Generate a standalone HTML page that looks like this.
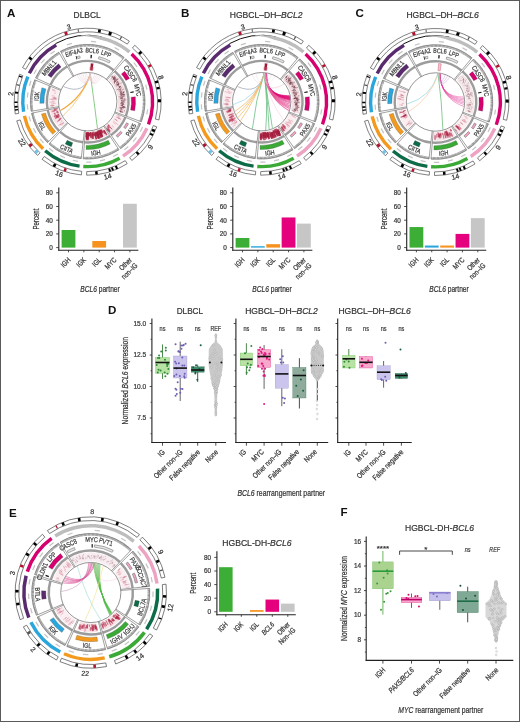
<!DOCTYPE html><html><head><meta charset="utf-8"><style>html,body{margin:0;padding:0;background:#fff}svg{display:block;will-change:transform}text{font-family:"Liberation Sans",sans-serif;stroke-width:0.22px}text[fill="#333"],text[fill="#444"],text[fill="#4a4a4a"]{stroke:#333}text[fill="#111"]{stroke:none}</style></head><body>
<svg width="520" height="722" viewBox="0 0 520 722" font-family='"Liberation Sans", sans-serif'>
<rect x="0" y="0" width="520" height="722" fill="#fff"/>
<rect x="0.5" y="0.5" width="519" height="721" fill="none" stroke="#5a5a5a" stroke-width="1"/>
<text x="7" y="16.8" font-size="11.6" font-weight="bold" fill="#111">A</text>
<text x="181" y="16.9" font-size="11.6" font-weight="bold" fill="#111">B</text>
<text x="355.5" y="16.9" font-size="11.6" font-weight="bold" fill="#111">C</text>
<text x="108" y="313.6" font-size="11.6" font-weight="bold" fill="#111">D</text>
<text x="9" y="516.5" font-size="11.6" font-weight="bold" fill="#111">E</text>
<text x="340.5" y="516.4" font-size="11.6" font-weight="bold" fill="#111">F</text>
<text x="87.1" y="17.6" text-anchor="middle" font-size="9.4" fill="#333" textLength="27" lengthAdjust="spacingAndGlyphs">DLBCL</text>
<text x="229.8" y="17.8" font-size="9.4" fill="#333" textLength="72.7" lengthAdjust="spacingAndGlyphs">HGBCL–DH–<tspan font-style="italic">BCL2</tspan></text>
<text x="406.4" y="17.8" font-size="9.4" fill="#333" textLength="72.4" lengthAdjust="spacingAndGlyphs">HGBCL–DH–<tspan font-style="italic">BCL6</tspan></text>
<path d="M90.8 63.22A38.6 38.6 0 0 1 93.47 63.53L92.41 70.55A31.5 31.5 0 0 0 90.23 70.3Z" fill="#a01834"/>
<path d="M89.78 66.76A35 35 0 0 1 93.66 67.21L93.06 70.66A31.5 31.5 0 0 0 89.57 70.26Z" fill="#c0405a" fill-opacity="0.6"/>
<path d="M114.79 73.65A39 39 0 0 1 124.79 113.75L116.61 111.09A30.4 30.4 0 0 0 108.82 79.83Z" fill="#f3e0e4"/>
<line x1="119.62" y1="86.63" x2="120.26" y2="86.33" stroke="#6e3440" stroke-width="0.65" stroke-opacity="0.75"/>
<line x1="122.69" y1="94.45" x2="123.81" y2="94.22" stroke="#6e3440" stroke-width="0.65" stroke-opacity="0.75"/>
<line x1="112.73" y1="78.93" x2="113.66" y2="78.09" stroke="#6e3440" stroke-width="0.65" stroke-opacity="0.75"/>
<line x1="113.29" y1="79.04" x2="113.84" y2="78.55" stroke="#6e3440" stroke-width="0.65" stroke-opacity="0.75"/>
<line x1="120.36" y1="90.56" x2="121.25" y2="90.26" stroke="#6e3440" stroke-width="0.65" stroke-opacity="0.75"/>
<line x1="121.13" y1="98.28" x2="123.14" y2="98.07" stroke="#6e3440" stroke-width="0.65" stroke-opacity="0.75"/>
<line x1="118.68" y1="96.76" x2="119.34" y2="96.65" stroke="#6e3440" stroke-width="0.65" stroke-opacity="0.75"/>
<line x1="123.61" y1="107.35" x2="124.63" y2="107.51" stroke="#6e3440" stroke-width="0.65" stroke-opacity="0.75"/>
<line x1="115.76" y1="80.74" x2="117.22" y2="79.64" stroke="#6e3440" stroke-width="0.65" stroke-opacity="0.75"/>
<line x1="116.53" y1="81.94" x2="117.74" y2="81.1" stroke="#6e3440" stroke-width="0.65" stroke-opacity="0.75"/>
<line x1="120.63" y1="98.76" x2="121.32" y2="98.69" stroke="#6e3440" stroke-width="0.65" stroke-opacity="0.75"/>
<line x1="113.91" y1="77.94" x2="114.59" y2="77.33" stroke="#6e3440" stroke-width="0.65" stroke-opacity="0.75"/>
<line x1="120.86" y1="100.28" x2="122.33" y2="100.22" stroke="#6e3440" stroke-width="0.65" stroke-opacity="0.75"/>
<line x1="120.88" y1="91.56" x2="121.88" y2="91.25" stroke="#6e3440" stroke-width="0.65" stroke-opacity="0.75"/>
<line x1="121.47" y1="104.56" x2="122.93" y2="104.68" stroke="#6e3440" stroke-width="0.65" stroke-opacity="0.75"/>
<line x1="120.2" y1="94.56" x2="122.07" y2="94.15" stroke="#6e3440" stroke-width="0.65" stroke-opacity="0.75"/>
<line x1="121.04" y1="102.1" x2="121.82" y2="102.11" stroke="#6e3440" stroke-width="0.65" stroke-opacity="0.75"/>
<line x1="123.33" y1="89.26" x2="124.33" y2="88.91" stroke="#6e3440" stroke-width="0.65" stroke-opacity="0.75"/>
<line x1="114.98" y1="81.68" x2="116.27" y2="80.74" stroke="#6e3440" stroke-width="0.65" stroke-opacity="0.75"/>
<line x1="121.88" y1="103.45" x2="123.34" y2="103.53" stroke="#6e3440" stroke-width="0.65" stroke-opacity="0.75"/>
<line x1="120.61" y1="107.52" x2="122.08" y2="107.78" stroke="#6e3440" stroke-width="0.65" stroke-opacity="0.75"/>
<line x1="123.31" y1="96.13" x2="124.58" y2="95.93" stroke="#6e3440" stroke-width="0.65" stroke-opacity="0.75"/>
<line x1="122.96" y1="106.5" x2="124.54" y2="106.72" stroke="#6e3440" stroke-width="0.65" stroke-opacity="0.75"/>
<line x1="112.7" y1="79.1" x2="113.92" y2="77.99" stroke="#6e3440" stroke-width="0.65" stroke-opacity="0.75"/>
<line x1="124.2" y1="98.77" x2="125.22" y2="98.69" stroke="#6e3440" stroke-width="0.65" stroke-opacity="0.75"/>
<line x1="119.46" y1="89.31" x2="120.96" y2="88.73" stroke="#6e3440" stroke-width="0.65" stroke-opacity="0.75"/>
<line x1="111.52" y1="78.24" x2="112.08" y2="77.7" stroke="#6e3440" stroke-width="0.65" stroke-opacity="0.75"/>
<line x1="113.16" y1="78.59" x2="114.46" y2="77.41" stroke="#6e3440" stroke-width="0.65" stroke-opacity="0.75"/>
<line x1="114.77" y1="80.76" x2="116.28" y2="79.6" stroke="#6e3440" stroke-width="0.65" stroke-opacity="0.75"/>
<line x1="114.55" y1="78.49" x2="115.52" y2="77.65" stroke="#6e3440" stroke-width="0.65" stroke-opacity="0.75"/>
<line x1="123.05" y1="94.93" x2="124.91" y2="94.58" stroke="#6e3440" stroke-width="0.65" stroke-opacity="0.75"/>
<line x1="116.43" y1="86.31" x2="117.51" y2="85.73" stroke="#6e3440" stroke-width="0.65" stroke-opacity="0.75"/>
<line x1="121.42" y1="87.36" x2="122.18" y2="87.04" stroke="#6e3440" stroke-width="0.65" stroke-opacity="0.75"/>
<line x1="114.02" y1="83.46" x2="114.8" y2="82.92" stroke="#6e3440" stroke-width="0.65" stroke-opacity="0.75"/>
<line x1="115.52" y1="84.94" x2="116.37" y2="84.43" stroke="#6e3440" stroke-width="0.65" stroke-opacity="0.75"/>
<line x1="111.68" y1="77.09" x2="112.54" y2="76.21" stroke="#6e3440" stroke-width="0.65" stroke-opacity="0.75"/>
<line x1="116.61" y1="89.8" x2="118.12" y2="89.18" stroke="#6e3440" stroke-width="0.65" stroke-opacity="0.75"/>
<line x1="119.75" y1="94.29" x2="121.24" y2="93.95" stroke="#6e3440" stroke-width="0.65" stroke-opacity="0.75"/>
<line x1="124.49" y1="99.95" x2="126.25" y2="99.87" stroke="#6e3440" stroke-width="0.65" stroke-opacity="0.75"/>
<line x1="122.3" y1="107.78" x2="124.07" y2="108.09" stroke="#6e3440" stroke-width="0.65" stroke-opacity="0.75"/>
<line x1="119.2" y1="89.68" x2="120.64" y2="89.13" stroke="#6e3440" stroke-width="0.65" stroke-opacity="0.75"/>
<line x1="113.38" y1="78.57" x2="113.9" y2="78.1" stroke="#6e3440" stroke-width="0.65" stroke-opacity="0.75"/>
<line x1="117.02" y1="82.92" x2="117.59" y2="82.55" stroke="#6e3440" stroke-width="0.65" stroke-opacity="0.75"/>
<line x1="112.17" y1="76.38" x2="112.74" y2="75.78" stroke="#6e3440" stroke-width="0.65" stroke-opacity="0.75"/>
<line x1="113.94" y1="80.07" x2="115.41" y2="78.85" stroke="#6e3440" stroke-width="0.65" stroke-opacity="0.75"/>
<line x1="121.89" y1="97.68" x2="122.71" y2="97.59" stroke="#6e3440" stroke-width="0.65" stroke-opacity="0.75"/>
<line x1="116.74" y1="85.03" x2="117.42" y2="84.64" stroke="#6e3440" stroke-width="0.65" stroke-opacity="0.75"/>
<line x1="122.54" y1="106.8" x2="124.61" y2="107.11" stroke="#6e3440" stroke-width="0.65" stroke-opacity="0.75"/>
<line x1="120.02" y1="92.32" x2="120.74" y2="92.11" stroke="#6e3440" stroke-width="0.65" stroke-opacity="0.75"/>
<line x1="118.98" y1="87.73" x2="119.89" y2="87.32" stroke="#6e3440" stroke-width="0.65" stroke-opacity="0.75"/>
<line x1="121.79" y1="105.91" x2="123.8" y2="106.16" stroke="#6e3440" stroke-width="0.65" stroke-opacity="0.75"/>
<line x1="121.36" y1="94.43" x2="122.16" y2="94.25" stroke="#6e3440" stroke-width="0.65" stroke-opacity="0.75"/>
<line x1="122.78" y1="94.73" x2="124.81" y2="94.33" stroke="#6e3440" stroke-width="0.65" stroke-opacity="0.75"/>
<line x1="121.72" y1="107.24" x2="123.34" y2="107.51" stroke="#6e3440" stroke-width="0.65" stroke-opacity="0.75"/>
<line x1="117.07" y1="85.23" x2="118.6" y2="84.37" stroke="#6e3440" stroke-width="0.65" stroke-opacity="0.75"/>
<line x1="121.73" y1="94.52" x2="123.47" y2="94.15" stroke="#6e3440" stroke-width="0.65" stroke-opacity="0.75"/>
<line x1="119.08" y1="87.13" x2="120.97" y2="86.26" stroke="#6e3440" stroke-width="0.65" stroke-opacity="0.75"/>
<line x1="123.83" y1="107.14" x2="125.62" y2="107.41" stroke="#6e3440" stroke-width="0.65" stroke-opacity="0.75"/>
<line x1="121.63" y1="105.49" x2="123" y2="105.64" stroke="#6e3440" stroke-width="0.65" stroke-opacity="0.75"/>
<line x1="118.27" y1="88.57" x2="118.86" y2="88.32" stroke="#6e3440" stroke-width="0.65" stroke-opacity="0.75"/>
<line x1="112.08" y1="77.98" x2="113.26" y2="76.84" stroke="#6e3440" stroke-width="0.65" stroke-opacity="0.75"/>
<line x1="121.66" y1="110.94" x2="122.88" y2="111.27" stroke="#6e3440" stroke-width="0.65" stroke-opacity="0.75"/>
<line x1="124.02" y1="110.74" x2="125.13" y2="111.01" stroke="#6e3440" stroke-width="0.65" stroke-opacity="0.75"/>
<line x1="116.53" y1="83.76" x2="117.33" y2="83.26" stroke="#6e3440" stroke-width="0.65" stroke-opacity="0.75"/>
<line x1="116.68" y1="82.59" x2="118.31" y2="81.51" stroke="#6e3440" stroke-width="0.65" stroke-opacity="0.75"/>
<line x1="123.31" y1="106.57" x2="124.62" y2="106.75" stroke="#6e3440" stroke-width="0.65" stroke-opacity="0.75"/>
<line x1="121.98" y1="99.18" x2="123.56" y2="99.06" stroke="#6e3440" stroke-width="0.65" stroke-opacity="0.75"/>
<line x1="120.62" y1="108.83" x2="122.35" y2="109.21" stroke="#6e3440" stroke-width="0.65" stroke-opacity="0.75"/>
<line x1="121.07" y1="102.87" x2="122.85" y2="102.93" stroke="#6e3440" stroke-width="0.65" stroke-opacity="0.75"/>
<line x1="118.87" y1="87.35" x2="120.5" y2="86.6" stroke="#6e3440" stroke-width="0.65" stroke-opacity="0.75"/>
<line x1="119.54" y1="110.94" x2="121.48" y2="111.51" stroke="#6e3440" stroke-width="0.65" stroke-opacity="0.75"/>
<line x1="122.7" y1="101.94" x2="123.56" y2="101.94" stroke="#6e3440" stroke-width="0.65" stroke-opacity="0.75"/>
<line x1="115.99" y1="79.7" x2="117.42" y2="78.59" stroke="#6e3440" stroke-width="0.65" stroke-opacity="0.75"/>
<line x1="116.98" y1="79.92" x2="118.46" y2="78.82" stroke="#6e3440" stroke-width="0.65" stroke-opacity="0.75"/>
<line x1="119.81" y1="111.36" x2="121.18" y2="111.77" stroke="#6e3440" stroke-width="0.65" stroke-opacity="0.75"/>
<line x1="113.99" y1="81.44" x2="114.48" y2="81.06" stroke="#6e3440" stroke-width="0.65" stroke-opacity="0.75"/>
<line x1="119.65" y1="110.94" x2="121.57" y2="111.5" stroke="#6e3440" stroke-width="0.65" stroke-opacity="0.75"/>
<line x1="118.96" y1="91.4" x2="120.77" y2="90.8" stroke="#6e3440" stroke-width="0.65" stroke-opacity="0.75"/>
<line x1="121.89" y1="105.82" x2="122.92" y2="105.95" stroke="#6e3440" stroke-width="0.65" stroke-opacity="0.75"/>
<line x1="117.96" y1="83.8" x2="119.24" y2="83.05" stroke="#6e3440" stroke-width="0.65" stroke-opacity="0.75"/>
<line x1="116.97" y1="85.21" x2="118.68" y2="84.24" stroke="#6e3440" stroke-width="0.65" stroke-opacity="0.75"/>
<line x1="119.41" y1="88.01" x2="120.59" y2="87.5" stroke="#6e3440" stroke-width="0.65" stroke-opacity="0.75"/>
<line x1="122.62" y1="96.38" x2="124.57" y2="96.08" stroke="#6e3440" stroke-width="0.65" stroke-opacity="0.75"/>
<line x1="120.15" y1="93.67" x2="121.51" y2="93.34" stroke="#6e3440" stroke-width="0.65" stroke-opacity="0.75"/>
<line x1="122.45" y1="94" x2="123.3" y2="93.81" stroke="#6e3440" stroke-width="0.65" stroke-opacity="0.75"/>
<line x1="111.68" y1="77.09" x2="112.93" y2="75.8" stroke="#6e3440" stroke-width="0.65" stroke-opacity="0.75"/>
<line x1="114.04" y1="83.28" x2="115.21" y2="82.46" stroke="#6e3440" stroke-width="0.65" stroke-opacity="0.75"/>
<line x1="118.97" y1="87.03" x2="120.22" y2="86.44" stroke="#6e3440" stroke-width="0.65" stroke-opacity="0.75"/>
<line x1="121.46" y1="95.47" x2="122.88" y2="95.21" stroke="#6e3440" stroke-width="0.65" stroke-opacity="0.75"/>
<line x1="116.77" y1="84.85" x2="117.65" y2="84.34" stroke="#6e3440" stroke-width="0.65" stroke-opacity="0.75"/>
<line x1="120.17" y1="103.64" x2="121.91" y2="103.75" stroke="#6e3440" stroke-width="0.65" stroke-opacity="0.75"/>
<line x1="121.02" y1="109.03" x2="122.26" y2="109.3" stroke="#6e3440" stroke-width="0.65" stroke-opacity="0.75"/>
<line x1="120.11" y1="97.84" x2="121.74" y2="97.64" stroke="#6e3440" stroke-width="0.65" stroke-opacity="0.75"/>
<line x1="120.34" y1="91.69" x2="121.68" y2="91.28" stroke="#6e3440" stroke-width="0.65" stroke-opacity="0.75"/>
<line x1="122.48" y1="92.12" x2="124.33" y2="91.61" stroke="#6e3440" stroke-width="0.65" stroke-opacity="0.75"/>
<line x1="120.14" y1="109.97" x2="121.1" y2="110.21" stroke="#6e3440" stroke-width="0.65" stroke-opacity="0.75"/>
<line x1="123.66" y1="95.24" x2="124.45" y2="95.09" stroke="#6e3440" stroke-width="0.65" stroke-opacity="0.75"/>
<line x1="113.89" y1="81.08" x2="114.88" y2="80.3" stroke="#6e3440" stroke-width="0.65" stroke-opacity="0.75"/>
<line x1="113.39" y1="79.08" x2="114.6" y2="78.02" stroke="#6e3440" stroke-width="0.65" stroke-opacity="0.75"/>
<line x1="122.31" y1="104.22" x2="124.25" y2="104.37" stroke="#6e3440" stroke-width="0.65" stroke-opacity="0.75"/>
<line x1="115" y1="81.78" x2="115.66" y2="81.3" stroke="#6e3440" stroke-width="0.65" stroke-opacity="0.75"/>
<line x1="119.49" y1="107.59" x2="121.51" y2="107.97" stroke="#6e3440" stroke-width="0.65" stroke-opacity="0.75"/>
<line x1="117.78" y1="82.94" x2="118.91" y2="82.24" stroke="#6e3440" stroke-width="0.65" stroke-opacity="0.75"/>
<line x1="119.98" y1="111.78" x2="121.74" y2="112.34" stroke="#6e3440" stroke-width="0.65" stroke-opacity="0.75"/>
<line x1="114.33" y1="82.59" x2="115.23" y2="81.94" stroke="#6e3440" stroke-width="0.65" stroke-opacity="0.75"/>
<line x1="116.77" y1="82.48" x2="117.67" y2="81.88" stroke="#6e3440" stroke-width="0.65" stroke-opacity="0.75"/>
<line x1="123.54" y1="101.84" x2="124.8" y2="101.84" stroke="#6e3440" stroke-width="0.65" stroke-opacity="0.75"/>
<line x1="112.09" y1="77.44" x2="112.87" y2="76.67" stroke="#6e3440" stroke-width="0.65" stroke-opacity="0.75"/>
<line x1="121.24" y1="98.13" x2="123.3" y2="97.91" stroke="#6e3440" stroke-width="0.65" stroke-opacity="0.75"/>
<line x1="121.76" y1="104.35" x2="123.81" y2="104.51" stroke="#6e3440" stroke-width="0.65" stroke-opacity="0.75"/>
<line x1="114.14" y1="80.06" x2="115.51" y2="78.94" stroke="#6e3440" stroke-width="0.65" stroke-opacity="0.75"/>
<line x1="118.02" y1="85.1" x2="118.72" y2="84.72" stroke="#6e3440" stroke-width="0.65" stroke-opacity="0.75"/>
<line x1="121.97" y1="89.92" x2="122.91" y2="89.59" stroke="#6e3440" stroke-width="0.65" stroke-opacity="0.75"/>
<line x1="114.19" y1="82.14" x2="115.78" y2="80.96" stroke="#6e3440" stroke-width="0.65" stroke-opacity="0.75"/>
<line x1="121.26" y1="96.09" x2="121.94" y2="95.98" stroke="#6e3440" stroke-width="0.65" stroke-opacity="0.75"/>
<line x1="121.34" y1="100.55" x2="122.58" y2="100.51" stroke="#6e3440" stroke-width="0.65" stroke-opacity="0.75"/>
<line x1="114.65" y1="77.97" x2="116" y2="76.78" stroke="#6e3440" stroke-width="0.65" stroke-opacity="0.75"/>
<line x1="113.12" y1="79.88" x2="114.55" y2="78.65" stroke="#6e3440" stroke-width="0.65" stroke-opacity="0.75"/>
<line x1="113.91" y1="78.31" x2="114.74" y2="77.58" stroke="#6e3440" stroke-width="0.65" stroke-opacity="0.75"/>
<line x1="120.25" y1="95.61" x2="122.2" y2="95.24" stroke="#6e3440" stroke-width="0.65" stroke-opacity="0.75"/>
<line x1="118.61" y1="84.67" x2="119.45" y2="84.2" stroke="#6e3440" stroke-width="0.65" stroke-opacity="0.75"/>
<line x1="115.18" y1="79.45" x2="115.83" y2="78.92" stroke="#6e3440" stroke-width="0.65" stroke-opacity="0.75"/>
<line x1="113.05" y1="78.25" x2="113.83" y2="77.53" stroke="#6e3440" stroke-width="0.65" stroke-opacity="0.75"/>
<line x1="122.94" y1="103.3" x2="123.97" y2="103.35" stroke="#6e3440" stroke-width="0.65" stroke-opacity="0.75"/>
<line x1="121.39" y1="93.3" x2="122" y2="93.15" stroke="#6e3440" stroke-width="0.65" stroke-opacity="0.75"/>
<line x1="118.26" y1="84.08" x2="118.8" y2="83.76" stroke="#6e3440" stroke-width="0.65" stroke-opacity="0.75"/>
<line x1="121.1" y1="102.23" x2="122.41" y2="102.26" stroke="#6e3440" stroke-width="0.65" stroke-opacity="0.75"/>
<line x1="120.65" y1="109.8" x2="121.39" y2="109.99" stroke="#6e3440" stroke-width="0.65" stroke-opacity="0.75"/>
<line x1="120.31" y1="105.36" x2="122.15" y2="105.57" stroke="#6e3440" stroke-width="0.65" stroke-opacity="0.75"/>
<line x1="120.25" y1="89.31" x2="121.52" y2="88.82" stroke="#6e3440" stroke-width="0.65" stroke-opacity="0.75"/>
<line x1="123.06" y1="100.47" x2="124.91" y2="100.41" stroke="#6e3440" stroke-width="0.65" stroke-opacity="0.75"/>
<line x1="121.77" y1="101.24" x2="123.32" y2="101.22" stroke="#6e3440" stroke-width="0.65" stroke-opacity="0.75"/>
<line x1="119.58" y1="90.03" x2="120.33" y2="89.76" stroke="#6e3440" stroke-width="0.65" stroke-opacity="0.75"/>
<line x1="113.59" y1="78.81" x2="114.87" y2="77.68" stroke="#6e3440" stroke-width="0.65" stroke-opacity="0.75"/>
<line x1="117.67" y1="84.65" x2="119.29" y2="83.72" stroke="#6e3440" stroke-width="0.65" stroke-opacity="0.75"/>
<line x1="121.87" y1="107.55" x2="123.45" y2="107.82" stroke="#6e3440" stroke-width="0.65" stroke-opacity="0.75"/>
<line x1="117.96" y1="85.64" x2="119.09" y2="85.04" stroke="#6e3440" stroke-width="0.65" stroke-opacity="0.75"/>
<line x1="116.27" y1="81" x2="117.3" y2="80.26" stroke="#6e3440" stroke-width="0.65" stroke-opacity="0.75"/>
<line x1="120.53" y1="83.39" x2="121.59" y2="82.8" stroke="#6e3440" stroke-width="0.65" stroke-opacity="0.75"/>
<line x1="116.5" y1="84.84" x2="118.26" y2="83.8" stroke="#6e3440" stroke-width="0.65" stroke-opacity="0.75"/>
<line x1="118.36" y1="86.62" x2="119.41" y2="86.11" stroke="#6e3440" stroke-width="0.65" stroke-opacity="0.75"/>
<line x1="120.68" y1="92.48" x2="121.99" y2="92.11" stroke="#6e3440" stroke-width="0.65" stroke-opacity="0.75"/>
<line x1="116.23" y1="83.08" x2="117.06" y2="82.53" stroke="#6e3440" stroke-width="0.65" stroke-opacity="0.75"/>
<line x1="113.8" y1="79.6" x2="114.71" y2="78.83" stroke="#6e3440" stroke-width="0.65" stroke-opacity="0.75"/>
<line x1="113.37" y1="77.48" x2="114.06" y2="76.83" stroke="#6e3440" stroke-width="0.65" stroke-opacity="0.75"/>
<line x1="121.68" y1="96.61" x2="123.05" y2="96.4" stroke="#6e3440" stroke-width="0.65" stroke-opacity="0.75"/>
<line x1="120.75" y1="102.87" x2="122.66" y2="102.94" stroke="#6e3440" stroke-width="0.65" stroke-opacity="0.75"/>
<line x1="118" y1="90.02" x2="119.02" y2="89.63" stroke="#6e3440" stroke-width="0.65" stroke-opacity="0.75"/>
<line x1="121.58" y1="112.07" x2="123.08" y2="112.53" stroke="#6e3440" stroke-width="0.65" stroke-opacity="0.75"/>
<line x1="113.86" y1="77.14" x2="115.21" y2="75.87" stroke="#6e3440" stroke-width="0.65" stroke-opacity="0.75"/>
<line x1="119.82" y1="107.99" x2="121.6" y2="108.34" stroke="#6e3440" stroke-width="0.65" stroke-opacity="0.75"/>
<line x1="113.77" y1="81.99" x2="114.88" y2="81.16" stroke="#6e3440" stroke-width="0.65" stroke-opacity="0.75"/>
<line x1="122.09" y1="93.3" x2="123.87" y2="92.87" stroke="#6e3440" stroke-width="0.65" stroke-opacity="0.75"/>
<line x1="119.51" y1="96.88" x2="121.43" y2="96.59" stroke="#6e3440" stroke-width="0.65" stroke-opacity="0.75"/>
<line x1="121.55" y1="100.34" x2="122.19" y2="100.32" stroke="#6e3440" stroke-width="0.65" stroke-opacity="0.75"/>
<line x1="114.14" y1="81.42" x2="115.05" y2="80.73" stroke="#6e3440" stroke-width="0.65" stroke-opacity="0.75"/>
<line x1="114.83" y1="79.5" x2="116.02" y2="78.53" stroke="#6e3440" stroke-width="0.65" stroke-opacity="0.75"/>
<line x1="120.3" y1="98.32" x2="121.91" y2="98.15" stroke="#6e3440" stroke-width="0.65" stroke-opacity="0.75"/>
<line x1="123.03" y1="92.44" x2="124.7" y2="92" stroke="#6e3440" stroke-width="0.65" stroke-opacity="0.75"/>
<line x1="120.96" y1="93.52" x2="122.32" y2="93.19" stroke="#6e3440" stroke-width="0.65" stroke-opacity="0.75"/>
<line x1="123.76" y1="99.3" x2="124.74" y2="99.24" stroke="#6e3440" stroke-width="0.65" stroke-opacity="0.75"/>
<line x1="114.06" y1="78.59" x2="114.81" y2="77.93" stroke="#6e3440" stroke-width="0.65" stroke-opacity="0.75"/>
<line x1="122.49" y1="102.11" x2="124.55" y2="102.14" stroke="#6e3440" stroke-width="0.65" stroke-opacity="0.75"/>
<line x1="122.81" y1="92.69" x2="123.95" y2="92.4" stroke="#6e3440" stroke-width="0.65" stroke-opacity="0.75"/>
<line x1="119.82" y1="92.89" x2="121.29" y2="92.48" stroke="#6e3440" stroke-width="0.65" stroke-opacity="0.75"/>
<line x1="119.76" y1="98.97" x2="120.47" y2="98.91" stroke="#6e3440" stroke-width="0.65" stroke-opacity="0.75"/>
<path d="M123.15 117.48A38.8 38.8 0 0 1 111.05 132.69L105.87 125.82A30.2 30.2 0 0 0 115.29 113.98Z" fill="#faeef1"/>
<line x1="115.9" y1="116.87" x2="119.18" y2="118.63" stroke="#c0506a" stroke-width="0.8" stroke-opacity="0.38"/>
<line x1="115.66" y1="119.74" x2="116.95" y2="120.57" stroke="#c0506a" stroke-width="0.8" stroke-opacity="0.38"/>
<line x1="116.59" y1="115.64" x2="119.75" y2="117.17" stroke="#c0506a" stroke-width="0.8" stroke-opacity="0.38"/>
<line x1="111.91" y1="125.14" x2="113.62" y2="126.79" stroke="#c0506a" stroke-width="0.8" stroke-opacity="0.38"/>
<line x1="113.24" y1="122.37" x2="115.5" y2="124.19" stroke="#c0506a" stroke-width="0.8" stroke-opacity="0.38"/>
<line x1="118.39" y1="117.63" x2="120.25" y2="118.6" stroke="#c0506a" stroke-width="0.8" stroke-opacity="0.38"/>
<line x1="108.92" y1="129.22" x2="109.86" y2="130.44" stroke="#c0506a" stroke-width="0.8" stroke-opacity="0.38"/>
<line x1="114.96" y1="122.48" x2="118.4" y2="125.1" stroke="#c0506a" stroke-width="0.8" stroke-opacity="0.38"/>
<line x1="113.3" y1="121.02" x2="115" y2="122.3" stroke="#c0506a" stroke-width="0.8" stroke-opacity="0.38"/>
<line x1="107.56" y1="126.59" x2="109.58" y2="129.13" stroke="#c0506a" stroke-width="0.8" stroke-opacity="0.38"/>
<line x1="116.89" y1="117.29" x2="120.74" y2="119.35" stroke="#c0506a" stroke-width="0.8" stroke-opacity="0.38"/>
<line x1="118.01" y1="117.71" x2="120.69" y2="119.13" stroke="#c0506a" stroke-width="0.8" stroke-opacity="0.38"/>
<line x1="109.56" y1="127.5" x2="110.98" y2="129.17" stroke="#c0506a" stroke-width="0.8" stroke-opacity="0.38"/>
<line x1="108.86" y1="126.95" x2="109.87" y2="128.16" stroke="#c0506a" stroke-width="0.8" stroke-opacity="0.38"/>
<line x1="117.79" y1="115.16" x2="120.4" y2="116.33" stroke="#c0506a" stroke-width="0.8" stroke-opacity="0.38"/>
<line x1="114.24" y1="118.78" x2="116.37" y2="120.15" stroke="#c0506a" stroke-width="0.8" stroke-opacity="0.38"/>
<line x1="116.46" y1="120.5" x2="117.72" y2="121.32" stroke="#c0506a" stroke-width="0.8" stroke-opacity="0.38"/>
<line x1="111.66" y1="126.32" x2="112.96" y2="127.65" stroke="#c0506a" stroke-width="0.8" stroke-opacity="0.38"/>
<line x1="109.07" y1="127.96" x2="111.72" y2="131.22" stroke="#c0506a" stroke-width="0.8" stroke-opacity="0.38"/>
<line x1="115.13" y1="119.11" x2="117.39" y2="120.55" stroke="#c0506a" stroke-width="0.8" stroke-opacity="0.38"/>
<path d="M114.65 129.61A38.8 38.8 0 0 1 109.95 133.48L105.02 126.44A30.2 30.2 0 0 0 108.68 123.42Z" fill="#f7e3e7"/>
<line x1="106.55" y1="128.61" x2="108.24" y2="131.02" stroke="#b02545" stroke-width="1.13" stroke-opacity="0.6"/>
<line x1="108.05" y1="124.68" x2="109.31" y2="126.11" stroke="#b02545" stroke-width="1.53" stroke-opacity="0.6"/>
<line x1="110.36" y1="127.37" x2="112.01" y2="129.25" stroke="#b02545" stroke-width="0.97" stroke-opacity="0.6"/>
<line x1="107.54" y1="125.85" x2="109.44" y2="128.17" stroke="#b02545" stroke-width="1.66" stroke-opacity="0.6"/>
<line x1="107.56" y1="128.99" x2="109.92" y2="132.24" stroke="#b02545" stroke-width="1.61" stroke-opacity="0.6"/>
<line x1="106.7" y1="128.31" x2="109.25" y2="131.87" stroke="#b02545" stroke-width="0.75" stroke-opacity="0.6"/>
<line x1="107.32" y1="127.36" x2="110.06" y2="130.94" stroke="#b02545" stroke-width="1.34" stroke-opacity="0.6"/>
<line x1="108.01" y1="124.72" x2="111.45" y2="128.62" stroke="#b02545" stroke-width="0.83" stroke-opacity="0.6"/>
<path d="M107.1 135.3A38.8 38.8 0 0 1 85.67 140.45L86.12 131.86A30.2 30.2 0 0 0 102.8 127.85Z" fill="#f4d9df"/>
<line x1="95.53" y1="132.14" x2="96.52" y2="136" stroke="#a51d3d" stroke-width="1.69" stroke-opacity="0.75"/>
<line x1="86.49" y1="132.86" x2="86.27" y2="138.63" stroke="#a51d3d" stroke-width="1.16" stroke-opacity="0.75"/>
<line x1="94.06" y1="132.64" x2="94.73" y2="135.91" stroke="#a51d3d" stroke-width="0.99" stroke-opacity="0.75"/>
<line x1="100.71" y1="132.15" x2="102.67" y2="136.74" stroke="#a51d3d" stroke-width="1.06" stroke-opacity="0.75"/>
<line x1="87.75" y1="135.09" x2="87.76" y2="139.84" stroke="#a51d3d" stroke-width="0.97" stroke-opacity="0.75"/>
<line x1="100" y1="129.8" x2="101.69" y2="133.65" stroke="#a51d3d" stroke-width="0.91" stroke-opacity="0.75"/>
<line x1="99.43" y1="130.58" x2="101.45" y2="135.54" stroke="#a51d3d" stroke-width="1.86" stroke-opacity="0.75"/>
<line x1="90.6" y1="133.21" x2="91.02" y2="137.76" stroke="#a51d3d" stroke-width="1.43" stroke-opacity="0.75"/>
<line x1="97.18" y1="131.65" x2="98.03" y2="134.33" stroke="#a51d3d" stroke-width="1.13" stroke-opacity="0.75"/>
<line x1="86.66" y1="132.46" x2="86.49" y2="137.47" stroke="#a51d3d" stroke-width="1.56" stroke-opacity="0.75"/>
<line x1="88.53" y1="132.74" x2="88.63" y2="136.59" stroke="#a51d3d" stroke-width="1.1" stroke-opacity="0.75"/>
<line x1="96.88" y1="132.08" x2="98.86" y2="138.65" stroke="#a51d3d" stroke-width="1.82" stroke-opacity="0.75"/>
<line x1="88.34" y1="132.16" x2="88.39" y2="134.82" stroke="#a51d3d" stroke-width="1.65" stroke-opacity="0.75"/>
<line x1="87.95" y1="133.52" x2="87.99" y2="138.95" stroke="#a51d3d" stroke-width="0.8" stroke-opacity="0.75"/>
<line x1="97.45" y1="133.42" x2="99.04" y2="138.6" stroke="#a51d3d" stroke-width="1.83" stroke-opacity="0.75"/>
<line x1="86.57" y1="132.82" x2="86.46" y2="135.87" stroke="#a51d3d" stroke-width="0.99" stroke-opacity="0.75"/>
<line x1="94.87" y1="133.34" x2="96.23" y2="139.35" stroke="#a51d3d" stroke-width="1.67" stroke-opacity="0.75"/>
<line x1="92.61" y1="134.02" x2="93.33" y2="138.76" stroke="#a51d3d" stroke-width="1.46" stroke-opacity="0.75"/>
<line x1="103.42" y1="130.43" x2="105.18" y2="133.64" stroke="#a51d3d" stroke-width="1.9" stroke-opacity="0.75"/>
<line x1="92.44" y1="132.65" x2="92.91" y2="135.75" stroke="#a51d3d" stroke-width="1.1" stroke-opacity="0.75"/>
<line x1="92.78" y1="133.8" x2="93.26" y2="136.82" stroke="#a51d3d" stroke-width="0.88" stroke-opacity="0.75"/>
<line x1="94.76" y1="133.06" x2="95.74" y2="137.39" stroke="#a51d3d" stroke-width="1.07" stroke-opacity="0.75"/>
<line x1="93.07" y1="131.65" x2="93.78" y2="135.6" stroke="#a51d3d" stroke-width="1.35" stroke-opacity="0.75"/>
<line x1="86.77" y1="134.02" x2="86.59" y2="140.28" stroke="#a51d3d" stroke-width="1.37" stroke-opacity="0.75"/>
<line x1="99.49" y1="130.52" x2="102.26" y2="137.28" stroke="#a51d3d" stroke-width="1.65" stroke-opacity="0.75"/>
<line x1="98.05" y1="130.35" x2="99.74" y2="135.05" stroke="#a51d3d" stroke-width="1.61" stroke-opacity="0.75"/>
<line x1="96.37" y1="131.64" x2="97.99" y2="137.25" stroke="#a51d3d" stroke-width="1.91" stroke-opacity="0.75"/>
<line x1="99.38" y1="129.88" x2="100.99" y2="133.75" stroke="#a51d3d" stroke-width="1.3" stroke-opacity="0.75"/>
<line x1="91.73" y1="132.43" x2="92.58" y2="138.86" stroke="#a51d3d" stroke-width="1.69" stroke-opacity="0.75"/>
<line x1="94.86" y1="131.88" x2="96.55" y2="139.03" stroke="#a51d3d" stroke-width="1.17" stroke-opacity="0.75"/>
<line x1="89.29" y1="132.75" x2="89.48" y2="136.35" stroke="#a51d3d" stroke-width="1.71" stroke-opacity="0.75"/>
<line x1="99.22" y1="132.9" x2="100.94" y2="137.57" stroke="#a51d3d" stroke-width="1.02" stroke-opacity="0.75"/>
<line x1="99.88" y1="130.91" x2="102.12" y2="136.29" stroke="#a51d3d" stroke-width="1.94" stroke-opacity="0.75"/>
<line x1="101.13" y1="130.28" x2="102.65" y2="133.51" stroke="#a51d3d" stroke-width="1.97" stroke-opacity="0.75"/>
<line x1="100.77" y1="129.32" x2="101.96" y2="131.85" stroke="#a51d3d" stroke-width="1.27" stroke-opacity="0.75"/>
<line x1="87.91" y1="134.75" x2="87.94" y2="140.3" stroke="#a51d3d" stroke-width="2" stroke-opacity="0.75"/>
<line x1="87.29" y1="133.09" x2="87.25" y2="136.51" stroke="#a51d3d" stroke-width="1.92" stroke-opacity="0.75"/>
<line x1="90.55" y1="132.06" x2="91.1" y2="137.86" stroke="#a51d3d" stroke-width="1.25" stroke-opacity="0.75"/>
<line x1="97.23" y1="131.62" x2="98.24" y2="134.8" stroke="#a51d3d" stroke-width="0.8" stroke-opacity="0.75"/>
<line x1="98.85" y1="131.11" x2="101.39" y2="137.79" stroke="#a51d3d" stroke-width="0.95" stroke-opacity="0.75"/>
<line x1="86.71" y1="132.71" x2="86.58" y2="136.99" stroke="#a51d3d" stroke-width="1.79" stroke-opacity="0.75"/>
<line x1="89.29" y1="133.36" x2="89.43" y2="136.1" stroke="#a51d3d" stroke-width="1.37" stroke-opacity="0.75"/>
<line x1="97.78" y1="133.29" x2="98.84" y2="136.59" stroke="#a51d3d" stroke-width="1.24" stroke-opacity="0.75"/>
<line x1="87.91" y1="132.19" x2="87.94" y2="136.74" stroke="#a51d3d" stroke-width="1.77" stroke-opacity="0.75"/>
<line x1="90.2" y1="132.12" x2="90.42" y2="134.78" stroke="#a51d3d" stroke-width="0.88" stroke-opacity="0.75"/>
<line x1="87.5" y1="132.87" x2="87.46" y2="139.11" stroke="#a51d3d" stroke-width="1.88" stroke-opacity="0.75"/>
<line x1="97.77" y1="131.25" x2="100.12" y2="138.15" stroke="#a51d3d" stroke-width="1.54" stroke-opacity="0.75"/>
<line x1="99.55" y1="132.02" x2="101.04" y2="135.82" stroke="#a51d3d" stroke-width="1.13" stroke-opacity="0.75"/>
<line x1="103.97" y1="130.03" x2="106.93" y2="135.17" stroke="#a51d3d" stroke-width="1.56" stroke-opacity="0.75"/>
<line x1="87.1" y1="132.17" x2="87.03" y2="135.84" stroke="#a51d3d" stroke-width="1.37" stroke-opacity="0.75"/>
<line x1="86.79" y1="134.95" x2="86.66" y2="139.38" stroke="#a51d3d" stroke-width="1.1" stroke-opacity="0.75"/>
<line x1="96.39" y1="132.37" x2="98.22" y2="138.84" stroke="#a51d3d" stroke-width="1.02" stroke-opacity="0.75"/>
<path d="M59.79 128.65A38.8 38.8 0 0 1 49.75 109.77L58.16 107.98A30.2 30.2 0 0 0 65.98 122.68Z" fill="#faeef1"/>
<line x1="55.47" y1="112.37" x2="51.7" y2="113.62" stroke="#c0506a" stroke-width="0.8" stroke-opacity="0.38"/>
<line x1="56.14" y1="112.73" x2="53.8" y2="113.55" stroke="#c0506a" stroke-width="0.8" stroke-opacity="0.38"/>
<line x1="60.73" y1="119.74" x2="57.53" y2="121.88" stroke="#c0506a" stroke-width="0.8" stroke-opacity="0.38"/>
<line x1="63.88" y1="122.75" x2="61.06" y2="125.24" stroke="#c0506a" stroke-width="0.8" stroke-opacity="0.38"/>
<line x1="62.44" y1="120.11" x2="61.14" y2="121.05" stroke="#c0506a" stroke-width="0.8" stroke-opacity="0.38"/>
<line x1="58.75" y1="116.02" x2="54.76" y2="117.99" stroke="#c0506a" stroke-width="0.8" stroke-opacity="0.38"/>
<line x1="54.06" y1="111.17" x2="51.85" y2="111.8" stroke="#c0506a" stroke-width="0.8" stroke-opacity="0.38"/>
<line x1="64.12" y1="122.42" x2="61.87" y2="124.4" stroke="#c0506a" stroke-width="0.8" stroke-opacity="0.38"/>
<line x1="57.15" y1="113.6" x2="55.1" y2="114.4" stroke="#c0506a" stroke-width="0.8" stroke-opacity="0.38"/>
<line x1="58.9" y1="118.77" x2="55.87" y2="120.57" stroke="#c0506a" stroke-width="0.8" stroke-opacity="0.38"/>
<line x1="55.4" y1="113.5" x2="52.12" y2="114.7" stroke="#c0506a" stroke-width="0.8" stroke-opacity="0.38"/>
<line x1="61.42" y1="123.84" x2="59.6" y2="125.38" stroke="#c0506a" stroke-width="0.8" stroke-opacity="0.38"/>
<line x1="58.46" y1="115.87" x2="55.12" y2="117.49" stroke="#c0506a" stroke-width="0.8" stroke-opacity="0.38"/>
<line x1="62.36" y1="121.23" x2="60.59" y2="122.59" stroke="#c0506a" stroke-width="0.8" stroke-opacity="0.38"/>
<line x1="60.9" y1="123.48" x2="58.38" y2="125.52" stroke="#c0506a" stroke-width="0.8" stroke-opacity="0.38"/>
<line x1="60.55" y1="119.71" x2="56.82" y2="122.19" stroke="#c0506a" stroke-width="0.8" stroke-opacity="0.38"/>
<line x1="59.45" y1="116.57" x2="55.98" y2="118.4" stroke="#c0506a" stroke-width="0.8" stroke-opacity="0.38"/>
<line x1="55.54" y1="115.41" x2="53.88" y2="116.12" stroke="#c0506a" stroke-width="0.8" stroke-opacity="0.38"/>
<line x1="57.67" y1="118.22" x2="54.14" y2="120.15" stroke="#c0506a" stroke-width="0.8" stroke-opacity="0.38"/>
<line x1="57.56" y1="109.63" x2="55.26" y2="110.23" stroke="#c0506a" stroke-width="0.8" stroke-opacity="0.38"/>
<line x1="63.44" y1="122.19" x2="60.06" y2="125.04" stroke="#c0506a" stroke-width="0.8" stroke-opacity="0.38"/>
<line x1="56.32" y1="116.56" x2="53.95" y2="117.68" stroke="#c0506a" stroke-width="0.8" stroke-opacity="0.38"/>
<path d="M55.16 122.83A38.8 38.8 0 0 1 49.75 109.77L58.16 107.98A30.2 30.2 0 0 0 62.37 118.15Z" fill="#f7e3e7"/>
<line x1="56.48" y1="109.96" x2="54.02" y2="110.61" stroke="#b02545" stroke-width="1.48" stroke-opacity="0.6"/>
<line x1="57.59" y1="108.73" x2="53.8" y2="109.61" stroke="#b02545" stroke-width="1.32" stroke-opacity="0.6"/>
<line x1="59.58" y1="116.92" x2="57.76" y2="117.91" stroke="#b02545" stroke-width="0.9" stroke-opacity="0.6"/>
<line x1="58.56" y1="116.97" x2="54.92" y2="118.87" stroke="#b02545" stroke-width="0.9" stroke-opacity="0.6"/>
<line x1="60.95" y1="118.91" x2="57.41" y2="121.19" stroke="#b02545" stroke-width="0.89" stroke-opacity="0.6"/>
<line x1="59.66" y1="115.64" x2="55.47" y2="117.73" stroke="#b02545" stroke-width="1.25" stroke-opacity="0.6"/>
<line x1="61.4" y1="117.93" x2="58.77" y2="119.54" stroke="#b02545" stroke-width="1.25" stroke-opacity="0.6"/>
<line x1="58.62" y1="112.04" x2="56.59" y2="112.76" stroke="#b02545" stroke-width="1.4" stroke-opacity="0.6"/>
<line x1="58.89" y1="114.77" x2="56.4" y2="115.89" stroke="#b02545" stroke-width="1.65" stroke-opacity="0.6"/>
<line x1="58.36" y1="116.29" x2="55.74" y2="117.59" stroke="#b02545" stroke-width="1.12" stroke-opacity="0.6"/>
<line x1="54.37" y1="110.54" x2="51.51" y2="111.3" stroke="#b02545" stroke-width="0.9" stroke-opacity="0.6"/>
<line x1="57.87" y1="111.23" x2="56.42" y2="111.69" stroke="#b02545" stroke-width="1.6" stroke-opacity="0.6"/>
<line x1="56.86" y1="115.49" x2="54.01" y2="116.77" stroke="#b02545" stroke-width="1.58" stroke-opacity="0.6"/>
<line x1="59.09" y1="114.03" x2="57.66" y2="114.65" stroke="#b02545" stroke-width="1.25" stroke-opacity="0.6"/>
<line x1="55.53" y1="113.12" x2="53.78" y2="113.74" stroke="#b02545" stroke-width="1.32" stroke-opacity="0.6"/>
<line x1="58.28" y1="115.55" x2="56.39" y2="116.44" stroke="#b02545" stroke-width="0.98" stroke-opacity="0.6"/>
<line x1="56" y1="114.54" x2="54.21" y2="115.27" stroke="#b02545" stroke-width="1.19" stroke-opacity="0.6"/>
<line x1="54.68" y1="111.23" x2="52.48" y2="111.86" stroke="#b02545" stroke-width="0.83" stroke-opacity="0.6"/>
<path d="M49.28 107.1A38.8 38.8 0 0 1 51.48 87.8L59.51 90.88A30.2 30.2 0 0 0 57.79 105.9Z" fill="#faeef1"/>
<line x1="54.77" y1="90.14" x2="51.99" y2="89.16" stroke="#c0506a" stroke-width="0.8" stroke-opacity="0.38"/>
<line x1="53.22" y1="105.6" x2="50.57" y2="105.9" stroke="#c0506a" stroke-width="0.8" stroke-opacity="0.38"/>
<line x1="55.9" y1="91.23" x2="52.12" y2="89.99" stroke="#c0506a" stroke-width="0.8" stroke-opacity="0.38"/>
<line x1="53.62" y1="103.7" x2="51.45" y2="103.82" stroke="#c0506a" stroke-width="0.8" stroke-opacity="0.38"/>
<line x1="53.39" y1="99.46" x2="49.41" y2="99.2" stroke="#c0506a" stroke-width="0.8" stroke-opacity="0.38"/>
<line x1="55.86" y1="103.2" x2="53.17" y2="103.32" stroke="#c0506a" stroke-width="0.8" stroke-opacity="0.38"/>
<line x1="55.41" y1="97.72" x2="53.55" y2="97.5" stroke="#c0506a" stroke-width="0.8" stroke-opacity="0.38"/>
<line x1="53.8" y1="102.19" x2="49.61" y2="102.26" stroke="#c0506a" stroke-width="0.8" stroke-opacity="0.38"/>
<line x1="54.69" y1="105.64" x2="50.94" y2="106.09" stroke="#c0506a" stroke-width="0.8" stroke-opacity="0.38"/>
<line x1="53.6" y1="105.82" x2="51.76" y2="106.05" stroke="#c0506a" stroke-width="0.8" stroke-opacity="0.38"/>
<line x1="54.94" y1="96.29" x2="51.61" y2="95.73" stroke="#c0506a" stroke-width="0.8" stroke-opacity="0.38"/>
<line x1="55.02" y1="101.2" x2="51.78" y2="101.15" stroke="#c0506a" stroke-width="0.8" stroke-opacity="0.38"/>
<line x1="54.16" y1="99.15" x2="51.33" y2="98.94" stroke="#c0506a" stroke-width="0.8" stroke-opacity="0.38"/>
<line x1="56.71" y1="99.15" x2="53.37" y2="98.87" stroke="#c0506a" stroke-width="0.8" stroke-opacity="0.38"/>
<line x1="55.95" y1="98.25" x2="52.18" y2="97.84" stroke="#c0506a" stroke-width="0.8" stroke-opacity="0.38"/>
<line x1="55.93" y1="93.41" x2="53.96" y2="92.9" stroke="#c0506a" stroke-width="0.8" stroke-opacity="0.38"/>
<line x1="56.43" y1="98.57" x2="54.55" y2="98.38" stroke="#c0506a" stroke-width="0.8" stroke-opacity="0.38"/>
<line x1="56.43" y1="99.25" x2="53.61" y2="99.02" stroke="#c0506a" stroke-width="0.8" stroke-opacity="0.38"/>
<line x1="56.76" y1="98.01" x2="53.37" y2="97.61" stroke="#c0506a" stroke-width="0.8" stroke-opacity="0.38"/>
<line x1="53.93" y1="105.02" x2="50.11" y2="105.4" stroke="#c0506a" stroke-width="0.8" stroke-opacity="0.38"/>
<path d="M68.36 65.78A40.8 40.8 0 0 1 113.65 70.22" fill="none" stroke="#9c9c9c" stroke-width="2.4"/>
<path d="M61.01 52.13A56.3 56.3 0 0 1 123.51 58.26" fill="none" stroke="#808080" stroke-width="2.4" stroke-dasharray="0.5 0.3"/>
<path d="M60.53 51.25A57.3 57.3 0 0 1 124.15 57.49" fill="none" stroke="#707070" stroke-width="0.6"/>
<line x1="73.86" y1="75.99" x2="60.53" y2="51.25" stroke="#7a7a7a" stroke-width="0.7"/>
<line x1="106.27" y1="79.17" x2="124.15" y2="57.49" stroke="#7a7a7a" stroke-width="0.7"/>
<rect x="66.77" y="43.55" width="5.2" height="1.2" fill="#c4c4c4" transform="rotate(-17.67,69.37,44.15)"/>
<rect x="90.99" y="40.99" width="5.2" height="1.2" fill="#c4c4c4" transform="rotate(5.6,93.59,41.59)"/>
<rect x="114.26" y="48.2" width="5.2" height="1.2" fill="#c4c4c4" transform="rotate(28.87,116.86,48.8)"/>
<path d="M22.56 67.65A73.5 73.5 0 0 1 129.33 41.13L127.29 44.09A69.9 69.9 0 0 0 25.75 69.32Z" fill="#fff" stroke="#4a4a4a" stroke-width="0.7"/>
<path d="M28.4 58.62A73.3 73.3 0 0 1 29.94 56.57L32.46 58.54A70.1 70.1 0 0 0 30.99 60.5Z" fill="#000"/>
<path d="M64.08 32.31A73.3 73.3 0 0 1 67 31.38L67.91 34.45A70.1 70.1 0 0 0 65.11 35.34Z" fill="#b3122e"/>
<path d="M98.28 29.17A73.3 73.3 0 0 1 101.06 29.63L100.47 32.77A70.1 70.1 0 0 0 97.82 32.33Z" fill="#000"/>
<path d="M109.13 31.6A73.3 73.3 0 0 1 112.05 32.56L110.98 35.58A70.1 70.1 0 0 0 108.2 34.66Z" fill="#000"/>
<path d="M120.98 36.39A73.3 73.3 0 0 1 122.11 36.98L120.61 39.81A70.1 70.1 0 0 0 119.52 39.24Z" fill="#555"/>
<path d="M77.5 29.11A73.3 73.3 0 0 1 78.77 28.95L79.16 32.12A70.1 70.1 0 0 0 77.94 32.28Z" fill="#777"/>
<path d="M77.42 56.45A46.4 46.4 0 0 1 79.8 55.98L80.18 58.14A44.2 44.2 0 0 0 77.91 58.6Z" fill="#e6e6e6" stroke="#777" stroke-width="0.6"/>
<text transform="translate(73.94,52.07) rotate(344.5)" text-anchor="middle" dominant-baseline="central" font-size="6.6" fill="#4a4a4a" textLength="18.07" lengthAdjust="spacingAndGlyphs" >EIF4A2</text>
<path d="M75.69 56.26A47 47 0 0 1 76.49 56.06L77.3 59.36A43.6 43.6 0 0 0 76.56 59.55Z" fill="#111"/>
<path d="M90.65 54.79A47 47 0 0 1 91.96 54.89L91.65 58.28A43.6 43.6 0 0 0 90.44 58.19Z" fill="#111"/>
<text transform="translate(92.19,50.4) rotate(5)" text-anchor="middle" dominant-baseline="central" font-size="6.6" fill="#4a4a4a" textLength="13.55" lengthAdjust="spacingAndGlyphs" >BCL6</text>
<path d="M98.93 56.68A46.4 46.4 0 0 1 110.2 61.12L109.13 63.04A44.2 44.2 0 0 0 98.39 58.81Z" fill="#e6e6e6" stroke="#777" stroke-width="0.6"/>
<text transform="translate(106.16,53.62) rotate(21)" text-anchor="middle" dominant-baseline="central" font-size="6.6" fill="#4a4a4a" textLength="10.24" lengthAdjust="spacingAndGlyphs" >LPP</text>
<path d="M114.73 71.14A40.8 40.8 0 0 1 125.92 115.99" fill="none" stroke="#9c9c9c" stroke-width="2.4"/>
<path d="M125.01 59.53A56.3 56.3 0 0 1 140.43 121.42" fill="none" stroke="#808080" stroke-width="2.4" stroke-dasharray="0.5 0.3"/>
<path d="M125.67 58.78A57.3 57.3 0 0 1 141.37 121.77" fill="none" stroke="#707070" stroke-width="0.6"/>
<line x1="107.05" y1="79.83" x2="125.67" y2="58.78" stroke="#7a7a7a" stroke-width="0.7"/>
<line x1="115.05" y1="111.93" x2="141.37" y2="121.77" stroke="#7a7a7a" stroke-width="0.7"/>
<rect x="132.91" y="64.19" width="5.2" height="1.2" fill="#c4c4c4" transform="rotate(52.33,135.51,64.79)"/>
<rect x="143.71" y="86.49" width="5.2" height="1.2" fill="#c4c4c4" transform="rotate(76,146.31,87.09)"/>
<rect x="144.64" y="111.24" width="5.2" height="1.2" fill="#c4c4c4" transform="rotate(-80.33,147.24,111.84)"/>
<path d="M132.78 52.68A66.6 66.6 0 0 1 150.08 125.02L146.9 123.83A63.2 63.2 0 0 0 130.48 55.18Z" fill="#d6006f"/>
<path d="M134.75 45.23A73.5 73.5 0 0 1 158.89 119.98L155.4 119.08A69.9 69.9 0 0 0 132.44 48Z" fill="#fff" stroke="#4a4a4a" stroke-width="0.7"/>
<path d="M140.43 50.78A73.3 73.3 0 0 1 142.34 52.84L139.96 54.98A70.1 70.1 0 0 0 138.13 53Z" fill="#000"/>
<path d="M150.53 63.95A73.3 73.3 0 0 1 151.81 66.16L149.01 67.71A70.1 70.1 0 0 0 147.79 65.6Z" fill="#b3122e"/>
<path d="M157.8 80.27A73.3 73.3 0 0 1 158.5 82.73L155.41 83.56A70.1 70.1 0 0 0 154.74 81.2Z" fill="#000"/>
<path d="M159.45 86.71A73.3 73.3 0 0 1 159.89 88.97L156.74 89.53A70.1 70.1 0 0 0 156.32 87.36Z" fill="#000"/>
<path d="M160.96 99.14A73.3 73.3 0 0 1 161 102.34L157.8 102.31A70.1 70.1 0 0 0 157.76 99.25Z" fill="#000"/>
<path d="M124.66 71.23A47.9 47.9 0 0 1 129.59 78.48L125.92 80.51A43.7 43.7 0 0 0 121.42 73.9Z" fill="#d6006f" stroke="#333" stroke-opacity="0.45" stroke-width="0.5"/>
<text transform="translate(130.65,73.28) rotate(56.5)" text-anchor="middle" dominant-baseline="central" font-size="6.6" fill="#4a4a4a" textLength="18.07" lengthAdjust="spacingAndGlyphs" >CASC8</text>
<path d="M133.55 91.37A47 47 0 0 1 133.77 92.41L130.44 93.08A43.6 43.6 0 0 0 130.23 92.11Z" fill="#111"/>
<text transform="translate(137.88,90.12) rotate(77)" text-anchor="middle" dominant-baseline="central" font-size="6.6" fill="#4a4a4a" textLength="12.04" lengthAdjust="spacingAndGlyphs" >MYC</text>
<path d="M135.34 96.69A47.9 47.9 0 0 1 134.72 110.84L130.6 110.04A43.7 43.7 0 0 0 131.16 97.13Z" fill="#d6006f" stroke="#333" stroke-opacity="0.45" stroke-width="0.5"/>
<path d="M125.39 117.31A40.8 40.8 0 0 1 111.1 135.12" fill="none" stroke="#9c9c9c" stroke-width="2.4"/>
<path d="M139.71 123.25A56.3 56.3 0 0 1 119.99 147.82" fill="none" stroke="#808080" stroke-width="2.4" stroke-dasharray="0.5 0.3"/>
<path d="M140.64 123.63A57.3 57.3 0 0 1 120.57 148.64" fill="none" stroke="#707070" stroke-width="0.6"/>
<line x1="114.68" y1="112.87" x2="140.64" y2="123.63" stroke="#7a7a7a" stroke-width="0.7"/>
<line x1="104.45" y1="125.62" x2="120.57" y2="148.64" stroke="#7a7a7a" stroke-width="0.7"/>
<rect x="138.8" y="128.76" width="5.2" height="1.2" fill="#c4c4c4" transform="rotate(-62.75,141.4,129.36)"/>
<rect x="132.21" y="138.91" width="5.2" height="1.2" fill="#c4c4c4" transform="rotate(-51.25,134.81,139.51)"/>
<rect x="123.72" y="147.54" width="5.2" height="1.2" fill="#c4c4c4" transform="rotate(-39.75,126.32,148.14)"/>
<path d="M148.49 128.89A66.6 66.6 0 0 1 123.88 157.62L122.03 154.76A63.2 63.2 0 0 0 145.39 127.51Z" fill="#eea3c3"/>
<path d="M156.77 126.84A73.5 73.5 0 0 1 131.83 160.48L129.67 157.6A69.9 69.9 0 0 0 153.38 125.61Z" fill="#fff" stroke="#4a4a4a" stroke-width="0.7"/>
<path d="M155.37 129.87A73.3 73.3 0 0 1 154.35 132.21L151.44 130.88A70.1 70.1 0 0 0 152.42 128.64Z" fill="#000"/>
<path d="M153.41 134.18A73.3 73.3 0 0 1 152.42 136.11L149.59 134.61A70.1 70.1 0 0 0 150.54 132.76Z" fill="#000"/>
<path d="M139.53 153.53A73.3 73.3 0 0 1 137.88 155.13L135.69 152.8A70.1 70.1 0 0 0 137.27 151.27Z" fill="#000"/>
<path d="M128.48 123.84A46.4 46.4 0 0 1 125.47 128.64L123.68 127.37A44.2 44.2 0 0 0 126.54 122.79Z" fill="#eea3c3" stroke="#777" stroke-width="0.6"/>
<text transform="translate(130.89,129.75) rotate(-57)" text-anchor="middle" dominant-baseline="central" font-size="6.6" fill="#4a4a4a" textLength="13.45" lengthAdjust="spacingAndGlyphs" >PAX5</text>
<path d="M122.18 132.75A46.4 46.4 0 0 1 117.53 137.24L116.11 135.56A44.2 44.2 0 0 0 120.55 131.28Z" fill="#eea3c3" stroke="#777" stroke-width="0.6"/>
<path d="M109.92 135.92A40.8 40.8 0 0 1 84.5 142.37" fill="none" stroke="#9c9c9c" stroke-width="2.4"/>
<path d="M118.36 148.92A56.3 56.3 0 0 1 83.28 157.83" fill="none" stroke="#808080" stroke-width="2.4" stroke-dasharray="0.5 0.3"/>
<path d="M118.91 149.76A57.3 57.3 0 0 1 83.2 158.82" fill="none" stroke="#707070" stroke-width="0.6"/>
<line x1="103.6" y1="126.19" x2="118.91" y2="149.76" stroke="#7a7a7a" stroke-width="0.7"/>
<line x1="85.41" y1="130.81" x2="83.2" y2="158.82" stroke="#7a7a7a" stroke-width="0.7"/>
<rect x="112.91" y="154.72" width="5.2" height="1.2" fill="#c4c4c4" transform="rotate(-27.42,115.51,155.32)"/>
<rect x="99.97" y="159.64" width="5.2" height="1.2" fill="#c4c4c4" transform="rotate(-14.25,102.57,160.24)"/>
<rect x="86.24" y="161.49" width="5.2" height="1.2" fill="#c4c4c4" transform="rotate(-1.08,88.84,162.09)"/>
<path d="M120.5 159.67A66.6 66.6 0 0 1 83.17 168.15L83.4 164.75A63.2 63.2 0 0 0 118.82 156.71Z" fill="#3aa935"/>
<path d="M127.19 163.69A73.5 73.5 0 0 1 86.67 175.19L86.72 171.59A69.9 69.9 0 0 0 125.26 160.65Z" fill="#fff" stroke="#4a4a4a" stroke-width="0.7"/>
<path d="M118.1 168.4A73.3 73.3 0 0 1 116.1 169.27L114.86 166.32A70.1 70.1 0 0 0 116.77 165.49Z" fill="#000"/>
<path d="M113.97 170.13A73.3 73.3 0 0 1 112.05 170.84L110.98 167.82A70.1 70.1 0 0 0 112.82 167.14Z" fill="#000"/>
<path d="M111.08 171.17A73.3 73.3 0 0 1 109.13 171.8L108.2 168.74A70.1 70.1 0 0 0 110.06 168.14Z" fill="#000"/>
<path d="M97.9 174.29A73.3 73.3 0 0 1 95.36 174.6L95.03 171.42A70.1 70.1 0 0 0 97.46 171.12Z" fill="#000"/>
<path d="M110.19 143.99A47.9 47.9 0 0 1 86.03 149.57L86.17 145.37A43.7 43.7 0 0 0 108.22 140.28Z" fill="#3aa935" stroke="#333" stroke-opacity="0.45" stroke-width="0.5"/>
<text transform="translate(95.76,152.57) rotate(-9)" text-anchor="middle" dominant-baseline="central" font-size="6.6" fill="#4a4a4a" textLength="9.63" lengthAdjust="spacingAndGlyphs" >IGH</text>
<path d="M83.08 142.24A40.8 40.8 0 0 1 60.14 131.78" fill="none" stroke="#9c9c9c" stroke-width="2.4"/>
<path d="M81.33 157.64A56.3 56.3 0 0 1 49.66 143.21" fill="none" stroke="#808080" stroke-width="2.4" stroke-dasharray="0.5 0.3"/>
<path d="M81.21 158.63A57.3 57.3 0 0 1 48.99 143.95" fill="none" stroke="#707070" stroke-width="0.6"/>
<line x1="84.39" y1="130.71" x2="81.21" y2="158.63" stroke="#7a7a7a" stroke-width="0.7"/>
<line x1="67.97" y1="123.23" x2="48.99" y2="143.95" stroke="#7a7a7a" stroke-width="0.7"/>
<rect x="72.71" y="160.22" width="5.2" height="1.2" fill="#c4c4c4" transform="rotate(11.83,75.31,160.82)"/>
<rect x="60.05" y="156.06" width="5.2" height="1.2" fill="#c4c4c4" transform="rotate(24.5,62.65,156.66)"/>
<rect x="48.61" y="149.23" width="5.2" height="1.2" fill="#c4c4c4" transform="rotate(37.17,51.21,149.83)"/>
<path d="M79.35 167.77A66.6 66.6 0 0 1 44.09 152.04L46.32 149.47A63.2 63.2 0 0 0 79.78 164.4Z" fill="#0d6b48"/>
<path d="M81.42 174.93A73.5 73.5 0 0 1 42.05 159.3L44.28 156.48A69.9 69.9 0 0 0 81.73 171.34Z" fill="#fff" stroke="#4a4a4a" stroke-width="0.7"/>
<path d="M65.9 171.68A73.3 73.3 0 0 1 63.47 170.88L64.53 167.86A70.1 70.1 0 0 0 66.85 168.63Z" fill="#b3122e"/>
<path d="M55.11 167.36A73.3 73.3 0 0 1 52.61 166.06L54.14 163.25A70.1 70.1 0 0 0 56.53 164.49Z" fill="#000"/>
<path d="M71.32 146.71A47.9 47.9 0 0 1 65.21 143.99L67.18 140.28A43.7 43.7 0 0 0 72.75 142.76Z" fill="#0d6b48" stroke="#333" stroke-opacity="0.45" stroke-width="0.5"/>
<text transform="translate(66.75,148.75) rotate(24)" text-anchor="middle" dominant-baseline="central" font-size="6.6" fill="#4a4a4a" textLength="13.44" lengthAdjust="spacingAndGlyphs" >CIITA</text>
<path d="M59.1 130.8A40.8 40.8 0 0 1 47.73 109.9" fill="none" stroke="#9c9c9c" stroke-width="2.4"/>
<path d="M48.24 141.86A56.3 56.3 0 0 1 32.55 113.02" fill="none" stroke="#808080" stroke-width="2.4" stroke-dasharray="0.5 0.3"/>
<path d="M47.54 142.57A57.3 57.3 0 0 1 31.57 113.22" fill="none" stroke="#707070" stroke-width="0.6"/>
<line x1="67.23" y1="122.53" x2="47.54" y2="142.57" stroke="#7a7a7a" stroke-width="0.7"/>
<line x1="59.1" y1="107.57" x2="31.57" y2="113.22" stroke="#7a7a7a" stroke-width="0.7"/>
<rect x="39.18" y="140.34" width="5.2" height="1.2" fill="#c4c4c4" transform="rotate(49.48,41.78,140.94)"/>
<rect x="32.04" y="129.97" width="5.2" height="1.2" fill="#c4c4c4" transform="rotate(61.45,34.64,130.57)"/>
<rect x="27.21" y="118.34" width="5.2" height="1.2" fill="#c4c4c4" transform="rotate(73.42,29.81,118.94)"/>
<path d="M41.94 150.09A66.6 66.6 0 0 1 22.73 116.34L26.05 115.59A63.2 63.2 0 0 0 44.28 147.62Z" fill="#f39a1e"/>
<path d="M37.57 155.45A73.5 73.5 0 0 1 16.74 120.85L20.21 119.91A69.9 69.9 0 0 0 40.03 152.82Z" fill="#fff" stroke="#4a4a4a" stroke-width="0.7"/>
<path d="M36.32 153.98A73.3 73.3 0 0 1 34.09 151.69L36.43 149.51A70.1 70.1 0 0 0 38.57 151.7Z" fill="#6fc3ea"/>
<path d="M30.33 147.33A73.3 73.3 0 0 1 28.4 144.78L30.99 142.9A70.1 70.1 0 0 0 32.84 145.34Z" fill="#b3122e"/>
<path d="M52.67 134.37A47.9 47.9 0 0 1 41.43 114.1L45.49 113.01A43.7 43.7 0 0 0 55.74 131.5Z" fill="#f39a1e" stroke="#333" stroke-opacity="0.45" stroke-width="0.5"/>
<text transform="translate(42.23,125.88) rotate(62)" text-anchor="middle" dominant-baseline="central" font-size="6.6" fill="#4a4a4a" textLength="8.73" lengthAdjust="spacingAndGlyphs" >IGL</text>
<path d="M47.47 108.5A40.8 40.8 0 0 1 50.01 86.09" fill="none" stroke="#9c9c9c" stroke-width="2.4"/>
<path d="M32.19 111.09A56.3 56.3 0 0 1 35.69 80.15" fill="none" stroke="#808080" stroke-width="2.4" stroke-dasharray="0.5 0.3"/>
<path d="M31.2 111.26A57.3 57.3 0 0 1 34.76 79.77" fill="none" stroke="#707070" stroke-width="0.6"/>
<line x1="58.91" y1="106.57" x2="31.2" y2="111.26" stroke="#7a7a7a" stroke-width="0.7"/>
<line x1="60.72" y1="90.53" x2="34.76" y2="79.77" stroke="#7a7a7a" stroke-width="0.7"/>
<rect x="24.92" y="106.28" width="5.2" height="1.2" fill="#c4c4c4" transform="rotate(85.08,27.52,106.88)"/>
<rect x="25.08" y="94.31" width="5.2" height="1.2" fill="#c4c4c4" transform="rotate(276.45,27.68,94.91)"/>
<rect x="27.6" y="82.62" width="5.2" height="1.2" fill="#c4c4c4" transform="rotate(287.82,30.2,83.22)"/>
<path d="M21.92 112.12A66.6 66.6 0 0 1 26.26 76L29.4 77.31A63.2 63.2 0 0 0 25.28 111.59Z" fill="#2aa6dc"/>
<path d="M15.23 113.96A73.5 73.5 0 0 1 19.5 74.29L22.84 75.63A69.9 69.9 0 0 0 18.78 113.36Z" fill="#fff" stroke="#4a4a4a" stroke-width="0.7"/>
<path d="M14.95 110.63A73.3 73.3 0 0 1 14.8 109.36L17.98 109.03A70.1 70.1 0 0 0 18.12 110.24Z" fill="#000"/>
<path d="M14.65 107.71A73.3 73.3 0 0 1 14.53 106.05L17.72 105.86A70.1 70.1 0 0 0 17.84 107.44Z" fill="#000"/>
<path d="M14.41 102.98A73.3 73.3 0 0 1 14.4 101.44L17.6 101.46A70.1 70.1 0 0 0 17.61 102.92Z" fill="#000"/>
<path d="M14.87 93.4A73.3 73.3 0 0 1 15.11 91.5L18.28 91.94A70.1 70.1 0 0 0 18.05 93.76Z" fill="#000"/>
<path d="M16.28 85.21A73.3 73.3 0 0 1 16.58 83.97L19.68 84.74A70.1 70.1 0 0 0 19.4 85.93Z" fill="#555"/>
<path d="M18.82 76.63A73.3 73.3 0 0 1 19.27 75.43L22.26 76.58A70.1 70.1 0 0 0 21.83 77.72Z" fill="#000"/>
<path d="M39.83 103.37A47.9 47.9 0 0 1 41.89 87.7L45.91 88.92A43.7 43.7 0 0 0 44.03 103.23Z" fill="#2aa6dc" stroke="#333" stroke-opacity="0.45" stroke-width="0.5"/>
<text transform="translate(36.48,96.32) rotate(276)" text-anchor="middle" dominant-baseline="central" font-size="6.6" fill="#4a4a4a" textLength="9.33" lengthAdjust="spacingAndGlyphs" >IGK</text>
<path d="M50.57 84.78A40.8 40.8 0 0 1 67.12 66.47" fill="none" stroke="#9c9c9c" stroke-width="2.4"/>
<path d="M36.47 78.35A56.3 56.3 0 0 1 59.3 53.09" fill="none" stroke="#808080" stroke-width="2.4" stroke-dasharray="0.5 0.3"/>
<path d="M35.56 77.94A57.3 57.3 0 0 1 58.79 52.23" fill="none" stroke="#707070" stroke-width="0.6"/>
<line x1="61.13" y1="89.59" x2="35.56" y2="77.94" stroke="#7a7a7a" stroke-width="0.7"/>
<line x1="72.97" y1="76.49" x2="58.79" y2="52.23" stroke="#7a7a7a" stroke-width="0.7"/>
<rect x="32.63" y="71.17" width="5.2" height="1.2" fill="#c4c4c4" transform="rotate(299.7,35.23,71.77)"/>
<rect x="40.28" y="60.61" width="5.2" height="1.2" fill="#c4c4c4" transform="rotate(312.1,42.88,61.21)"/>
<rect x="50.03" y="51.93" width="5.2" height="1.2" fill="#c4c4c4" transform="rotate(324.5,52.63,52.53)"/>
<path d="M27.84 72.5A66.6 66.6 0 0 1 55.41 43.45L57.06 46.42A63.2 63.2 0 0 0 30.9 73.99Z" fill="#5a2a6e"/>
<path d="M47.76 75.26A47.9 47.9 0 0 1 58.54 63.7L61.1 67.03A43.7 43.7 0 0 0 51.26 77.58Z" fill="#5a2a6e" stroke="#333" stroke-opacity="0.45" stroke-width="0.5"/>
<text transform="translate(48.83,67.91) rotate(311)" text-anchor="middle" dominant-baseline="central" font-size="6.6" fill="#4a4a4a" textLength="18.07" lengthAdjust="spacingAndGlyphs" >MBNL1</text>
<circle cx="87.7" cy="101.7" r="29.2" fill="none" stroke="#7a7a7a" stroke-width="0.8"/>
<path d="M90.19 73.21Q84.83 95.95 63.45 86.54" fill="none" stroke="#8a96a8" stroke-width="0.7" stroke-opacity="0.9"/>
<path d="M90.69 73.26Q82.71 97.66 60.5 110.54" fill="none" stroke="#f0a030" stroke-width="1.1" stroke-opacity="0.95"/>
<path d="M90.69 73.26Q82.31 98.2 62.93 116" fill="none" stroke="#f3b860" stroke-width="0.8" stroke-opacity="0.85"/>
<path d="M90.19 73.21Q94.07 100.86 97.48 128.58" fill="none" stroke="#5cb85c" stroke-width="0.8" stroke-opacity="0.9"/>
<path d="M90.44 73.23Q86.31 92.09 76.99 75.18" fill="none" stroke="#e6c4cc" stroke-width="0.55" stroke-opacity="0.7"/>
<path d="M90.44 73.23Q86.58 91.47 78.86 74.5" fill="none" stroke="#e6c4cc" stroke-width="0.55" stroke-opacity="0.7"/>
<path d="M90.44 73.23Q86.89 90.85 80.78 73.95" fill="none" stroke="#e6c4cc" stroke-width="0.55" stroke-opacity="0.7"/>
<path d="M90.44 73.23Q87.25 90.25 82.73 73.53" fill="none" stroke="#e6c4cc" stroke-width="0.55" stroke-opacity="0.7"/>
<path d="M90.44 73.23Q87.65 89.66 84.71 73.26" fill="none" stroke="#e6c4cc" stroke-width="0.55" stroke-opacity="0.7"/>
<path d="M90.44 73.23Q88.09 89.08 86.7 73.12" fill="none" stroke="#e6c4cc" stroke-width="0.55" stroke-opacity="0.7"/>
<path d="M90.44 73.23Q89.81 89.4 94.62 73.95" fill="none" stroke="#e6c4cc" stroke-width="0.55" stroke-opacity="0.7"/>
<path d="M90.44 73.23Q90.12 90.05 96.54 74.5" fill="none" stroke="#e6c4cc" stroke-width="0.55" stroke-opacity="0.7"/>
<path d="M90.44 73.23Q90.39 90.71 98.41 75.18" fill="none" stroke="#e6c4cc" stroke-width="0.55" stroke-opacity="0.7"/>
<path d="M90.44 73.23Q90.61 91.37 100.24 75.99" fill="none" stroke="#e6c4cc" stroke-width="0.55" stroke-opacity="0.7"/>
<path d="M90.44 73.23Q90.79 92.04 102 76.93" fill="none" stroke="#e6c4cc" stroke-width="0.55" stroke-opacity="0.7"/>
<text transform="translate(68.87,26.73) rotate(345.9)" text-anchor="middle" dominant-baseline="central" font-size="7" fill="#333" >3</text>
<text transform="translate(161.05,77.3) rotate(71.6)" text-anchor="middle" dominant-baseline="central" font-size="7" fill="#333" >8</text>
<text transform="translate(150.32,147.03) rotate(-54.1)" text-anchor="middle" dominant-baseline="central" font-size="7" fill="#333" >9</text>
<text transform="translate(107.58,176.4) rotate(-14.9)" text-anchor="middle" dominant-baseline="central" font-size="7" fill="#333" >14</text>
<text transform="translate(59.24,173.57) rotate(21.6)" text-anchor="middle" dominant-baseline="central" font-size="7" fill="#333" >16</text>
<text transform="translate(22,142.43) rotate(58.2)" text-anchor="middle" dominant-baseline="central" font-size="7" fill="#333" >22</text>
<text transform="translate(10.8,93.89) rotate(275.8)" text-anchor="middle" dominant-baseline="central" font-size="7" fill="#333" >2</text>
<path d="M55.51 43.63A66.4 66.4 0 0 1 101.51 36.75" fill="none" stroke="#111" stroke-width="1"/>
<path d="M80.78 35.86L81.94 35.92L83.11 35.99L84.26 36.09L85.41 36.21L86.56 36.34L87.7 36.5L88.83 36.68L89.96 36.87L91.09 37.09L92.2 37.32L93.31 37.58L94.41 37.85L95.5 38.14L96.59 38.45L97.66 38.78L98.73 39.13L99.79 39.5L100.84 39.88L101.92 40.12L102.99 40.38L104.06 40.65L105.12 40.95L106.18 41.26L107.23 41.59L108.28 41.94L109.32 42.31L110.35 42.7L111.38 43.1L112.39 43.52L113.41 43.96L114.41 44.42L115.41 44.9L116.39 45.39L117.37 45.9L118.34 46.42L119.3 46.97L120.25 47.53L121.19 48.1L122.12 48.7L123.04 49.3L123.95 49.93L124.85 50.57L125.73 51.23L126.61 51.9L127.47 52.58L128.32 53.29L130.51 50.68L129.61 49.94L128.7 49.22L127.78 48.51L126.85 47.82L125.9 47.14L124.94 46.49L123.97 45.84L122.99 45.22L122 44.61L121 44.02L119.99 43.45L118.97 42.9L117.94 42.36L116.9 41.84L115.85 41.34L114.79 40.86L113.72 40.39L112.65 39.95L111.57 39.52L110.48 39.12L109.38 38.73L108.28 38.36L107.17 38.01L106.06 37.68L104.94 37.37L103.81 37.08L102.68 36.81L101.55 36.56L100.41 36.32L99.26 36.11L98.12 35.92L96.97 35.75L95.82 35.6L94.66 35.46L93.5 35.35L92.35 35.26L91.19 35.19L90.02 35.14L88.86 35.11L87.7 35.1L86.54 35.11L85.38 35.14L84.21 35.19L83.05 35.26L81.9 35.35L80.74 35.46Z" fill="#bdbdbd"/>
<path d="M264.8 63.22A38.6 38.6 0 0 1 267.47 63.53L266.41 70.55A31.5 31.5 0 0 0 264.23 70.3Z" fill="#a01834"/>
<path d="M263.78 66.76A35 35 0 0 1 267.66 67.21L267.06 70.66A31.5 31.5 0 0 0 263.57 70.26Z" fill="#c0405a" fill-opacity="0.6"/>
<path d="M288.79 73.65A39 39 0 0 1 298.79 113.75L290.61 111.09A30.4 30.4 0 0 0 282.82 79.83Z" fill="#f3e0e4"/>
<line x1="296.4" y1="93.52" x2="297.54" y2="93.25" stroke="#6e3440" stroke-width="0.65" stroke-opacity="0.75"/>
<line x1="295.25" y1="110.6" x2="296.03" y2="110.81" stroke="#6e3440" stroke-width="0.65" stroke-opacity="0.75"/>
<line x1="297.58" y1="107.29" x2="299.38" y2="107.57" stroke="#6e3440" stroke-width="0.65" stroke-opacity="0.75"/>
<line x1="290.14" y1="82.8" x2="291.87" y2="81.65" stroke="#6e3440" stroke-width="0.65" stroke-opacity="0.75"/>
<line x1="297.51" y1="92.43" x2="298.33" y2="92.21" stroke="#6e3440" stroke-width="0.65" stroke-opacity="0.75"/>
<line x1="295.02" y1="104.3" x2="297.01" y2="104.45" stroke="#6e3440" stroke-width="0.65" stroke-opacity="0.75"/>
<line x1="286.23" y1="79.76" x2="286.85" y2="79.21" stroke="#6e3440" stroke-width="0.65" stroke-opacity="0.75"/>
<line x1="296.95" y1="108.79" x2="297.95" y2="108.99" stroke="#6e3440" stroke-width="0.65" stroke-opacity="0.75"/>
<line x1="296.65" y1="105.5" x2="298.61" y2="105.71" stroke="#6e3440" stroke-width="0.65" stroke-opacity="0.75"/>
<line x1="291.5" y1="82.59" x2="292.34" y2="82.05" stroke="#6e3440" stroke-width="0.65" stroke-opacity="0.75"/>
<line x1="294.79" y1="93.68" x2="295.64" y2="93.48" stroke="#6e3440" stroke-width="0.65" stroke-opacity="0.75"/>
<line x1="289.74" y1="81.56" x2="291.37" y2="80.39" stroke="#6e3440" stroke-width="0.65" stroke-opacity="0.75"/>
<line x1="296.49" y1="100.18" x2="298.27" y2="100.1" stroke="#6e3440" stroke-width="0.65" stroke-opacity="0.75"/>
<line x1="288.04" y1="80.65" x2="289.13" y2="79.78" stroke="#6e3440" stroke-width="0.65" stroke-opacity="0.75"/>
<line x1="294.08" y1="98.71" x2="295.51" y2="98.58" stroke="#6e3440" stroke-width="0.65" stroke-opacity="0.75"/>
<line x1="297.5" y1="96.11" x2="299.4" y2="95.81" stroke="#6e3440" stroke-width="0.65" stroke-opacity="0.75"/>
<line x1="289.58" y1="78.88" x2="290.5" y2="78.12" stroke="#6e3440" stroke-width="0.65" stroke-opacity="0.75"/>
<line x1="295.69" y1="104.7" x2="296.68" y2="104.79" stroke="#6e3440" stroke-width="0.65" stroke-opacity="0.75"/>
<line x1="293.3" y1="111.6" x2="294.97" y2="112.12" stroke="#6e3440" stroke-width="0.65" stroke-opacity="0.75"/>
<line x1="293.74" y1="91.48" x2="294.56" y2="91.22" stroke="#6e3440" stroke-width="0.65" stroke-opacity="0.75"/>
<line x1="298.18" y1="102.71" x2="299.16" y2="102.74" stroke="#6e3440" stroke-width="0.65" stroke-opacity="0.75"/>
<line x1="296.48" y1="98.6" x2="298.55" y2="98.42" stroke="#6e3440" stroke-width="0.65" stroke-opacity="0.75"/>
<line x1="294.95" y1="96.73" x2="295.55" y2="96.64" stroke="#6e3440" stroke-width="0.65" stroke-opacity="0.75"/>
<line x1="285.67" y1="78.68" x2="286.27" y2="78.11" stroke="#6e3440" stroke-width="0.65" stroke-opacity="0.75"/>
<line x1="294.26" y1="97.95" x2="296.2" y2="97.73" stroke="#6e3440" stroke-width="0.65" stroke-opacity="0.75"/>
<line x1="289.32" y1="80.46" x2="290.07" y2="79.89" stroke="#6e3440" stroke-width="0.65" stroke-opacity="0.75"/>
<line x1="295.9" y1="99.19" x2="297.03" y2="99.1" stroke="#6e3440" stroke-width="0.65" stroke-opacity="0.75"/>
<line x1="288.22" y1="80.08" x2="289.1" y2="79.36" stroke="#6e3440" stroke-width="0.65" stroke-opacity="0.75"/>
<line x1="289.54" y1="84.54" x2="290.31" y2="84.07" stroke="#6e3440" stroke-width="0.65" stroke-opacity="0.75"/>
<line x1="294.84" y1="98.18" x2="296.15" y2="98.04" stroke="#6e3440" stroke-width="0.65" stroke-opacity="0.75"/>
<line x1="289.59" y1="80.4" x2="290.24" y2="79.9" stroke="#6e3440" stroke-width="0.65" stroke-opacity="0.75"/>
<line x1="287.66" y1="80.02" x2="288.86" y2="79.02" stroke="#6e3440" stroke-width="0.65" stroke-opacity="0.75"/>
<line x1="295.67" y1="107.54" x2="296.65" y2="107.71" stroke="#6e3440" stroke-width="0.65" stroke-opacity="0.75"/>
<line x1="284.86" y1="78.32" x2="285.97" y2="77.21" stroke="#6e3440" stroke-width="0.65" stroke-opacity="0.75"/>
<line x1="294.29" y1="95.95" x2="295.54" y2="95.73" stroke="#6e3440" stroke-width="0.65" stroke-opacity="0.75"/>
<line x1="296.36" y1="110.33" x2="298" y2="110.74" stroke="#6e3440" stroke-width="0.65" stroke-opacity="0.75"/>
<line x1="291.57" y1="84.39" x2="292.78" y2="83.69" stroke="#6e3440" stroke-width="0.65" stroke-opacity="0.75"/>
<line x1="293.63" y1="90.07" x2="294.52" y2="89.74" stroke="#6e3440" stroke-width="0.65" stroke-opacity="0.75"/>
<line x1="287.04" y1="78.67" x2="288.09" y2="77.71" stroke="#6e3440" stroke-width="0.65" stroke-opacity="0.75"/>
<line x1="294.66" y1="110.05" x2="295.45" y2="110.25" stroke="#6e3440" stroke-width="0.65" stroke-opacity="0.75"/>
<line x1="289.3" y1="83.62" x2="290.61" y2="82.76" stroke="#6e3440" stroke-width="0.65" stroke-opacity="0.75"/>
<line x1="294.74" y1="105.21" x2="295.6" y2="105.3" stroke="#6e3440" stroke-width="0.65" stroke-opacity="0.75"/>
<line x1="292.27" y1="86.66" x2="294.01" y2="85.8" stroke="#6e3440" stroke-width="0.65" stroke-opacity="0.75"/>
<line x1="296.2" y1="104.18" x2="297.87" y2="104.3" stroke="#6e3440" stroke-width="0.65" stroke-opacity="0.75"/>
<line x1="286.47" y1="76.41" x2="287.38" y2="75.48" stroke="#6e3440" stroke-width="0.65" stroke-opacity="0.75"/>
<line x1="294.11" y1="102.53" x2="295.39" y2="102.57" stroke="#6e3440" stroke-width="0.65" stroke-opacity="0.75"/>
<line x1="291.48" y1="83.42" x2="292.04" y2="83.08" stroke="#6e3440" stroke-width="0.65" stroke-opacity="0.75"/>
<line x1="293.34" y1="87.26" x2="294.91" y2="86.55" stroke="#6e3440" stroke-width="0.65" stroke-opacity="0.75"/>
<line x1="297.04" y1="100.77" x2="298.04" y2="100.74" stroke="#6e3440" stroke-width="0.65" stroke-opacity="0.75"/>
<line x1="293.66" y1="95.74" x2="294.89" y2="95.51" stroke="#6e3440" stroke-width="0.65" stroke-opacity="0.75"/>
<line x1="294.79" y1="104.28" x2="296.35" y2="104.4" stroke="#6e3440" stroke-width="0.65" stroke-opacity="0.75"/>
<line x1="294.47" y1="110.95" x2="295.36" y2="111.21" stroke="#6e3440" stroke-width="0.65" stroke-opacity="0.75"/>
<line x1="296.34" y1="108.01" x2="297.27" y2="108.18" stroke="#6e3440" stroke-width="0.65" stroke-opacity="0.75"/>
<line x1="295.98" y1="102.66" x2="298" y2="102.72" stroke="#6e3440" stroke-width="0.65" stroke-opacity="0.75"/>
<line x1="294.64" y1="102.71" x2="295.73" y2="102.74" stroke="#6e3440" stroke-width="0.65" stroke-opacity="0.75"/>
<line x1="293.15" y1="83.03" x2="294.83" y2="82.03" stroke="#6e3440" stroke-width="0.65" stroke-opacity="0.75"/>
<line x1="295.06" y1="98.41" x2="297.12" y2="98.2" stroke="#6e3440" stroke-width="0.65" stroke-opacity="0.75"/>
<line x1="292.85" y1="92.8" x2="294.64" y2="92.28" stroke="#6e3440" stroke-width="0.65" stroke-opacity="0.75"/>
<line x1="296.76" y1="100.87" x2="298.45" y2="100.83" stroke="#6e3440" stroke-width="0.65" stroke-opacity="0.75"/>
<line x1="294.36" y1="96.24" x2="295.41" y2="96.06" stroke="#6e3440" stroke-width="0.65" stroke-opacity="0.75"/>
<line x1="290.25" y1="83.56" x2="291.91" y2="82.5" stroke="#6e3440" stroke-width="0.65" stroke-opacity="0.75"/>
<line x1="288.81" y1="81.46" x2="289.33" y2="81.07" stroke="#6e3440" stroke-width="0.65" stroke-opacity="0.75"/>
<line x1="289.05" y1="79.42" x2="289.68" y2="78.9" stroke="#6e3440" stroke-width="0.65" stroke-opacity="0.75"/>
<line x1="285.86" y1="78.23" x2="286.34" y2="77.77" stroke="#6e3440" stroke-width="0.65" stroke-opacity="0.75"/>
<line x1="294.55" y1="100.74" x2="296.25" y2="100.69" stroke="#6e3440" stroke-width="0.65" stroke-opacity="0.75"/>
<line x1="286.08" y1="79.91" x2="287.19" y2="78.92" stroke="#6e3440" stroke-width="0.65" stroke-opacity="0.75"/>
<line x1="294.15" y1="88.1" x2="295.94" y2="87.35" stroke="#6e3440" stroke-width="0.65" stroke-opacity="0.75"/>
<line x1="285.57" y1="80.37" x2="286.99" y2="79.11" stroke="#6e3440" stroke-width="0.65" stroke-opacity="0.75"/>
<line x1="295.65" y1="109.24" x2="296.54" y2="109.44" stroke="#6e3440" stroke-width="0.65" stroke-opacity="0.75"/>
<line x1="288.18" y1="80.39" x2="288.68" y2="79.98" stroke="#6e3440" stroke-width="0.65" stroke-opacity="0.75"/>
<line x1="296.24" y1="106.71" x2="298.06" y2="106.97" stroke="#6e3440" stroke-width="0.65" stroke-opacity="0.75"/>
<line x1="294.04" y1="98.54" x2="295.07" y2="98.44" stroke="#6e3440" stroke-width="0.65" stroke-opacity="0.75"/>
<line x1="289.43" y1="78.76" x2="290.12" y2="78.18" stroke="#6e3440" stroke-width="0.65" stroke-opacity="0.75"/>
<line x1="293.69" y1="86.39" x2="294.8" y2="85.86" stroke="#6e3440" stroke-width="0.65" stroke-opacity="0.75"/>
<line x1="285.99" y1="77.69" x2="287.18" y2="76.52" stroke="#6e3440" stroke-width="0.65" stroke-opacity="0.75"/>
<line x1="294.29" y1="88.24" x2="295.29" y2="87.82" stroke="#6e3440" stroke-width="0.65" stroke-opacity="0.75"/>
<line x1="292.18" y1="110.27" x2="293.65" y2="110.68" stroke="#6e3440" stroke-width="0.65" stroke-opacity="0.75"/>
<line x1="286.25" y1="77.98" x2="287.13" y2="77.13" stroke="#6e3440" stroke-width="0.65" stroke-opacity="0.75"/>
<line x1="294.38" y1="91.04" x2="295.95" y2="90.53" stroke="#6e3440" stroke-width="0.65" stroke-opacity="0.75"/>
<line x1="294.04" y1="95.08" x2="294.95" y2="94.89" stroke="#6e3440" stroke-width="0.65" stroke-opacity="0.75"/>
<line x1="297.46" y1="107.48" x2="298.31" y2="107.62" stroke="#6e3440" stroke-width="0.65" stroke-opacity="0.75"/>
<line x1="286.4" y1="76.2" x2="287.03" y2="75.55" stroke="#6e3440" stroke-width="0.65" stroke-opacity="0.75"/>
<line x1="295.98" y1="103.36" x2="297.31" y2="103.43" stroke="#6e3440" stroke-width="0.65" stroke-opacity="0.75"/>
<line x1="294.79" y1="93.12" x2="296.53" y2="92.66" stroke="#6e3440" stroke-width="0.65" stroke-opacity="0.75"/>
<line x1="289" y1="83.16" x2="290.53" y2="82.12" stroke="#6e3440" stroke-width="0.65" stroke-opacity="0.75"/>
<line x1="291.55" y1="84.93" x2="293.31" y2="83.94" stroke="#6e3440" stroke-width="0.65" stroke-opacity="0.75"/>
<line x1="292.33" y1="85.52" x2="293.52" y2="84.89" stroke="#6e3440" stroke-width="0.65" stroke-opacity="0.75"/>
<line x1="289.82" y1="78.96" x2="291.03" y2="77.98" stroke="#6e3440" stroke-width="0.65" stroke-opacity="0.75"/>
<line x1="287.94" y1="79.03" x2="289.29" y2="77.87" stroke="#6e3440" stroke-width="0.65" stroke-opacity="0.75"/>
<line x1="293.78" y1="98.43" x2="294.91" y2="98.32" stroke="#6e3440" stroke-width="0.65" stroke-opacity="0.75"/>
<line x1="291.75" y1="90.57" x2="292.43" y2="90.32" stroke="#6e3440" stroke-width="0.65" stroke-opacity="0.75"/>
<line x1="296.94" y1="108.46" x2="297.56" y2="108.58" stroke="#6e3440" stroke-width="0.65" stroke-opacity="0.75"/>
<line x1="290.25" y1="83.29" x2="291.39" y2="82.56" stroke="#6e3440" stroke-width="0.65" stroke-opacity="0.75"/>
<line x1="296.06" y1="88.01" x2="297.74" y2="87.34" stroke="#6e3440" stroke-width="0.65" stroke-opacity="0.75"/>
<line x1="289.67" y1="84.86" x2="291.15" y2="83.97" stroke="#6e3440" stroke-width="0.65" stroke-opacity="0.75"/>
<line x1="296.26" y1="103.02" x2="297.83" y2="103.08" stroke="#6e3440" stroke-width="0.65" stroke-opacity="0.75"/>
<line x1="292.7" y1="88.1" x2="294.4" y2="87.35" stroke="#6e3440" stroke-width="0.65" stroke-opacity="0.75"/>
<line x1="296.5" y1="99.49" x2="298.21" y2="99.39" stroke="#6e3440" stroke-width="0.65" stroke-opacity="0.75"/>
<line x1="287.97" y1="83.21" x2="289.17" y2="82.36" stroke="#6e3440" stroke-width="0.65" stroke-opacity="0.75"/>
<line x1="289.34" y1="80.16" x2="290.36" y2="79.36" stroke="#6e3440" stroke-width="0.65" stroke-opacity="0.75"/>
<line x1="295.37" y1="108.03" x2="296.41" y2="108.23" stroke="#6e3440" stroke-width="0.65" stroke-opacity="0.75"/>
<line x1="296.74" y1="101.09" x2="298.61" y2="101.06" stroke="#6e3440" stroke-width="0.65" stroke-opacity="0.75"/>
<line x1="289.77" y1="81.22" x2="290.65" y2="80.58" stroke="#6e3440" stroke-width="0.65" stroke-opacity="0.75"/>
<line x1="295.87" y1="94.07" x2="296.69" y2="93.89" stroke="#6e3440" stroke-width="0.65" stroke-opacity="0.75"/>
<line x1="293.89" y1="86.69" x2="295.42" y2="85.97" stroke="#6e3440" stroke-width="0.65" stroke-opacity="0.75"/>
<line x1="290.63" y1="77.87" x2="291.65" y2="77.03" stroke="#6e3440" stroke-width="0.65" stroke-opacity="0.75"/>
<line x1="285.94" y1="81.72" x2="287.32" y2="80.58" stroke="#6e3440" stroke-width="0.65" stroke-opacity="0.75"/>
<line x1="298.38" y1="102.3" x2="299.63" y2="102.32" stroke="#6e3440" stroke-width="0.65" stroke-opacity="0.75"/>
<line x1="289.9" y1="83.07" x2="290.66" y2="82.57" stroke="#6e3440" stroke-width="0.65" stroke-opacity="0.75"/>
<line x1="293.16" y1="89.53" x2="293.76" y2="89.3" stroke="#6e3440" stroke-width="0.65" stroke-opacity="0.75"/>
<line x1="294.22" y1="89.57" x2="295.48" y2="89.09" stroke="#6e3440" stroke-width="0.65" stroke-opacity="0.75"/>
<line x1="293.82" y1="98.59" x2="295.11" y2="98.47" stroke="#6e3440" stroke-width="0.65" stroke-opacity="0.75"/>
<line x1="288.2" y1="81.79" x2="289.57" y2="80.76" stroke="#6e3440" stroke-width="0.65" stroke-opacity="0.75"/>
<line x1="294.35" y1="108.71" x2="295.57" y2="108.97" stroke="#6e3440" stroke-width="0.65" stroke-opacity="0.75"/>
<line x1="295.45" y1="96.19" x2="296.38" y2="96.04" stroke="#6e3440" stroke-width="0.65" stroke-opacity="0.75"/>
<line x1="294.54" y1="101.83" x2="296.46" y2="101.83" stroke="#6e3440" stroke-width="0.65" stroke-opacity="0.75"/>
<line x1="295.05" y1="103.76" x2="296.67" y2="103.86" stroke="#6e3440" stroke-width="0.65" stroke-opacity="0.75"/>
<line x1="293.36" y1="98.96" x2="294.64" y2="98.85" stroke="#6e3440" stroke-width="0.65" stroke-opacity="0.75"/>
<line x1="292.08" y1="86.9" x2="293.19" y2="86.37" stroke="#6e3440" stroke-width="0.65" stroke-opacity="0.75"/>
<line x1="295.39" y1="104.1" x2="297.05" y2="104.22" stroke="#6e3440" stroke-width="0.65" stroke-opacity="0.75"/>
<line x1="295.73" y1="98.3" x2="297.01" y2="98.17" stroke="#6e3440" stroke-width="0.65" stroke-opacity="0.75"/>
<line x1="297.06" y1="97.85" x2="298.26" y2="97.72" stroke="#6e3440" stroke-width="0.65" stroke-opacity="0.75"/>
<line x1="296.61" y1="100" x2="298.19" y2="99.93" stroke="#6e3440" stroke-width="0.65" stroke-opacity="0.75"/>
<line x1="295.47" y1="103.95" x2="296.65" y2="104.02" stroke="#6e3440" stroke-width="0.65" stroke-opacity="0.75"/>
<line x1="295.13" y1="92.96" x2="296.5" y2="92.6" stroke="#6e3440" stroke-width="0.65" stroke-opacity="0.75"/>
<line x1="289.42" y1="81.77" x2="290.86" y2="80.74" stroke="#6e3440" stroke-width="0.65" stroke-opacity="0.75"/>
<line x1="294.28" y1="109.94" x2="295.69" y2="110.3" stroke="#6e3440" stroke-width="0.65" stroke-opacity="0.75"/>
<line x1="295.16" y1="94.97" x2="296.8" y2="94.64" stroke="#6e3440" stroke-width="0.65" stroke-opacity="0.75"/>
<line x1="293.47" y1="94.24" x2="294.82" y2="93.92" stroke="#6e3440" stroke-width="0.65" stroke-opacity="0.75"/>
<line x1="292.13" y1="90.78" x2="294.03" y2="90.1" stroke="#6e3440" stroke-width="0.65" stroke-opacity="0.75"/>
<line x1="290.09" y1="83.58" x2="291.56" y2="82.64" stroke="#6e3440" stroke-width="0.65" stroke-opacity="0.75"/>
<line x1="287.65" y1="81.3" x2="289.29" y2="80.02" stroke="#6e3440" stroke-width="0.65" stroke-opacity="0.75"/>
<line x1="294.02" y1="87.81" x2="295.12" y2="87.34" stroke="#6e3440" stroke-width="0.65" stroke-opacity="0.75"/>
<line x1="286.08" y1="77.2" x2="286.94" y2="76.33" stroke="#6e3440" stroke-width="0.65" stroke-opacity="0.75"/>
<line x1="293.65" y1="90.64" x2="294.6" y2="90.32" stroke="#6e3440" stroke-width="0.65" stroke-opacity="0.75"/>
<line x1="289.84" y1="84.36" x2="291.3" y2="83.46" stroke="#6e3440" stroke-width="0.65" stroke-opacity="0.75"/>
<line x1="293.99" y1="109.84" x2="295.74" y2="110.28" stroke="#6e3440" stroke-width="0.65" stroke-opacity="0.75"/>
<line x1="293.5" y1="89.55" x2="294.36" y2="89.22" stroke="#6e3440" stroke-width="0.65" stroke-opacity="0.75"/>
<line x1="289.06" y1="80.53" x2="290.29" y2="79.58" stroke="#6e3440" stroke-width="0.65" stroke-opacity="0.75"/>
<line x1="292.33" y1="92.93" x2="293.72" y2="92.53" stroke="#6e3440" stroke-width="0.65" stroke-opacity="0.75"/>
<line x1="291.86" y1="83.19" x2="293.18" y2="82.38" stroke="#6e3440" stroke-width="0.65" stroke-opacity="0.75"/>
<line x1="295.42" y1="105.48" x2="297.23" y2="105.68" stroke="#6e3440" stroke-width="0.65" stroke-opacity="0.75"/>
<line x1="294.14" y1="92.37" x2="294.89" y2="92.16" stroke="#6e3440" stroke-width="0.65" stroke-opacity="0.75"/>
<line x1="297.18" y1="106.28" x2="298.3" y2="106.43" stroke="#6e3440" stroke-width="0.65" stroke-opacity="0.75"/>
<line x1="295.39" y1="106.7" x2="296.36" y2="106.85" stroke="#6e3440" stroke-width="0.65" stroke-opacity="0.75"/>
<line x1="295.28" y1="90.32" x2="296.11" y2="90.03" stroke="#6e3440" stroke-width="0.65" stroke-opacity="0.75"/>
<line x1="285.4" y1="77.3" x2="286.08" y2="76.61" stroke="#6e3440" stroke-width="0.65" stroke-opacity="0.75"/>
<line x1="291.33" y1="86.81" x2="292.51" y2="86.22" stroke="#6e3440" stroke-width="0.65" stroke-opacity="0.75"/>
<line x1="292.94" y1="91.2" x2="294.03" y2="90.84" stroke="#6e3440" stroke-width="0.65" stroke-opacity="0.75"/>
<line x1="293.55" y1="109.31" x2="295.38" y2="109.75" stroke="#6e3440" stroke-width="0.65" stroke-opacity="0.75"/>
<line x1="287.96" y1="77.77" x2="289.27" y2="76.57" stroke="#6e3440" stroke-width="0.65" stroke-opacity="0.75"/>
<line x1="287.02" y1="82.61" x2="288.49" y2="81.5" stroke="#6e3440" stroke-width="0.65" stroke-opacity="0.75"/>
<line x1="295.94" y1="98.42" x2="297.96" y2="98.22" stroke="#6e3440" stroke-width="0.65" stroke-opacity="0.75"/>
<line x1="295.83" y1="99.3" x2="296.81" y2="99.23" stroke="#6e3440" stroke-width="0.65" stroke-opacity="0.75"/>
<line x1="288.55" y1="79.57" x2="289.91" y2="78.45" stroke="#6e3440" stroke-width="0.65" stroke-opacity="0.75"/>
<line x1="293.66" y1="87.58" x2="294.42" y2="87.25" stroke="#6e3440" stroke-width="0.65" stroke-opacity="0.75"/>
<line x1="295.37" y1="108.77" x2="297.26" y2="109.17" stroke="#6e3440" stroke-width="0.65" stroke-opacity="0.75"/>
<line x1="294.88" y1="97.59" x2="296.64" y2="97.37" stroke="#6e3440" stroke-width="0.65" stroke-opacity="0.75"/>
<line x1="297.64" y1="99.68" x2="299.5" y2="99.57" stroke="#6e3440" stroke-width="0.65" stroke-opacity="0.75"/>
<line x1="289.08" y1="83.67" x2="290.45" y2="82.77" stroke="#6e3440" stroke-width="0.65" stroke-opacity="0.75"/>
<line x1="295.08" y1="94.59" x2="296.96" y2="94.19" stroke="#6e3440" stroke-width="0.65" stroke-opacity="0.75"/>
<line x1="293.96" y1="95.74" x2="294.94" y2="95.55" stroke="#6e3440" stroke-width="0.65" stroke-opacity="0.75"/>
<line x1="291.84" y1="83.58" x2="292.43" y2="83.22" stroke="#6e3440" stroke-width="0.65" stroke-opacity="0.75"/>
<line x1="295.68" y1="91.89" x2="296.46" y2="91.66" stroke="#6e3440" stroke-width="0.65" stroke-opacity="0.75"/>
<line x1="293.24" y1="93.51" x2="295.07" y2="93.04" stroke="#6e3440" stroke-width="0.65" stroke-opacity="0.75"/>
<line x1="285.65" y1="77.26" x2="286.95" y2="75.93" stroke="#6e3440" stroke-width="0.65" stroke-opacity="0.75"/>
<path d="M297.15 117.48A38.8 38.8 0 0 1 285.05 132.69L279.87 125.82A30.2 30.2 0 0 0 289.29 113.98Z" fill="#faeef1"/>
<line x1="288.05" y1="121.97" x2="290.83" y2="124.11" stroke="#c0506a" stroke-width="0.8" stroke-opacity="0.38"/>
<line x1="283.29" y1="125.99" x2="285.12" y2="128.05" stroke="#c0506a" stroke-width="0.8" stroke-opacity="0.38"/>
<line x1="281.03" y1="126.32" x2="283.14" y2="129" stroke="#c0506a" stroke-width="0.8" stroke-opacity="0.38"/>
<line x1="284.66" y1="122.7" x2="287.12" y2="124.95" stroke="#c0506a" stroke-width="0.8" stroke-opacity="0.38"/>
<line x1="286.77" y1="125.73" x2="288.56" y2="127.46" stroke="#c0506a" stroke-width="0.8" stroke-opacity="0.38"/>
<line x1="281.83" y1="127.9" x2="283.63" y2="130.25" stroke="#c0506a" stroke-width="0.8" stroke-opacity="0.38"/>
<line x1="281.7" y1="125.56" x2="284.05" y2="128.36" stroke="#c0506a" stroke-width="0.8" stroke-opacity="0.38"/>
<line x1="285.69" y1="123.41" x2="288.72" y2="126.15" stroke="#c0506a" stroke-width="0.8" stroke-opacity="0.38"/>
<line x1="288.77" y1="120.39" x2="291.31" y2="122.14" stroke="#c0506a" stroke-width="0.8" stroke-opacity="0.38"/>
<line x1="283.68" y1="124.74" x2="285.62" y2="126.77" stroke="#c0506a" stroke-width="0.8" stroke-opacity="0.38"/>
<line x1="288.49" y1="121.34" x2="291.7" y2="123.69" stroke="#c0506a" stroke-width="0.8" stroke-opacity="0.38"/>
<line x1="290.64" y1="120.13" x2="292.93" y2="121.59" stroke="#c0506a" stroke-width="0.8" stroke-opacity="0.38"/>
<line x1="286.77" y1="121.72" x2="289.13" y2="123.61" stroke="#c0506a" stroke-width="0.8" stroke-opacity="0.38"/>
<line x1="282.27" y1="128.29" x2="284.64" y2="131.36" stroke="#c0506a" stroke-width="0.8" stroke-opacity="0.38"/>
<line x1="288.58" y1="119.56" x2="290.58" y2="120.88" stroke="#c0506a" stroke-width="0.8" stroke-opacity="0.38"/>
<line x1="287.01" y1="123.71" x2="289.92" y2="126.23" stroke="#c0506a" stroke-width="0.8" stroke-opacity="0.38"/>
<line x1="292.37" y1="116.11" x2="296.14" y2="117.88" stroke="#c0506a" stroke-width="0.8" stroke-opacity="0.38"/>
<line x1="285.66" y1="121.68" x2="287.51" y2="123.22" stroke="#c0506a" stroke-width="0.8" stroke-opacity="0.38"/>
<line x1="290.67" y1="114.71" x2="294.56" y2="116.46" stroke="#c0506a" stroke-width="0.8" stroke-opacity="0.38"/>
<line x1="286.83" y1="124.05" x2="289.72" y2="126.62" stroke="#c0506a" stroke-width="0.8" stroke-opacity="0.38"/>
<path d="M288.65 129.61A38.8 38.8 0 0 1 283.95 133.48L279.02 126.44A30.2 30.2 0 0 0 282.68 123.42Z" fill="#f7e3e7"/>
<line x1="280.98" y1="128.42" x2="283.3" y2="131.64" stroke="#b02545" stroke-width="1.33" stroke-opacity="0.6"/>
<line x1="281.82" y1="127.71" x2="284.41" y2="131.05" stroke="#b02545" stroke-width="0.91" stroke-opacity="0.6"/>
<line x1="281.6" y1="127.18" x2="284.41" y2="130.76" stroke="#b02545" stroke-width="0.8" stroke-opacity="0.6"/>
<line x1="282.35" y1="124.34" x2="285.45" y2="127.74" stroke="#b02545" stroke-width="1.61" stroke-opacity="0.6"/>
<line x1="281.43" y1="126.86" x2="284.39" y2="130.63" stroke="#b02545" stroke-width="1.49" stroke-opacity="0.6"/>
<line x1="281.52" y1="126.23" x2="283.22" y2="128.33" stroke="#b02545" stroke-width="1.12" stroke-opacity="0.6"/>
<line x1="282.9" y1="125.97" x2="285.57" y2="129.03" stroke="#b02545" stroke-width="1.63" stroke-opacity="0.6"/>
<line x1="284.26" y1="125.47" x2="285.4" y2="126.67" stroke="#b02545" stroke-width="0.82" stroke-opacity="0.6"/>
<path d="M281.1 135.3A38.8 38.8 0 0 1 259.67 140.45L260.12 131.86A30.2 30.2 0 0 0 276.8 127.85Z" fill="#f4d9df"/>
<line x1="263.53" y1="133.77" x2="263.89" y2="140.24" stroke="#a51d3d" stroke-width="1.34" stroke-opacity="0.75"/>
<line x1="277.26" y1="129.16" x2="279.95" y2="133.91" stroke="#a51d3d" stroke-width="1.93" stroke-opacity="0.75"/>
<line x1="260.39" y1="133.5" x2="260.2" y2="138.06" stroke="#a51d3d" stroke-width="0.92" stroke-opacity="0.75"/>
<line x1="266.41" y1="132.38" x2="266.91" y2="135.6" stroke="#a51d3d" stroke-width="0.82" stroke-opacity="0.75"/>
<line x1="277.85" y1="129.85" x2="279.39" y2="132.54" stroke="#a51d3d" stroke-width="1.96" stroke-opacity="0.75"/>
<line x1="276.73" y1="131.09" x2="278.16" y2="133.89" stroke="#a51d3d" stroke-width="0.82" stroke-opacity="0.75"/>
<line x1="265.09" y1="132.64" x2="265.77" y2="138.77" stroke="#a51d3d" stroke-width="1.02" stroke-opacity="0.75"/>
<line x1="277.24" y1="130.5" x2="280.03" y2="135.67" stroke="#a51d3d" stroke-width="1.83" stroke-opacity="0.75"/>
<line x1="264.86" y1="132.19" x2="265.44" y2="137.8" stroke="#a51d3d" stroke-width="1.65" stroke-opacity="0.75"/>
<line x1="270.18" y1="133.8" x2="271.14" y2="137.44" stroke="#a51d3d" stroke-width="1.96" stroke-opacity="0.75"/>
<line x1="265.06" y1="131.95" x2="265.34" y2="134.51" stroke="#a51d3d" stroke-width="1.58" stroke-opacity="0.75"/>
<line x1="263.32" y1="132.3" x2="263.53" y2="136.35" stroke="#a51d3d" stroke-width="1.68" stroke-opacity="0.75"/>
<line x1="275.39" y1="131.71" x2="277.44" y2="136.19" stroke="#a51d3d" stroke-width="0.87" stroke-opacity="0.75"/>
<line x1="271.56" y1="132.27" x2="273" y2="136.74" stroke="#a51d3d" stroke-width="1.61" stroke-opacity="0.75"/>
<line x1="275.67" y1="131.37" x2="277.51" y2="135.27" stroke="#a51d3d" stroke-width="1.57" stroke-opacity="0.75"/>
<line x1="266.77" y1="132.94" x2="267.48" y2="137.32" stroke="#a51d3d" stroke-width="1.74" stroke-opacity="0.75"/>
<line x1="261.02" y1="134.45" x2="260.91" y2="139.78" stroke="#a51d3d" stroke-width="1.15" stroke-opacity="0.75"/>
<line x1="277.34" y1="131.12" x2="279.82" y2="135.78" stroke="#a51d3d" stroke-width="1.79" stroke-opacity="0.75"/>
<line x1="272.21" y1="132.15" x2="274.29" y2="138.19" stroke="#a51d3d" stroke-width="1.8" stroke-opacity="0.75"/>
<line x1="267.23" y1="132.53" x2="268.05" y2="137.1" stroke="#a51d3d" stroke-width="1.87" stroke-opacity="0.75"/>
<line x1="271.5" y1="132.64" x2="273.16" y2="137.89" stroke="#a51d3d" stroke-width="1.88" stroke-opacity="0.75"/>
<line x1="263.53" y1="132.9" x2="263.67" y2="135.4" stroke="#a51d3d" stroke-width="1.12" stroke-opacity="0.75"/>
<line x1="270.6" y1="132.61" x2="272.38" y2="138.79" stroke="#a51d3d" stroke-width="1.86" stroke-opacity="0.75"/>
<line x1="277.45" y1="130.58" x2="280.18" y2="135.59" stroke="#a51d3d" stroke-width="1.84" stroke-opacity="0.75"/>
<line x1="267.73" y1="132.33" x2="269.03" y2="138.96" stroke="#a51d3d" stroke-width="1.77" stroke-opacity="0.75"/>
<line x1="265.97" y1="134.56" x2="266.52" y2="138.76" stroke="#a51d3d" stroke-width="0.9" stroke-opacity="0.75"/>
<line x1="268.37" y1="133.81" x2="269.08" y2="137.24" stroke="#a51d3d" stroke-width="1.7" stroke-opacity="0.75"/>
<line x1="261.29" y1="132.8" x2="261.22" y2="138.33" stroke="#a51d3d" stroke-width="1.61" stroke-opacity="0.75"/>
<line x1="269.54" y1="131.71" x2="270.5" y2="135.36" stroke="#a51d3d" stroke-width="1.7" stroke-opacity="0.75"/>
<line x1="263.85" y1="133.41" x2="264.05" y2="136.34" stroke="#a51d3d" stroke-width="1.77" stroke-opacity="0.75"/>
<line x1="264.15" y1="132.7" x2="264.58" y2="138.08" stroke="#a51d3d" stroke-width="1.88" stroke-opacity="0.75"/>
<line x1="262.14" y1="133.66" x2="262.21" y2="138.54" stroke="#a51d3d" stroke-width="1.51" stroke-opacity="0.75"/>
<line x1="274.18" y1="130.05" x2="275.55" y2="133.17" stroke="#a51d3d" stroke-width="1.64" stroke-opacity="0.75"/>
<line x1="271.63" y1="132.22" x2="273.03" y2="136.51" stroke="#a51d3d" stroke-width="1.42" stroke-opacity="0.75"/>
<line x1="274.64" y1="129.35" x2="277.82" y2="136.13" stroke="#a51d3d" stroke-width="1.25" stroke-opacity="0.75"/>
<line x1="276.11" y1="130.61" x2="278.92" y2="136.25" stroke="#a51d3d" stroke-width="0.99" stroke-opacity="0.75"/>
<line x1="267.32" y1="132.63" x2="268.23" y2="137.64" stroke="#a51d3d" stroke-width="0.82" stroke-opacity="0.75"/>
<line x1="277.82" y1="130.92" x2="280.35" y2="135.5" stroke="#a51d3d" stroke-width="1.38" stroke-opacity="0.75"/>
<line x1="267.8" y1="132.28" x2="269.05" y2="138.55" stroke="#a51d3d" stroke-width="1.31" stroke-opacity="0.75"/>
<line x1="261" y1="134.39" x2="260.87" y2="140.29" stroke="#a51d3d" stroke-width="1.96" stroke-opacity="0.75"/>
<line x1="272.94" y1="130.07" x2="274.23" y2="133.33" stroke="#a51d3d" stroke-width="1.02" stroke-opacity="0.75"/>
<line x1="275.68" y1="128.86" x2="278.1" y2="133.57" stroke="#a51d3d" stroke-width="1.84" stroke-opacity="0.75"/>
<line x1="270.23" y1="133.83" x2="271.61" y2="139.01" stroke="#a51d3d" stroke-width="0.88" stroke-opacity="0.75"/>
<line x1="267.33" y1="132.79" x2="267.88" y2="135.84" stroke="#a51d3d" stroke-width="1.95" stroke-opacity="0.75"/>
<line x1="273.47" y1="131.56" x2="275.56" y2="136.86" stroke="#a51d3d" stroke-width="1.95" stroke-opacity="0.75"/>
<line x1="266.04" y1="132.98" x2="266.69" y2="137.68" stroke="#a51d3d" stroke-width="0.99" stroke-opacity="0.75"/>
<line x1="260.61" y1="135.06" x2="260.49" y2="138.66" stroke="#a51d3d" stroke-width="0.85" stroke-opacity="0.75"/>
<line x1="273.26" y1="130.96" x2="275.83" y2="137.48" stroke="#a51d3d" stroke-width="1.89" stroke-opacity="0.75"/>
<line x1="262.96" y1="132.21" x2="263.23" y2="138.64" stroke="#a51d3d" stroke-width="1.65" stroke-opacity="0.75"/>
<line x1="266.72" y1="134.68" x2="267.14" y2="137.42" stroke="#a51d3d" stroke-width="0.97" stroke-opacity="0.75"/>
<line x1="264.65" y1="134.79" x2="265.12" y2="140.15" stroke="#a51d3d" stroke-width="1.16" stroke-opacity="0.75"/>
<line x1="267.64" y1="133.83" x2="268.19" y2="136.81" stroke="#a51d3d" stroke-width="1.19" stroke-opacity="0.75"/>
<path d="M233.79 128.65A38.8 38.8 0 0 1 223.75 109.77L232.16 107.98A30.2 30.2 0 0 0 239.98 122.68Z" fill="#faeef1"/>
<line x1="236.15" y1="120.11" x2="233.76" y2="121.83" stroke="#c0506a" stroke-width="0.8" stroke-opacity="0.38"/>
<line x1="236.73" y1="121.64" x2="235.22" y2="122.84" stroke="#c0506a" stroke-width="0.8" stroke-opacity="0.38"/>
<line x1="232.97" y1="113.49" x2="229.6" y2="114.88" stroke="#c0506a" stroke-width="0.8" stroke-opacity="0.38"/>
<line x1="237.08" y1="120.77" x2="233.69" y2="123.39" stroke="#c0506a" stroke-width="0.8" stroke-opacity="0.38"/>
<line x1="233.94" y1="122.58" x2="230.85" y2="124.9" stroke="#c0506a" stroke-width="0.8" stroke-opacity="0.38"/>
<line x1="231.3" y1="110.17" x2="228.56" y2="110.93" stroke="#c0506a" stroke-width="0.8" stroke-opacity="0.38"/>
<line x1="235.46" y1="124.43" x2="232.52" y2="126.97" stroke="#c0506a" stroke-width="0.8" stroke-opacity="0.38"/>
<line x1="231.7" y1="114.99" x2="229.4" y2="116.01" stroke="#c0506a" stroke-width="0.8" stroke-opacity="0.38"/>
<line x1="230.34" y1="111.69" x2="227.12" y2="112.71" stroke="#c0506a" stroke-width="0.8" stroke-opacity="0.38"/>
<line x1="237.07" y1="121.95" x2="235.78" y2="123.01" stroke="#c0506a" stroke-width="0.8" stroke-opacity="0.38"/>
<line x1="230.73" y1="113.69" x2="228.92" y2="114.39" stroke="#c0506a" stroke-width="0.8" stroke-opacity="0.38"/>
<line x1="230.9" y1="110.61" x2="228.27" y2="111.37" stroke="#c0506a" stroke-width="0.8" stroke-opacity="0.38"/>
<line x1="236.77" y1="121.9" x2="233.65" y2="124.43" stroke="#c0506a" stroke-width="0.8" stroke-opacity="0.38"/>
<line x1="235.23" y1="119.09" x2="232.74" y2="120.72" stroke="#c0506a" stroke-width="0.8" stroke-opacity="0.38"/>
<line x1="232.94" y1="120.97" x2="231.41" y2="121.99" stroke="#c0506a" stroke-width="0.8" stroke-opacity="0.38"/>
<line x1="231.23" y1="108.56" x2="227.15" y2="109.48" stroke="#c0506a" stroke-width="0.8" stroke-opacity="0.38"/>
<line x1="232.3" y1="113.95" x2="229.6" y2="115.07" stroke="#c0506a" stroke-width="0.8" stroke-opacity="0.38"/>
<line x1="235.41" y1="120" x2="233.68" y2="121.2" stroke="#c0506a" stroke-width="0.8" stroke-opacity="0.38"/>
<line x1="232.16" y1="120.41" x2="229.09" y2="122.35" stroke="#c0506a" stroke-width="0.8" stroke-opacity="0.38"/>
<line x1="231.3" y1="109.51" x2="229" y2="110.09" stroke="#c0506a" stroke-width="0.8" stroke-opacity="0.38"/>
<line x1="231.58" y1="109.95" x2="228.03" y2="110.92" stroke="#c0506a" stroke-width="0.8" stroke-opacity="0.38"/>
<line x1="232.96" y1="121.53" x2="231.69" y2="122.41" stroke="#c0506a" stroke-width="0.8" stroke-opacity="0.38"/>
<path d="M229.16 122.83A38.8 38.8 0 0 1 223.75 109.77L232.16 107.98A30.2 30.2 0 0 0 236.37 118.15Z" fill="#f7e3e7"/>
<line x1="231.08" y1="110.51" x2="229.1" y2="111.08" stroke="#b02545" stroke-width="0.7" stroke-opacity="0.6"/>
<line x1="230.28" y1="110.43" x2="228.12" y2="111.03" stroke="#b02545" stroke-width="1.14" stroke-opacity="0.6"/>
<line x1="231.24" y1="109.21" x2="227.56" y2="110.12" stroke="#b02545" stroke-width="0.84" stroke-opacity="0.6"/>
<line x1="232.39" y1="118.09" x2="228.6" y2="120.21" stroke="#b02545" stroke-width="0.9" stroke-opacity="0.6"/>
<line x1="235.35" y1="117.74" x2="231.99" y2="119.79" stroke="#b02545" stroke-width="1.2" stroke-opacity="0.6"/>
<line x1="233.85" y1="116.04" x2="230.34" y2="117.85" stroke="#b02545" stroke-width="1.41" stroke-opacity="0.6"/>
<line x1="230.13" y1="110.73" x2="227.91" y2="111.36" stroke="#b02545" stroke-width="0.77" stroke-opacity="0.6"/>
<line x1="231.07" y1="111.42" x2="226.89" y2="112.75" stroke="#b02545" stroke-width="0.76" stroke-opacity="0.6"/>
<line x1="231.09" y1="110.46" x2="226.41" y2="111.8" stroke="#b02545" stroke-width="1.56" stroke-opacity="0.6"/>
<line x1="233.49" y1="113.47" x2="228.75" y2="115.45" stroke="#b02545" stroke-width="1.18" stroke-opacity="0.6"/>
<line x1="231.17" y1="109.7" x2="229" y2="110.27" stroke="#b02545" stroke-width="1.53" stroke-opacity="0.6"/>
<line x1="233.53" y1="115.01" x2="230.83" y2="116.28" stroke="#b02545" stroke-width="1.29" stroke-opacity="0.6"/>
<line x1="234.35" y1="119.4" x2="231.59" y2="121.18" stroke="#b02545" stroke-width="1.22" stroke-opacity="0.6"/>
<line x1="232.95" y1="118.61" x2="228.84" y2="121.03" stroke="#b02545" stroke-width="1.57" stroke-opacity="0.6"/>
<line x1="231.8" y1="116.45" x2="229.08" y2="117.79" stroke="#b02545" stroke-width="1.45" stroke-opacity="0.6"/>
<line x1="232.78" y1="119.57" x2="228.86" y2="121.99" stroke="#b02545" stroke-width="1.19" stroke-opacity="0.6"/>
<line x1="231.5" y1="114.04" x2="228.12" y2="115.42" stroke="#b02545" stroke-width="0.72" stroke-opacity="0.6"/>
<line x1="231.07" y1="108.59" x2="228.9" y2="109.08" stroke="#b02545" stroke-width="0.8" stroke-opacity="0.6"/>
<path d="M223.28 107.1A38.8 38.8 0 0 1 225.48 87.8L233.51 90.88A30.2 30.2 0 0 0 231.79 105.9Z" fill="#faeef1"/>
<line x1="227.43" y1="102.14" x2="225.84" y2="102.16" stroke="#c0506a" stroke-width="0.8" stroke-opacity="0.38"/>
<line x1="228.04" y1="104.76" x2="225.97" y2="104.95" stroke="#c0506a" stroke-width="0.8" stroke-opacity="0.38"/>
<line x1="228.59" y1="106.05" x2="225.39" y2="106.47" stroke="#c0506a" stroke-width="0.8" stroke-opacity="0.38"/>
<line x1="228.15" y1="97.48" x2="226.36" y2="97.26" stroke="#c0506a" stroke-width="0.8" stroke-opacity="0.38"/>
<line x1="229.35" y1="91.68" x2="227.79" y2="91.19" stroke="#c0506a" stroke-width="0.8" stroke-opacity="0.38"/>
<line x1="228.82" y1="104.25" x2="225.83" y2="104.48" stroke="#c0506a" stroke-width="0.8" stroke-opacity="0.38"/>
<line x1="230.21" y1="101.64" x2="227.49" y2="101.63" stroke="#c0506a" stroke-width="0.8" stroke-opacity="0.38"/>
<line x1="228.42" y1="104.04" x2="224.34" y2="104.33" stroke="#c0506a" stroke-width="0.8" stroke-opacity="0.38"/>
<line x1="228.48" y1="103.87" x2="224.75" y2="104.11" stroke="#c0506a" stroke-width="0.8" stroke-opacity="0.38"/>
<line x1="227.45" y1="103.64" x2="223.16" y2="103.88" stroke="#c0506a" stroke-width="0.8" stroke-opacity="0.38"/>
<line x1="229.07" y1="99.83" x2="225.06" y2="99.6" stroke="#c0506a" stroke-width="0.8" stroke-opacity="0.38"/>
<line x1="229.38" y1="97.59" x2="225.09" y2="97.05" stroke="#c0506a" stroke-width="0.8" stroke-opacity="0.38"/>
<line x1="230.38" y1="93.58" x2="228.23" y2="93.03" stroke="#c0506a" stroke-width="0.8" stroke-opacity="0.38"/>
<line x1="228.97" y1="100.72" x2="224.53" y2="100.59" stroke="#c0506a" stroke-width="0.8" stroke-opacity="0.38"/>
<line x1="228.28" y1="92.54" x2="224.48" y2="91.5" stroke="#c0506a" stroke-width="0.8" stroke-opacity="0.38"/>
<line x1="231.78" y1="92.79" x2="228.86" y2="91.92" stroke="#c0506a" stroke-width="0.8" stroke-opacity="0.38"/>
<line x1="229.01" y1="89.95" x2="226.9" y2="89.19" stroke="#c0506a" stroke-width="0.8" stroke-opacity="0.38"/>
<line x1="228.26" y1="99.22" x2="225.67" y2="99.03" stroke="#c0506a" stroke-width="0.8" stroke-opacity="0.38"/>
<line x1="230.68" y1="97.68" x2="227.91" y2="97.32" stroke="#c0506a" stroke-width="0.8" stroke-opacity="0.38"/>
<line x1="230.83" y1="98.11" x2="228.92" y2="97.88" stroke="#c0506a" stroke-width="0.8" stroke-opacity="0.38"/>
<path d="M242.36 65.78A40.8 40.8 0 0 1 287.65 70.22" fill="none" stroke="#9c9c9c" stroke-width="2.4"/>
<path d="M235.01 52.13A56.3 56.3 0 0 1 297.51 58.26" fill="none" stroke="#808080" stroke-width="2.4" stroke-dasharray="0.5 0.3"/>
<path d="M234.53 51.25A57.3 57.3 0 0 1 298.15 57.49" fill="none" stroke="#707070" stroke-width="0.6"/>
<line x1="247.86" y1="75.99" x2="234.53" y2="51.25" stroke="#7a7a7a" stroke-width="0.7"/>
<line x1="280.27" y1="79.17" x2="298.15" y2="57.49" stroke="#7a7a7a" stroke-width="0.7"/>
<rect x="240.77" y="43.55" width="5.2" height="1.2" fill="#c4c4c4" transform="rotate(-17.67,243.37,44.15)"/>
<rect x="264.99" y="40.99" width="5.2" height="1.2" fill="#c4c4c4" transform="rotate(5.6,267.59,41.59)"/>
<rect x="288.26" y="48.2" width="5.2" height="1.2" fill="#c4c4c4" transform="rotate(28.87,290.86,48.8)"/>
<path d="M196.56 67.65A73.5 73.5 0 0 1 303.33 41.13L301.29 44.09A69.9 69.9 0 0 0 199.75 69.32Z" fill="#fff" stroke="#4a4a4a" stroke-width="0.7"/>
<path d="M202.4 58.62A73.3 73.3 0 0 1 203.94 56.57L206.46 58.54A70.1 70.1 0 0 0 204.99 60.5Z" fill="#000"/>
<path d="M238.08 32.31A73.3 73.3 0 0 1 241 31.38L241.91 34.45A70.1 70.1 0 0 0 239.11 35.34Z" fill="#b3122e"/>
<path d="M272.28 29.17A73.3 73.3 0 0 1 275.06 29.63L274.47 32.77A70.1 70.1 0 0 0 271.82 32.33Z" fill="#000"/>
<path d="M283.13 31.6A73.3 73.3 0 0 1 286.05 32.56L284.98 35.58A70.1 70.1 0 0 0 282.2 34.66Z" fill="#000"/>
<path d="M294.98 36.39A73.3 73.3 0 0 1 296.11 36.98L294.61 39.81A70.1 70.1 0 0 0 293.52 39.24Z" fill="#555"/>
<path d="M251.5 29.11A73.3 73.3 0 0 1 252.77 28.95L253.16 32.12A70.1 70.1 0 0 0 251.94 32.28Z" fill="#777"/>
<path d="M251.42 56.45A46.4 46.4 0 0 1 253.8 55.98L254.18 58.14A44.2 44.2 0 0 0 251.91 58.6Z" fill="#e6e6e6" stroke="#777" stroke-width="0.6"/>
<text transform="translate(247.94,52.07) rotate(344.5)" text-anchor="middle" dominant-baseline="central" font-size="6.6" fill="#4a4a4a" textLength="18.07" lengthAdjust="spacingAndGlyphs" >EIF4A2</text>
<path d="M249.69 56.26A47 47 0 0 1 250.49 56.06L251.3 59.36A43.6 43.6 0 0 0 250.56 59.55Z" fill="#111"/>
<path d="M264.65 54.79A47 47 0 0 1 265.96 54.89L265.65 58.28A43.6 43.6 0 0 0 264.44 58.19Z" fill="#111"/>
<text transform="translate(266.19,50.4) rotate(5)" text-anchor="middle" dominant-baseline="central" font-size="6.6" fill="#4a4a4a" textLength="13.55" lengthAdjust="spacingAndGlyphs" >BCL6</text>
<path d="M272.93 56.68A46.4 46.4 0 0 1 284.2 61.12L283.13 63.04A44.2 44.2 0 0 0 272.39 58.81Z" fill="#e6e6e6" stroke="#777" stroke-width="0.6"/>
<text transform="translate(280.16,53.62) rotate(21)" text-anchor="middle" dominant-baseline="central" font-size="6.6" fill="#4a4a4a" textLength="10.24" lengthAdjust="spacingAndGlyphs" >LPP</text>
<path d="M288.73 71.14A40.8 40.8 0 0 1 299.92 115.99" fill="none" stroke="#9c9c9c" stroke-width="2.4"/>
<path d="M299.01 59.53A56.3 56.3 0 0 1 314.43 121.42" fill="none" stroke="#808080" stroke-width="2.4" stroke-dasharray="0.5 0.3"/>
<path d="M299.67 58.78A57.3 57.3 0 0 1 315.37 121.77" fill="none" stroke="#707070" stroke-width="0.6"/>
<line x1="281.05" y1="79.83" x2="299.67" y2="58.78" stroke="#7a7a7a" stroke-width="0.7"/>
<line x1="289.05" y1="111.93" x2="315.37" y2="121.77" stroke="#7a7a7a" stroke-width="0.7"/>
<rect x="306.91" y="64.19" width="5.2" height="1.2" fill="#c4c4c4" transform="rotate(52.33,309.51,64.79)"/>
<rect x="317.71" y="86.49" width="5.2" height="1.2" fill="#c4c4c4" transform="rotate(76,320.31,87.09)"/>
<rect x="318.64" y="111.24" width="5.2" height="1.2" fill="#c4c4c4" transform="rotate(-80.33,321.24,111.84)"/>
<path d="M306.78 52.68A66.6 66.6 0 0 1 324.08 125.02L320.9 123.83A63.2 63.2 0 0 0 304.48 55.18Z" fill="#d6006f"/>
<path d="M308.75 45.23A73.5 73.5 0 0 1 332.89 119.98L329.4 119.08A69.9 69.9 0 0 0 306.44 48Z" fill="#fff" stroke="#4a4a4a" stroke-width="0.7"/>
<path d="M314.43 50.78A73.3 73.3 0 0 1 316.34 52.84L313.96 54.98A70.1 70.1 0 0 0 312.13 53Z" fill="#000"/>
<path d="M324.53 63.95A73.3 73.3 0 0 1 325.81 66.16L323.01 67.71A70.1 70.1 0 0 0 321.79 65.6Z" fill="#b3122e"/>
<path d="M331.8 80.27A73.3 73.3 0 0 1 332.5 82.73L329.41 83.56A70.1 70.1 0 0 0 328.74 81.2Z" fill="#000"/>
<path d="M333.45 86.71A73.3 73.3 0 0 1 333.89 88.97L330.74 89.53A70.1 70.1 0 0 0 330.32 87.36Z" fill="#000"/>
<path d="M334.96 99.14A73.3 73.3 0 0 1 335 102.34L331.8 102.31A70.1 70.1 0 0 0 331.76 99.25Z" fill="#000"/>
<path d="M298.66 71.23A47.9 47.9 0 0 1 303.59 78.48L299.92 80.51A43.7 43.7 0 0 0 295.42 73.9Z" fill="#d6006f" stroke="#333" stroke-opacity="0.45" stroke-width="0.5"/>
<text transform="translate(304.65,73.28) rotate(56.5)" text-anchor="middle" dominant-baseline="central" font-size="6.6" fill="#4a4a4a" textLength="18.07" lengthAdjust="spacingAndGlyphs" >CASC8</text>
<path d="M307.55 91.37A47 47 0 0 1 307.77 92.41L304.44 93.08A43.6 43.6 0 0 0 304.23 92.11Z" fill="#111"/>
<text transform="translate(311.88,90.12) rotate(77)" text-anchor="middle" dominant-baseline="central" font-size="6.6" fill="#4a4a4a" textLength="12.04" lengthAdjust="spacingAndGlyphs" >MYC</text>
<path d="M309.34 96.69A47.9 47.9 0 0 1 308.72 110.84L304.6 110.04A43.7 43.7 0 0 0 305.16 97.13Z" fill="#d6006f" stroke="#333" stroke-opacity="0.45" stroke-width="0.5"/>
<path d="M299.39 117.31A40.8 40.8 0 0 1 285.1 135.12" fill="none" stroke="#9c9c9c" stroke-width="2.4"/>
<path d="M313.71 123.25A56.3 56.3 0 0 1 293.99 147.82" fill="none" stroke="#808080" stroke-width="2.4" stroke-dasharray="0.5 0.3"/>
<path d="M314.64 123.63A57.3 57.3 0 0 1 294.57 148.64" fill="none" stroke="#707070" stroke-width="0.6"/>
<line x1="288.68" y1="112.87" x2="314.64" y2="123.63" stroke="#7a7a7a" stroke-width="0.7"/>
<line x1="278.45" y1="125.62" x2="294.57" y2="148.64" stroke="#7a7a7a" stroke-width="0.7"/>
<rect x="312.8" y="128.76" width="5.2" height="1.2" fill="#c4c4c4" transform="rotate(-62.75,315.4,129.36)"/>
<rect x="306.21" y="138.91" width="5.2" height="1.2" fill="#c4c4c4" transform="rotate(-51.25,308.81,139.51)"/>
<rect x="297.72" y="147.54" width="5.2" height="1.2" fill="#c4c4c4" transform="rotate(-39.75,300.32,148.14)"/>
<path d="M322.49 128.89A66.6 66.6 0 0 1 297.88 157.62L296.03 154.76A63.2 63.2 0 0 0 319.39 127.51Z" fill="#eea3c3"/>
<path d="M330.77 126.84A73.5 73.5 0 0 1 305.83 160.48L303.67 157.6A69.9 69.9 0 0 0 327.38 125.61Z" fill="#fff" stroke="#4a4a4a" stroke-width="0.7"/>
<path d="M329.37 129.87A73.3 73.3 0 0 1 328.35 132.21L325.44 130.88A70.1 70.1 0 0 0 326.42 128.64Z" fill="#000"/>
<path d="M327.41 134.18A73.3 73.3 0 0 1 326.42 136.11L323.59 134.61A70.1 70.1 0 0 0 324.54 132.76Z" fill="#000"/>
<path d="M313.53 153.53A73.3 73.3 0 0 1 311.88 155.13L309.69 152.8A70.1 70.1 0 0 0 311.27 151.27Z" fill="#000"/>
<path d="M302.48 123.84A46.4 46.4 0 0 1 299.47 128.64L297.68 127.37A44.2 44.2 0 0 0 300.54 122.79Z" fill="#eea3c3" stroke="#777" stroke-width="0.6"/>
<text transform="translate(304.89,129.75) rotate(-57)" text-anchor="middle" dominant-baseline="central" font-size="6.6" fill="#4a4a4a" textLength="13.45" lengthAdjust="spacingAndGlyphs" >PAX5</text>
<path d="M296.18 132.75A46.4 46.4 0 0 1 291.53 137.24L290.11 135.56A44.2 44.2 0 0 0 294.55 131.28Z" fill="#eea3c3" stroke="#777" stroke-width="0.6"/>
<path d="M283.92 135.92A40.8 40.8 0 0 1 258.5 142.37" fill="none" stroke="#9c9c9c" stroke-width="2.4"/>
<path d="M292.36 148.92A56.3 56.3 0 0 1 257.28 157.83" fill="none" stroke="#808080" stroke-width="2.4" stroke-dasharray="0.5 0.3"/>
<path d="M292.91 149.76A57.3 57.3 0 0 1 257.2 158.82" fill="none" stroke="#707070" stroke-width="0.6"/>
<line x1="277.6" y1="126.19" x2="292.91" y2="149.76" stroke="#7a7a7a" stroke-width="0.7"/>
<line x1="259.41" y1="130.81" x2="257.2" y2="158.82" stroke="#7a7a7a" stroke-width="0.7"/>
<rect x="286.91" y="154.72" width="5.2" height="1.2" fill="#c4c4c4" transform="rotate(-27.42,289.51,155.32)"/>
<rect x="273.97" y="159.64" width="5.2" height="1.2" fill="#c4c4c4" transform="rotate(-14.25,276.57,160.24)"/>
<rect x="260.24" y="161.49" width="5.2" height="1.2" fill="#c4c4c4" transform="rotate(-1.08,262.84,162.09)"/>
<path d="M294.5 159.67A66.6 66.6 0 0 1 257.17 168.15L257.4 164.75A63.2 63.2 0 0 0 292.82 156.71Z" fill="#3aa935"/>
<path d="M301.19 163.69A73.5 73.5 0 0 1 260.67 175.19L260.72 171.59A69.9 69.9 0 0 0 299.26 160.65Z" fill="#fff" stroke="#4a4a4a" stroke-width="0.7"/>
<path d="M292.1 168.4A73.3 73.3 0 0 1 290.1 169.27L288.86 166.32A70.1 70.1 0 0 0 290.77 165.49Z" fill="#000"/>
<path d="M287.97 170.13A73.3 73.3 0 0 1 286.05 170.84L284.98 167.82A70.1 70.1 0 0 0 286.82 167.14Z" fill="#000"/>
<path d="M285.08 171.17A73.3 73.3 0 0 1 283.13 171.8L282.2 168.74A70.1 70.1 0 0 0 284.06 168.14Z" fill="#000"/>
<path d="M271.9 174.29A73.3 73.3 0 0 1 269.36 174.6L269.03 171.42A70.1 70.1 0 0 0 271.46 171.12Z" fill="#000"/>
<path d="M284.19 143.99A47.9 47.9 0 0 1 260.03 149.57L260.17 145.37A43.7 43.7 0 0 0 282.22 140.28Z" fill="#3aa935" stroke="#333" stroke-opacity="0.45" stroke-width="0.5"/>
<text transform="translate(269.76,152.57) rotate(-9)" text-anchor="middle" dominant-baseline="central" font-size="6.6" fill="#4a4a4a" textLength="9.63" lengthAdjust="spacingAndGlyphs" >IGH</text>
<path d="M257.08 142.24A40.8 40.8 0 0 1 234.14 131.78" fill="none" stroke="#9c9c9c" stroke-width="2.4"/>
<path d="M255.33 157.64A56.3 56.3 0 0 1 223.66 143.21" fill="none" stroke="#808080" stroke-width="2.4" stroke-dasharray="0.5 0.3"/>
<path d="M255.21 158.63A57.3 57.3 0 0 1 222.99 143.95" fill="none" stroke="#707070" stroke-width="0.6"/>
<line x1="258.39" y1="130.71" x2="255.21" y2="158.63" stroke="#7a7a7a" stroke-width="0.7"/>
<line x1="241.97" y1="123.23" x2="222.99" y2="143.95" stroke="#7a7a7a" stroke-width="0.7"/>
<rect x="246.71" y="160.22" width="5.2" height="1.2" fill="#c4c4c4" transform="rotate(11.83,249.31,160.82)"/>
<rect x="234.05" y="156.06" width="5.2" height="1.2" fill="#c4c4c4" transform="rotate(24.5,236.65,156.66)"/>
<rect x="222.61" y="149.23" width="5.2" height="1.2" fill="#c4c4c4" transform="rotate(37.17,225.21,149.83)"/>
<path d="M253.35 167.77A66.6 66.6 0 0 1 218.09 152.04L220.32 149.47A63.2 63.2 0 0 0 253.78 164.4Z" fill="#0d6b48"/>
<path d="M255.42 174.93A73.5 73.5 0 0 1 216.05 159.3L218.28 156.48A69.9 69.9 0 0 0 255.73 171.34Z" fill="#fff" stroke="#4a4a4a" stroke-width="0.7"/>
<path d="M239.9 171.68A73.3 73.3 0 0 1 237.47 170.88L238.53 167.86A70.1 70.1 0 0 0 240.85 168.63Z" fill="#b3122e"/>
<path d="M229.11 167.36A73.3 73.3 0 0 1 226.61 166.06L228.14 163.25A70.1 70.1 0 0 0 230.53 164.49Z" fill="#000"/>
<path d="M245.32 146.71A47.9 47.9 0 0 1 239.21 143.99L241.18 140.28A43.7 43.7 0 0 0 246.75 142.76Z" fill="#0d6b48" stroke="#333" stroke-opacity="0.45" stroke-width="0.5"/>
<text transform="translate(240.75,148.75) rotate(24)" text-anchor="middle" dominant-baseline="central" font-size="6.6" fill="#4a4a4a" textLength="13.44" lengthAdjust="spacingAndGlyphs" >CIITA</text>
<path d="M233.1 130.8A40.8 40.8 0 0 1 221.73 109.9" fill="none" stroke="#9c9c9c" stroke-width="2.4"/>
<path d="M222.24 141.86A56.3 56.3 0 0 1 206.55 113.02" fill="none" stroke="#808080" stroke-width="2.4" stroke-dasharray="0.5 0.3"/>
<path d="M221.54 142.57A57.3 57.3 0 0 1 205.57 113.22" fill="none" stroke="#707070" stroke-width="0.6"/>
<line x1="241.23" y1="122.53" x2="221.54" y2="142.57" stroke="#7a7a7a" stroke-width="0.7"/>
<line x1="233.1" y1="107.57" x2="205.57" y2="113.22" stroke="#7a7a7a" stroke-width="0.7"/>
<rect x="213.18" y="140.34" width="5.2" height="1.2" fill="#c4c4c4" transform="rotate(49.48,215.78,140.94)"/>
<rect x="206.04" y="129.97" width="5.2" height="1.2" fill="#c4c4c4" transform="rotate(61.45,208.64,130.57)"/>
<rect x="201.21" y="118.34" width="5.2" height="1.2" fill="#c4c4c4" transform="rotate(73.42,203.81,118.94)"/>
<path d="M215.94 150.09A66.6 66.6 0 0 1 196.73 116.34L200.05 115.59A63.2 63.2 0 0 0 218.28 147.62Z" fill="#f39a1e"/>
<path d="M211.57 155.45A73.5 73.5 0 0 1 190.74 120.85L194.21 119.91A69.9 69.9 0 0 0 214.03 152.82Z" fill="#fff" stroke="#4a4a4a" stroke-width="0.7"/>
<path d="M210.32 153.98A73.3 73.3 0 0 1 208.09 151.69L210.43 149.51A70.1 70.1 0 0 0 212.57 151.7Z" fill="#6fc3ea"/>
<path d="M204.33 147.33A73.3 73.3 0 0 1 202.4 144.78L204.99 142.9A70.1 70.1 0 0 0 206.84 145.34Z" fill="#b3122e"/>
<path d="M226.67 134.37A47.9 47.9 0 0 1 215.43 114.1L219.49 113.01A43.7 43.7 0 0 0 229.74 131.5Z" fill="#f39a1e" stroke="#333" stroke-opacity="0.45" stroke-width="0.5"/>
<text transform="translate(216.23,125.88) rotate(62)" text-anchor="middle" dominant-baseline="central" font-size="6.6" fill="#4a4a4a" textLength="8.73" lengthAdjust="spacingAndGlyphs" >IGL</text>
<path d="M221.47 108.5A40.8 40.8 0 0 1 224.01 86.09" fill="none" stroke="#9c9c9c" stroke-width="2.4"/>
<path d="M206.19 111.09A56.3 56.3 0 0 1 209.69 80.15" fill="none" stroke="#808080" stroke-width="2.4" stroke-dasharray="0.5 0.3"/>
<path d="M205.2 111.26A57.3 57.3 0 0 1 208.76 79.77" fill="none" stroke="#707070" stroke-width="0.6"/>
<line x1="232.91" y1="106.57" x2="205.2" y2="111.26" stroke="#7a7a7a" stroke-width="0.7"/>
<line x1="234.72" y1="90.53" x2="208.76" y2="79.77" stroke="#7a7a7a" stroke-width="0.7"/>
<rect x="198.92" y="106.28" width="5.2" height="1.2" fill="#c4c4c4" transform="rotate(85.08,201.52,106.88)"/>
<rect x="199.08" y="94.31" width="5.2" height="1.2" fill="#c4c4c4" transform="rotate(276.45,201.68,94.91)"/>
<rect x="201.6" y="82.62" width="5.2" height="1.2" fill="#c4c4c4" transform="rotate(287.82,204.2,83.22)"/>
<path d="M195.92 112.12A66.6 66.6 0 0 1 200.26 76L203.4 77.31A63.2 63.2 0 0 0 199.28 111.59Z" fill="#2aa6dc"/>
<path d="M189.23 113.96A73.5 73.5 0 0 1 193.5 74.29L196.84 75.63A69.9 69.9 0 0 0 192.78 113.36Z" fill="#fff" stroke="#4a4a4a" stroke-width="0.7"/>
<path d="M188.95 110.63A73.3 73.3 0 0 1 188.8 109.36L191.98 109.03A70.1 70.1 0 0 0 192.12 110.24Z" fill="#000"/>
<path d="M188.65 107.71A73.3 73.3 0 0 1 188.53 106.05L191.72 105.86A70.1 70.1 0 0 0 191.84 107.44Z" fill="#000"/>
<path d="M188.41 102.98A73.3 73.3 0 0 1 188.4 101.44L191.6 101.46A70.1 70.1 0 0 0 191.61 102.92Z" fill="#000"/>
<path d="M188.87 93.4A73.3 73.3 0 0 1 189.11 91.5L192.28 91.94A70.1 70.1 0 0 0 192.05 93.76Z" fill="#000"/>
<path d="M190.28 85.21A73.3 73.3 0 0 1 190.58 83.97L193.68 84.74A70.1 70.1 0 0 0 193.4 85.93Z" fill="#555"/>
<path d="M192.82 76.63A73.3 73.3 0 0 1 193.27 75.43L196.26 76.58A70.1 70.1 0 0 0 195.83 77.72Z" fill="#000"/>
<path d="M213.83 103.37A47.9 47.9 0 0 1 215.89 87.7L219.91 88.92A43.7 43.7 0 0 0 218.03 103.23Z" fill="#2aa6dc" stroke="#333" stroke-opacity="0.45" stroke-width="0.5"/>
<text transform="translate(210.48,96.32) rotate(276)" text-anchor="middle" dominant-baseline="central" font-size="6.6" fill="#4a4a4a" textLength="9.33" lengthAdjust="spacingAndGlyphs" >IGK</text>
<path d="M224.57 84.78A40.8 40.8 0 0 1 241.12 66.47" fill="none" stroke="#9c9c9c" stroke-width="2.4"/>
<path d="M210.47 78.35A56.3 56.3 0 0 1 233.3 53.09" fill="none" stroke="#808080" stroke-width="2.4" stroke-dasharray="0.5 0.3"/>
<path d="M209.56 77.94A57.3 57.3 0 0 1 232.79 52.23" fill="none" stroke="#707070" stroke-width="0.6"/>
<line x1="235.13" y1="89.59" x2="209.56" y2="77.94" stroke="#7a7a7a" stroke-width="0.7"/>
<line x1="246.97" y1="76.49" x2="232.79" y2="52.23" stroke="#7a7a7a" stroke-width="0.7"/>
<rect x="206.63" y="71.17" width="5.2" height="1.2" fill="#c4c4c4" transform="rotate(299.7,209.23,71.77)"/>
<rect x="214.28" y="60.61" width="5.2" height="1.2" fill="#c4c4c4" transform="rotate(312.1,216.88,61.21)"/>
<rect x="224.03" y="51.93" width="5.2" height="1.2" fill="#c4c4c4" transform="rotate(324.5,226.63,52.53)"/>
<path d="M201.84 72.5A66.6 66.6 0 0 1 229.41 43.45L231.06 46.42A63.2 63.2 0 0 0 204.9 73.99Z" fill="#5a2a6e"/>
<path d="M221.76 75.26A47.9 47.9 0 0 1 232.54 63.7L235.1 67.03A43.7 43.7 0 0 0 225.26 77.58Z" fill="#5a2a6e" stroke="#333" stroke-opacity="0.45" stroke-width="0.5"/>
<text transform="translate(222.83,67.91) rotate(311)" text-anchor="middle" dominant-baseline="central" font-size="6.6" fill="#4a4a4a" textLength="18.07" lengthAdjust="spacingAndGlyphs" >MBNL1</text>
<circle cx="261.7" cy="101.7" r="29.2" fill="none" stroke="#7a7a7a" stroke-width="0.8"/>
<path d="M265.04 73.3Q266.03 96.95 289.68 95.75" fill="none" stroke="#e0107a" stroke-width="1.1" stroke-opacity="0.75"/>
<path d="M265.36 73.34Q266.1 97.02 289.77 96.24" fill="none" stroke="#e0107a" stroke-width="1.1" stroke-opacity="0.75"/>
<path d="M266.44 73.5Q266.22 97.14 289.87 96.73" fill="none" stroke="#e0107a" stroke-width="1.1" stroke-opacity="0.75"/>
<path d="M265.08 73.3Q266.15 97.07 289.95 97.23" fill="none" stroke="#e0107a" stroke-width="1.1" stroke-opacity="0.75"/>
<path d="M265.21 73.32Q266.2 97.12 290.02 97.72" fill="none" stroke="#e0107a" stroke-width="1.1" stroke-opacity="0.75"/>
<path d="M265.45 73.35Q266.26 97.18 290.09 98.21" fill="none" stroke="#e0107a" stroke-width="1.1" stroke-opacity="0.75"/>
<path d="M264.25 73.21Q266.21 97.12 290.14 98.71" fill="none" stroke="#e0107a" stroke-width="1.1" stroke-opacity="0.75"/>
<path d="M265.22 73.32Q266.32 97.24 290.19 99.21" fill="none" stroke="#e0107a" stroke-width="1.1" stroke-opacity="0.75"/>
<path d="M265.57 73.36Q266.39 97.31 290.23 99.7" fill="none" stroke="#e0107a" stroke-width="1.1" stroke-opacity="0.75"/>
<path d="M266.05 73.43Q266.5 97.43 290.28 100.7" fill="none" stroke="#e8559a" stroke-width="1.1" stroke-opacity="0.75"/>
<path d="M263.98 73.19Q266.42 97.34 290.3 101.7" fill="none" stroke="#e8559a" stroke-width="1.1" stroke-opacity="0.75"/>
<path d="M264.6 73.25Q266.54 97.48 290.28 102.7" fill="none" stroke="#e8559a" stroke-width="1.1" stroke-opacity="0.75"/>
<path d="M263.97 73.19Q266.6 97.55 290.19 104.19" fill="none" stroke="#e8559a" stroke-width="1.1" stroke-opacity="0.75"/>
<path d="M266.1 73.44Q266.86 97.87 290.02 105.68" fill="none" stroke="#e8559a" stroke-width="1.1" stroke-opacity="0.75"/>
<path d="M265.76 73.39Q266.94 97.98 289.77 107.16" fill="none" stroke="#e8559a" stroke-width="1.1" stroke-opacity="0.75"/>
<path d="M263.82 73.18Q266.91 97.94 289.45 108.62" fill="none" stroke="#e8559a" stroke-width="1.1" stroke-opacity="0.75"/>
<path d="M266.61 73.53Q267.2 98.39 288.9 110.54" fill="none" stroke="#e8559a" stroke-width="1.1" stroke-opacity="0.75"/>
<path d="M264.19 73.21Q258.83 95.95 237.45 86.54" fill="none" stroke="#8a96a8" stroke-width="0.7" stroke-opacity="0.9"/>
<path d="M264.69 73.26Q257.16 97.16 233.26 104.69" fill="none" stroke="#8fd0ea" stroke-width="0.7" stroke-opacity="0.9"/>
<path d="M264.69 73.26Q256.64 97.74 234.82 111.48" fill="none" stroke="#f3b560" stroke-width="0.8" stroke-opacity="0.9"/>
<path d="M264.69 73.26Q256.41 98.06 236.22 114.68" fill="none" stroke="#f3b560" stroke-width="0.8" stroke-opacity="0.9"/>
<path d="M264.69 73.26Q256.19 98.39 237.99 117.69" fill="none" stroke="#f3b560" stroke-width="0.8" stroke-opacity="0.9"/>
<path d="M264.69 73.26Q255.98 98.78 240.45 120.84" fill="none" stroke="#f3b560" stroke-width="0.8" stroke-opacity="0.9"/>
<path d="M264.19 73.21Q268.05 100.75 272.41 128.22" fill="none" stroke="#5ab877" stroke-width="0.8" stroke-opacity="0.9"/>
<path d="M264.19 73.21Q268.1 101.14 269.1 129.33" fill="none" stroke="#5ab877" stroke-width="0.8" stroke-opacity="0.9"/>
<path d="M264.19 73.21Q268.12 101.53 265.68 130.02" fill="none" stroke="#5ab877" stroke-width="0.8" stroke-opacity="0.9"/>
<path d="M264.19 73.21Q255.42 100.36 252.39 128.74" fill="none" stroke="#5ab877" stroke-width="0.8" stroke-opacity="0.9"/>
<path d="M264.69 73.26Q265.1 95.57 284.24 84.09" fill="none" stroke="#f0b0c8" stroke-width="0.6" stroke-opacity="0.8"/>
<path d="M265.19 73.31Q267.68 99.35 283.61 120.08" fill="none" stroke="#f2b8cc" stroke-width="0.6" stroke-opacity="0.7"/>
<path d="M264.19 73.21Q260.39 91.71 251.92 74.82" fill="none" stroke="#ecc8d4" stroke-width="0.5" stroke-opacity="0.7"/>
<path d="M264.19 73.21Q261.01 90.48 255.75 73.72" fill="none" stroke="#ecc8d4" stroke-width="0.5" stroke-opacity="0.7"/>
<path d="M264.19 73.21Q264.2 90.44 271.48 74.82" fill="none" stroke="#ecc8d4" stroke-width="0.5" stroke-opacity="0.7"/>
<path d="M264.19 73.21Q264.64 91.76 275.13 76.45" fill="none" stroke="#ecc8d4" stroke-width="0.5" stroke-opacity="0.7"/>
<text transform="translate(242.87,26.73) rotate(345.9)" text-anchor="middle" dominant-baseline="central" font-size="7" fill="#333" >3</text>
<text transform="translate(335.05,77.3) rotate(71.6)" text-anchor="middle" dominant-baseline="central" font-size="7" fill="#333" >8</text>
<text transform="translate(324.32,147.03) rotate(-54.1)" text-anchor="middle" dominant-baseline="central" font-size="7" fill="#333" >9</text>
<text transform="translate(281.58,176.4) rotate(-14.9)" text-anchor="middle" dominant-baseline="central" font-size="7" fill="#333" >14</text>
<text transform="translate(233.24,173.57) rotate(21.6)" text-anchor="middle" dominant-baseline="central" font-size="7" fill="#333" >16</text>
<text transform="translate(196,142.43) rotate(58.2)" text-anchor="middle" dominant-baseline="central" font-size="7" fill="#333" >22</text>
<text transform="translate(184.8,93.89) rotate(275.8)" text-anchor="middle" dominant-baseline="central" font-size="7" fill="#333" >2</text>
<path d="M229.51 43.63A66.4 66.4 0 0 1 275.51 36.75" fill="none" stroke="#111" stroke-width="1"/>
<path d="M254.78 35.86L255.94 35.92L257.11 35.99L258.26 36.09L259.41 36.21L260.56 36.34L261.7 36.5L262.83 36.68L263.96 36.87L265.09 37.09L266.2 37.32L267.31 37.58L268.41 37.85L269.5 38.14L270.59 38.45L271.66 38.78L272.73 39.13L273.79 39.5L274.84 39.88L275.92 40.12L276.99 40.38L278.06 40.65L279.12 40.95L280.18 41.26L281.23 41.59L282.28 41.94L283.32 42.31L284.35 42.7L285.38 43.1L286.39 43.52L287.41 43.96L288.41 44.42L289.41 44.9L290.39 45.39L291.37 45.9L292.34 46.42L293.3 46.97L294.25 47.53L295.19 48.1L296.12 48.7L297.04 49.3L297.95 49.93L298.85 50.57L299.73 51.23L300.61 51.9L301.47 52.58L302.32 53.29L304.51 50.68L303.61 49.94L302.7 49.22L301.78 48.51L300.85 47.82L299.9 47.14L298.94 46.49L297.97 45.84L296.99 45.22L296 44.61L295 44.02L293.99 43.45L292.97 42.9L291.94 42.36L290.9 41.84L289.85 41.34L288.79 40.86L287.72 40.39L286.65 39.95L285.57 39.52L284.48 39.12L283.38 38.73L282.28 38.36L281.17 38.01L280.06 37.68L278.94 37.37L277.81 37.08L276.68 36.81L275.55 36.56L274.41 36.32L273.26 36.11L272.12 35.92L270.97 35.75L269.82 35.6L268.66 35.46L267.5 35.35L266.35 35.26L265.19 35.19L264.02 35.14L262.86 35.11L261.7 35.1L260.54 35.11L259.38 35.14L258.21 35.19L257.05 35.26L255.9 35.35L254.74 35.46Z" fill="#bdbdbd"/>
<path d="M438.6 63.52A38.6 38.6 0 0 1 441.27 63.83L440.21 70.85A31.5 31.5 0 0 0 438.03 70.6Z" fill="#f2c4cf" stroke="#d06078" stroke-width="0.5"/>
<path d="M462.59 73.95A39 39 0 0 1 472.59 114.05L464.41 111.39A30.4 30.4 0 0 0 456.62 80.13Z" fill="#f6e8eb"/>
<line x1="468.85" y1="111.6" x2="470.34" y2="112.03" stroke="#6e3440" stroke-width="0.65" stroke-opacity="0.45"/>
<line x1="466.53" y1="105.15" x2="468.44" y2="105.34" stroke="#6e3440" stroke-width="0.65" stroke-opacity="0.45"/>
<line x1="470.9" y1="108.64" x2="471.88" y2="108.82" stroke="#6e3440" stroke-width="0.65" stroke-opacity="0.45"/>
<line x1="470.06" y1="100.44" x2="471.07" y2="100.4" stroke="#6e3440" stroke-width="0.65" stroke-opacity="0.45"/>
<line x1="470.62" y1="94.99" x2="471.57" y2="94.79" stroke="#6e3440" stroke-width="0.65" stroke-opacity="0.45"/>
<line x1="468.05" y1="94.66" x2="469.27" y2="94.39" stroke="#6e3440" stroke-width="0.65" stroke-opacity="0.45"/>
<line x1="468.31" y1="110.7" x2="469.83" y2="111.1" stroke="#6e3440" stroke-width="0.65" stroke-opacity="0.45"/>
<line x1="463.19" y1="80.14" x2="464.36" y2="79.21" stroke="#6e3440" stroke-width="0.65" stroke-opacity="0.45"/>
<line x1="467.52" y1="110.69" x2="468.77" y2="111.03" stroke="#6e3440" stroke-width="0.65" stroke-opacity="0.45"/>
<line x1="468.89" y1="95" x2="469.69" y2="94.84" stroke="#6e3440" stroke-width="0.65" stroke-opacity="0.45"/>
<line x1="463" y1="80.46" x2="463.96" y2="79.71" stroke="#6e3440" stroke-width="0.65" stroke-opacity="0.45"/>
<line x1="466.53" y1="85.81" x2="467.38" y2="85.37" stroke="#6e3440" stroke-width="0.65" stroke-opacity="0.45"/>
<line x1="459.74" y1="81.39" x2="460.89" y2="80.41" stroke="#6e3440" stroke-width="0.65" stroke-opacity="0.45"/>
<line x1="468.53" y1="96.47" x2="470.08" y2="96.21" stroke="#6e3440" stroke-width="0.65" stroke-opacity="0.45"/>
<line x1="463.84" y1="83.51" x2="465.03" y2="82.73" stroke="#6e3440" stroke-width="0.65" stroke-opacity="0.45"/>
<line x1="468.07" y1="98.13" x2="469.36" y2="97.97" stroke="#6e3440" stroke-width="0.65" stroke-opacity="0.45"/>
<line x1="466.25" y1="86.92" x2="467.47" y2="86.32" stroke="#6e3440" stroke-width="0.65" stroke-opacity="0.45"/>
<line x1="468.18" y1="89.14" x2="469.56" y2="88.6" stroke="#6e3440" stroke-width="0.65" stroke-opacity="0.45"/>
<line x1="458.49" y1="78.82" x2="459.16" y2="78.14" stroke="#6e3440" stroke-width="0.65" stroke-opacity="0.45"/>
<line x1="471.17" y1="95.47" x2="472.49" y2="95.23" stroke="#6e3440" stroke-width="0.65" stroke-opacity="0.45"/>
<line x1="466.72" y1="85.56" x2="468.28" y2="84.74" stroke="#6e3440" stroke-width="0.65" stroke-opacity="0.45"/>
<line x1="463.15" y1="82.02" x2="463.72" y2="81.61" stroke="#6e3440" stroke-width="0.65" stroke-opacity="0.45"/>
<line x1="468.78" y1="107.73" x2="469.94" y2="107.93" stroke="#6e3440" stroke-width="0.65" stroke-opacity="0.45"/>
<line x1="468.22" y1="91.47" x2="469.84" y2="90.94" stroke="#6e3440" stroke-width="0.65" stroke-opacity="0.45"/>
<line x1="462.47" y1="80.15" x2="463.8" y2="79.08" stroke="#6e3440" stroke-width="0.65" stroke-opacity="0.45"/>
<line x1="465.75" y1="79.93" x2="466.65" y2="79.28" stroke="#6e3440" stroke-width="0.65" stroke-opacity="0.45"/>
<line x1="466.13" y1="88.72" x2="467.85" y2="87.97" stroke="#6e3440" stroke-width="0.65" stroke-opacity="0.45"/>
<line x1="467.88" y1="105.72" x2="469.25" y2="105.88" stroke="#6e3440" stroke-width="0.65" stroke-opacity="0.45"/>
<line x1="469.6" y1="102.76" x2="470.91" y2="102.79" stroke="#6e3440" stroke-width="0.65" stroke-opacity="0.45"/>
<line x1="467.42" y1="104.36" x2="469.08" y2="104.49" stroke="#6e3440" stroke-width="0.65" stroke-opacity="0.45"/>
<line x1="470.67" y1="109.82" x2="471.27" y2="109.96" stroke="#6e3440" stroke-width="0.65" stroke-opacity="0.45"/>
<line x1="471.54" y1="103.89" x2="473.01" y2="103.97" stroke="#6e3440" stroke-width="0.65" stroke-opacity="0.45"/>
<line x1="470.26" y1="93.25" x2="471.45" y2="92.95" stroke="#6e3440" stroke-width="0.65" stroke-opacity="0.45"/>
<line x1="469.22" y1="104.45" x2="471.12" y2="104.59" stroke="#6e3440" stroke-width="0.65" stroke-opacity="0.45"/>
<line x1="468.41" y1="97.88" x2="469.68" y2="97.72" stroke="#6e3440" stroke-width="0.65" stroke-opacity="0.45"/>
<line x1="470.68" y1="102.17" x2="471.72" y2="102.17" stroke="#6e3440" stroke-width="0.65" stroke-opacity="0.45"/>
<line x1="466.31" y1="90.18" x2="467.32" y2="89.79" stroke="#6e3440" stroke-width="0.65" stroke-opacity="0.45"/>
<line x1="469.17" y1="104.57" x2="471.03" y2="104.72" stroke="#6e3440" stroke-width="0.65" stroke-opacity="0.45"/>
<line x1="467.92" y1="93.9" x2="468.95" y2="93.64" stroke="#6e3440" stroke-width="0.65" stroke-opacity="0.45"/>
<line x1="463.14" y1="81.38" x2="464.32" y2="80.51" stroke="#6e3440" stroke-width="0.65" stroke-opacity="0.45"/>
<line x1="471.76" y1="96.4" x2="472.83" y2="96.23" stroke="#6e3440" stroke-width="0.65" stroke-opacity="0.45"/>
<line x1="470.89" y1="106.96" x2="472.73" y2="107.22" stroke="#6e3440" stroke-width="0.65" stroke-opacity="0.45"/>
<line x1="468.85" y1="111.16" x2="470.75" y2="111.68" stroke="#6e3440" stroke-width="0.65" stroke-opacity="0.45"/>
<line x1="460.47" y1="76.75" x2="460.95" y2="76.27" stroke="#6e3440" stroke-width="0.65" stroke-opacity="0.45"/>
<line x1="466.32" y1="96.65" x2="468.05" y2="96.35" stroke="#6e3440" stroke-width="0.65" stroke-opacity="0.45"/>
<line x1="469.06" y1="95.15" x2="471.11" y2="94.73" stroke="#6e3440" stroke-width="0.65" stroke-opacity="0.45"/>
<line x1="466.92" y1="94.81" x2="468.08" y2="94.55" stroke="#6e3440" stroke-width="0.65" stroke-opacity="0.45"/>
<line x1="466.76" y1="88.66" x2="468.13" y2="88.08" stroke="#6e3440" stroke-width="0.65" stroke-opacity="0.45"/>
<line x1="468.55" y1="87.61" x2="469.82" y2="87.05" stroke="#6e3440" stroke-width="0.65" stroke-opacity="0.45"/>
<line x1="461.34" y1="80.57" x2="462.24" y2="79.83" stroke="#6e3440" stroke-width="0.65" stroke-opacity="0.45"/>
<line x1="466.09" y1="90.66" x2="467.89" y2="89.99" stroke="#6e3440" stroke-width="0.65" stroke-opacity="0.45"/>
<line x1="467.81" y1="111.1" x2="469.09" y2="111.46" stroke="#6e3440" stroke-width="0.65" stroke-opacity="0.45"/>
<line x1="465.13" y1="92.47" x2="466.2" y2="92.13" stroke="#6e3440" stroke-width="0.65" stroke-opacity="0.45"/>
<line x1="465.96" y1="95.49" x2="467.74" y2="95.11" stroke="#6e3440" stroke-width="0.65" stroke-opacity="0.45"/>
<line x1="462.27" y1="83.21" x2="463.77" y2="82.15" stroke="#6e3440" stroke-width="0.65" stroke-opacity="0.45"/>
<line x1="471.99" y1="93.45" x2="472.73" y2="93.27" stroke="#6e3440" stroke-width="0.65" stroke-opacity="0.45"/>
<line x1="468.17" y1="108.5" x2="470.22" y2="108.9" stroke="#6e3440" stroke-width="0.65" stroke-opacity="0.45"/>
<line x1="466.89" y1="108.01" x2="468.1" y2="108.24" stroke="#6e3440" stroke-width="0.65" stroke-opacity="0.45"/>
<line x1="462.86" y1="82.13" x2="463.96" y2="81.33" stroke="#6e3440" stroke-width="0.65" stroke-opacity="0.45"/>
<line x1="465.12" y1="82.05" x2="465.84" y2="81.56" stroke="#6e3440" stroke-width="0.65" stroke-opacity="0.45"/>
<line x1="468.57" y1="98.71" x2="470.65" y2="98.51" stroke="#6e3440" stroke-width="0.65" stroke-opacity="0.45"/>
<line x1="468.83" y1="98.93" x2="469.49" y2="98.87" stroke="#6e3440" stroke-width="0.65" stroke-opacity="0.45"/>
<line x1="467.95" y1="90.4" x2="469.49" y2="89.85" stroke="#6e3440" stroke-width="0.65" stroke-opacity="0.45"/>
<line x1="458.61" y1="78.28" x2="459.35" y2="77.52" stroke="#6e3440" stroke-width="0.65" stroke-opacity="0.45"/>
<line x1="467.74" y1="106.47" x2="468.62" y2="106.6" stroke="#6e3440" stroke-width="0.65" stroke-opacity="0.45"/>
<line x1="467.7" y1="93.89" x2="469.09" y2="93.54" stroke="#6e3440" stroke-width="0.65" stroke-opacity="0.45"/>
<line x1="464.57" y1="85.9" x2="466.41" y2="84.89" stroke="#6e3440" stroke-width="0.65" stroke-opacity="0.45"/>
<line x1="468" y1="96.72" x2="469.2" y2="96.52" stroke="#6e3440" stroke-width="0.65" stroke-opacity="0.45"/>
<line x1="463.32" y1="80.09" x2="463.92" y2="79.62" stroke="#6e3440" stroke-width="0.65" stroke-opacity="0.45"/>
<line x1="463.26" y1="79.04" x2="463.92" y2="78.49" stroke="#6e3440" stroke-width="0.65" stroke-opacity="0.45"/>
<line x1="469.66" y1="94.39" x2="471.42" y2="94" stroke="#6e3440" stroke-width="0.65" stroke-opacity="0.45"/>
<line x1="459.71" y1="80.18" x2="460.17" y2="79.77" stroke="#6e3440" stroke-width="0.65" stroke-opacity="0.45"/>
<line x1="468.73" y1="103.93" x2="469.86" y2="103.99" stroke="#6e3440" stroke-width="0.65" stroke-opacity="0.45"/>
<line x1="464.97" y1="81.24" x2="465.79" y2="80.67" stroke="#6e3440" stroke-width="0.65" stroke-opacity="0.45"/>
<line x1="462.93" y1="79.28" x2="463.79" y2="78.57" stroke="#6e3440" stroke-width="0.65" stroke-opacity="0.45"/>
<line x1="467.24" y1="92.17" x2="468.36" y2="91.82" stroke="#6e3440" stroke-width="0.65" stroke-opacity="0.45"/>
<line x1="461.69" y1="78" x2="463.2" y2="76.62" stroke="#6e3440" stroke-width="0.65" stroke-opacity="0.45"/>
<line x1="467.01" y1="91.84" x2="468.47" y2="91.37" stroke="#6e3440" stroke-width="0.65" stroke-opacity="0.45"/>
<line x1="467.61" y1="83.43" x2="469.09" y2="82.57" stroke="#6e3440" stroke-width="0.65" stroke-opacity="0.45"/>
<line x1="467.01" y1="86.73" x2="468.77" y2="85.88" stroke="#6e3440" stroke-width="0.65" stroke-opacity="0.45"/>
<line x1="468.92" y1="105.64" x2="470.95" y2="105.86" stroke="#6e3440" stroke-width="0.65" stroke-opacity="0.45"/>
<line x1="470.26" y1="93.15" x2="472.22" y2="92.65" stroke="#6e3440" stroke-width="0.65" stroke-opacity="0.45"/>
<line x1="463.61" y1="85.47" x2="464.41" y2="85" stroke="#6e3440" stroke-width="0.65" stroke-opacity="0.45"/>
<path d="M470.95 117.78A38.8 38.8 0 0 1 458.85 132.99L453.67 126.12A30.2 30.2 0 0 0 463.09 114.28Z" fill="#faeef1"/>
<line x1="464.45" y1="120.77" x2="466.92" y2="122.38" stroke="#c0506a" stroke-width="0.8" stroke-opacity="0.38"/>
<line x1="457.31" y1="125.38" x2="458.69" y2="126.86" stroke="#c0506a" stroke-width="0.8" stroke-opacity="0.38"/>
<line x1="461.7" y1="119.93" x2="465.34" y2="122.43" stroke="#c0506a" stroke-width="0.8" stroke-opacity="0.38"/>
<line x1="463.56" y1="119.83" x2="465.12" y2="120.82" stroke="#c0506a" stroke-width="0.8" stroke-opacity="0.38"/>
<line x1="460.62" y1="122.69" x2="462.71" y2="124.41" stroke="#c0506a" stroke-width="0.8" stroke-opacity="0.38"/>
<line x1="463.83" y1="115.76" x2="467.41" y2="117.49" stroke="#c0506a" stroke-width="0.8" stroke-opacity="0.38"/>
<line x1="461.95" y1="119.97" x2="463.67" y2="121.13" stroke="#c0506a" stroke-width="0.8" stroke-opacity="0.38"/>
<line x1="462.53" y1="119.04" x2="463.89" y2="119.89" stroke="#c0506a" stroke-width="0.8" stroke-opacity="0.38"/>
<line x1="459.07" y1="124.18" x2="460.5" y2="125.53" stroke="#c0506a" stroke-width="0.8" stroke-opacity="0.38"/>
<line x1="457.89" y1="123.98" x2="459.53" y2="125.59" stroke="#c0506a" stroke-width="0.8" stroke-opacity="0.38"/>
<line x1="456.5" y1="125.5" x2="458.38" y2="127.61" stroke="#c0506a" stroke-width="0.8" stroke-opacity="0.38"/>
<line x1="458.28" y1="127.53" x2="459.6" y2="129.01" stroke="#c0506a" stroke-width="0.8" stroke-opacity="0.38"/>
<line x1="463.52" y1="121.07" x2="465.69" y2="122.55" stroke="#c0506a" stroke-width="0.8" stroke-opacity="0.38"/>
<line x1="455.19" y1="127.01" x2="457.88" y2="130.43" stroke="#c0506a" stroke-width="0.8" stroke-opacity="0.38"/>
<line x1="460.42" y1="121.92" x2="462.66" y2="123.71" stroke="#c0506a" stroke-width="0.8" stroke-opacity="0.38"/>
<line x1="465.42" y1="117.77" x2="467.44" y2="118.84" stroke="#c0506a" stroke-width="0.8" stroke-opacity="0.38"/>
<line x1="456.9" y1="127.58" x2="458.57" y2="129.58" stroke="#c0506a" stroke-width="0.8" stroke-opacity="0.38"/>
<line x1="464.11" y1="119.29" x2="465.94" y2="120.4" stroke="#c0506a" stroke-width="0.8" stroke-opacity="0.38"/>
<line x1="456.04" y1="125.87" x2="458.02" y2="128.18" stroke="#c0506a" stroke-width="0.8" stroke-opacity="0.38"/>
<line x1="460.17" y1="122.51" x2="463.1" y2="124.95" stroke="#c0506a" stroke-width="0.8" stroke-opacity="0.38"/>
<path d="M462.45 129.91A38.8 38.8 0 0 1 457.75 133.78L452.82 126.74A30.2 30.2 0 0 0 456.48 123.72Z" fill="#f7e3e7"/>
<line x1="457.03" y1="127.18" x2="459.48" y2="130.04" stroke="#b02545" stroke-width="1.01" stroke-opacity="0.6"/>
<line x1="455.53" y1="125.46" x2="456.96" y2="127.14" stroke="#b02545" stroke-width="1.55" stroke-opacity="0.6"/>
<line x1="457.3" y1="126.98" x2="458.57" y2="128.44" stroke="#b02545" stroke-width="1.26" stroke-opacity="0.6"/>
<line x1="456.71" y1="126.62" x2="458.47" y2="128.66" stroke="#b02545" stroke-width="0.77" stroke-opacity="0.6"/>
<line x1="456.19" y1="125.63" x2="457.51" y2="127.14" stroke="#b02545" stroke-width="1.42" stroke-opacity="0.6"/>
<line x1="456.76" y1="126.07" x2="460.16" y2="129.92" stroke="#b02545" stroke-width="1.47" stroke-opacity="0.6"/>
<line x1="455.48" y1="129.44" x2="456.67" y2="131.08" stroke="#b02545" stroke-width="0.98" stroke-opacity="0.6"/>
<line x1="458.46" y1="126" x2="461.34" y2="129" stroke="#b02545" stroke-width="1.05" stroke-opacity="0.6"/>
<path d="M454.9 135.6A38.8 38.8 0 0 1 433.47 140.75L433.92 132.16A30.2 30.2 0 0 0 450.6 128.15Z" fill="#f7e3e7"/>
<line x1="444.85" y1="133.79" x2="446.06" y2="137.91" stroke="#b02545" stroke-width="0.95" stroke-opacity="0.6"/>
<line x1="436.65" y1="133.89" x2="436.79" y2="137.9" stroke="#b02545" stroke-width="0.88" stroke-opacity="0.6"/>
<line x1="450.58" y1="132.64" x2="452.53" y2="136.62" stroke="#b02545" stroke-width="1.41" stroke-opacity="0.6"/>
<line x1="450.21" y1="128.9" x2="451.24" y2="130.79" stroke="#b02545" stroke-width="0.9" stroke-opacity="0.6"/>
<line x1="446.45" y1="132.09" x2="447.02" y2="133.65" stroke="#b02545" stroke-width="1.01" stroke-opacity="0.6"/>
<line x1="440.35" y1="132.84" x2="441.1" y2="137.64" stroke="#b02545" stroke-width="1.27" stroke-opacity="0.6"/>
<line x1="438.99" y1="133.33" x2="439.35" y2="136.55" stroke="#b02545" stroke-width="1.38" stroke-opacity="0.6"/>
<line x1="445.17" y1="130.93" x2="446.7" y2="135.52" stroke="#b02545" stroke-width="1.48" stroke-opacity="0.6"/>
<line x1="446.27" y1="130.72" x2="447.99" y2="135.32" stroke="#b02545" stroke-width="1.31" stroke-opacity="0.6"/>
<line x1="450.49" y1="129.68" x2="451.42" y2="131.39" stroke="#b02545" stroke-width="1.49" stroke-opacity="0.6"/>
<line x1="448.88" y1="133.43" x2="450.62" y2="137.51" stroke="#b02545" stroke-width="0.79" stroke-opacity="0.6"/>
<line x1="439.45" y1="133.83" x2="440" y2="138.29" stroke="#b02545" stroke-width="1.53" stroke-opacity="0.6"/>
<line x1="446.42" y1="130.86" x2="448.29" y2="135.81" stroke="#b02545" stroke-width="1.12" stroke-opacity="0.6"/>
<line x1="435.1" y1="135.26" x2="435.04" y2="139.72" stroke="#b02545" stroke-width="1.53" stroke-opacity="0.6"/>
<line x1="440.71" y1="133.89" x2="440.98" y2="135.58" stroke="#b02545" stroke-width="1.4" stroke-opacity="0.6"/>
<line x1="444.4" y1="133.31" x2="445.82" y2="138.32" stroke="#b02545" stroke-width="0.83" stroke-opacity="0.6"/>
<line x1="438.1" y1="132.56" x2="438.46" y2="136.86" stroke="#b02545" stroke-width="1.51" stroke-opacity="0.6"/>
<line x1="447.42" y1="132.44" x2="449.38" y2="137.44" stroke="#b02545" stroke-width="1.34" stroke-opacity="0.6"/>
<line x1="442.08" y1="132.8" x2="442.44" y2="134.5" stroke="#b02545" stroke-width="1.06" stroke-opacity="0.6"/>
<line x1="444.35" y1="132.03" x2="445.12" y2="134.66" stroke="#b02545" stroke-width="0.84" stroke-opacity="0.6"/>
<line x1="439.35" y1="134.96" x2="439.64" y2="137.39" stroke="#b02545" stroke-width="0.94" stroke-opacity="0.6"/>
<line x1="442.76" y1="133.45" x2="443.94" y2="138.56" stroke="#b02545" stroke-width="1.05" stroke-opacity="0.6"/>
<line x1="447.21" y1="133.96" x2="447.92" y2="135.9" stroke="#b02545" stroke-width="1.26" stroke-opacity="0.6"/>
<line x1="446.49" y1="133.92" x2="447.69" y2="137.42" stroke="#b02545" stroke-width="1.46" stroke-opacity="0.6"/>
<line x1="449.21" y1="132.2" x2="450.82" y2="135.75" stroke="#b02545" stroke-width="1.16" stroke-opacity="0.6"/>
<line x1="438.28" y1="135.71" x2="438.44" y2="137.66" stroke="#b02545" stroke-width="0.99" stroke-opacity="0.6"/>
<line x1="445.23" y1="131.77" x2="445.78" y2="133.43" stroke="#b02545" stroke-width="0.98" stroke-opacity="0.6"/>
<line x1="448.78" y1="132.55" x2="450.09" y2="135.56" stroke="#b02545" stroke-width="0.81" stroke-opacity="0.6"/>
<line x1="446.2" y1="132.56" x2="447.17" y2="135.34" stroke="#b02545" stroke-width="0.87" stroke-opacity="0.6"/>
<path d="M407.59 128.95A38.8 38.8 0 0 1 397.55 110.07L405.96 108.28A30.2 30.2 0 0 0 413.78 122.98Z" fill="#faeef1"/>
<line x1="412.32" y1="122.65" x2="408.98" y2="125.63" stroke="#c0506a" stroke-width="0.8" stroke-opacity="0.38"/>
<line x1="406.05" y1="112.71" x2="402.62" y2="113.96" stroke="#c0506a" stroke-width="0.8" stroke-opacity="0.38"/>
<line x1="403.05" y1="109.27" x2="401.27" y2="109.67" stroke="#c0506a" stroke-width="0.8" stroke-opacity="0.38"/>
<line x1="406.69" y1="117.55" x2="404.87" y2="118.53" stroke="#c0506a" stroke-width="0.8" stroke-opacity="0.38"/>
<line x1="407.76" y1="115.91" x2="403.95" y2="117.81" stroke="#c0506a" stroke-width="0.8" stroke-opacity="0.38"/>
<line x1="404.74" y1="115.3" x2="400.79" y2="117" stroke="#c0506a" stroke-width="0.8" stroke-opacity="0.38"/>
<line x1="406.06" y1="114.57" x2="404.01" y2="115.44" stroke="#c0506a" stroke-width="0.8" stroke-opacity="0.38"/>
<line x1="411.52" y1="121.82" x2="408.57" y2="124.25" stroke="#c0506a" stroke-width="0.8" stroke-opacity="0.38"/>
<line x1="404.74" y1="111.48" x2="402.78" y2="112.09" stroke="#c0506a" stroke-width="0.8" stroke-opacity="0.38"/>
<line x1="403.99" y1="115.75" x2="400.12" y2="117.44" stroke="#c0506a" stroke-width="0.8" stroke-opacity="0.38"/>
<line x1="408.82" y1="123.3" x2="405.7" y2="125.79" stroke="#c0506a" stroke-width="0.8" stroke-opacity="0.38"/>
<line x1="405.19" y1="113.18" x2="403.26" y2="113.89" stroke="#c0506a" stroke-width="0.8" stroke-opacity="0.38"/>
<line x1="404.73" y1="111.76" x2="402.24" y2="112.54" stroke="#c0506a" stroke-width="0.8" stroke-opacity="0.38"/>
<line x1="406.4" y1="116.42" x2="402.82" y2="118.2" stroke="#c0506a" stroke-width="0.8" stroke-opacity="0.38"/>
<line x1="410.4" y1="120.47" x2="407.82" y2="122.36" stroke="#c0506a" stroke-width="0.8" stroke-opacity="0.38"/>
<line x1="404.16" y1="115.89" x2="400.85" y2="117.35" stroke="#c0506a" stroke-width="0.8" stroke-opacity="0.38"/>
<line x1="401.91" y1="111.02" x2="399.03" y2="111.8" stroke="#c0506a" stroke-width="0.8" stroke-opacity="0.38"/>
<line x1="407.58" y1="116.86" x2="405.46" y2="117.98" stroke="#c0506a" stroke-width="0.8" stroke-opacity="0.38"/>
<line x1="407.21" y1="115.44" x2="403.99" y2="116.97" stroke="#c0506a" stroke-width="0.8" stroke-opacity="0.38"/>
<line x1="409.95" y1="122.52" x2="406.51" y2="125.28" stroke="#c0506a" stroke-width="0.8" stroke-opacity="0.38"/>
<line x1="412.03" y1="122.5" x2="409.91" y2="124.35" stroke="#c0506a" stroke-width="0.8" stroke-opacity="0.38"/>
<line x1="408.75" y1="122.82" x2="407.56" y2="123.74" stroke="#c0506a" stroke-width="0.8" stroke-opacity="0.38"/>
<line x1="403.86" y1="111.59" x2="399.41" y2="112.94" stroke="#a51d3d" stroke-width="1" stroke-opacity="0.7"/>
<line x1="406.94" y1="114.92" x2="403.16" y2="116.63" stroke="#a51d3d" stroke-width="1" stroke-opacity="0.7"/>
<line x1="406.2" y1="114.28" x2="403.57" y2="115.38" stroke="#a51d3d" stroke-width="1" stroke-opacity="0.7"/>
<line x1="405.84" y1="115.27" x2="401.45" y2="117.23" stroke="#a51d3d" stroke-width="1" stroke-opacity="0.7"/>
<line x1="405.67" y1="110.4" x2="403.08" y2="111.13" stroke="#a51d3d" stroke-width="1" stroke-opacity="0.7"/>
<line x1="406.1" y1="115.1" x2="403.46" y2="116.28" stroke="#a51d3d" stroke-width="1" stroke-opacity="0.7"/>
<path d="M397.08 107.4A38.8 38.8 0 0 1 399.28 88.1L407.31 91.18A30.2 30.2 0 0 0 405.59 106.2Z" fill="#faeef1"/>
<line x1="404.19" y1="103.28" x2="401.72" y2="103.38" stroke="#c0506a" stroke-width="0.8" stroke-opacity="0.38"/>
<line x1="400.77" y1="98.75" x2="397.07" y2="98.4" stroke="#c0506a" stroke-width="0.8" stroke-opacity="0.38"/>
<line x1="402.14" y1="91.74" x2="398.61" y2="90.65" stroke="#c0506a" stroke-width="0.8" stroke-opacity="0.38"/>
<line x1="401.77" y1="96.07" x2="400.12" y2="95.78" stroke="#c0506a" stroke-width="0.8" stroke-opacity="0.38"/>
<line x1="402.75" y1="95.27" x2="400.41" y2="94.79" stroke="#c0506a" stroke-width="0.8" stroke-opacity="0.38"/>
<line x1="401.08" y1="96.82" x2="398.17" y2="96.38" stroke="#c0506a" stroke-width="0.8" stroke-opacity="0.38"/>
<line x1="403.87" y1="95.98" x2="401.38" y2="95.51" stroke="#c0506a" stroke-width="0.8" stroke-opacity="0.38"/>
<line x1="405.86" y1="92.56" x2="403.89" y2="91.93" stroke="#c0506a" stroke-width="0.8" stroke-opacity="0.38"/>
<line x1="403.39" y1="95.36" x2="401.67" y2="95.01" stroke="#c0506a" stroke-width="0.8" stroke-opacity="0.38"/>
<line x1="403.63" y1="95.72" x2="400.44" y2="95.09" stroke="#c0506a" stroke-width="0.8" stroke-opacity="0.38"/>
<line x1="402.46" y1="99.65" x2="399.28" y2="99.42" stroke="#c0506a" stroke-width="0.8" stroke-opacity="0.38"/>
<line x1="404.1" y1="100.08" x2="402.06" y2="99.96" stroke="#c0506a" stroke-width="0.8" stroke-opacity="0.38"/>
<line x1="403.9" y1="91.85" x2="402.15" y2="91.29" stroke="#c0506a" stroke-width="0.8" stroke-opacity="0.38"/>
<line x1="404.89" y1="92.64" x2="403.18" y2="92.12" stroke="#c0506a" stroke-width="0.8" stroke-opacity="0.38"/>
<line x1="403.76" y1="97.88" x2="400.82" y2="97.5" stroke="#c0506a" stroke-width="0.8" stroke-opacity="0.38"/>
<line x1="403.91" y1="97.52" x2="400.72" y2="97.07" stroke="#c0506a" stroke-width="0.8" stroke-opacity="0.38"/>
<line x1="402.56" y1="104.72" x2="399.31" y2="104.99" stroke="#c0506a" stroke-width="0.8" stroke-opacity="0.38"/>
<line x1="403.03" y1="105.23" x2="401.32" y2="105.4" stroke="#c0506a" stroke-width="0.8" stroke-opacity="0.38"/>
<line x1="401.16" y1="99.15" x2="398.02" y2="98.89" stroke="#c0506a" stroke-width="0.8" stroke-opacity="0.38"/>
<line x1="402.31" y1="94.51" x2="400.51" y2="94.1" stroke="#c0506a" stroke-width="0.8" stroke-opacity="0.38"/>
<path d="M416.16 66.08A40.8 40.8 0 0 1 461.45 70.52" fill="none" stroke="#9c9c9c" stroke-width="2.4"/>
<path d="M408.81 52.43A56.3 56.3 0 0 1 471.31 58.56" fill="none" stroke="#808080" stroke-width="2.4" stroke-dasharray="0.5 0.3"/>
<path d="M408.33 51.55A57.3 57.3 0 0 1 471.95 57.79" fill="none" stroke="#707070" stroke-width="0.6"/>
<line x1="421.66" y1="76.29" x2="408.33" y2="51.55" stroke="#7a7a7a" stroke-width="0.7"/>
<line x1="454.07" y1="79.47" x2="471.95" y2="57.79" stroke="#7a7a7a" stroke-width="0.7"/>
<rect x="414.57" y="43.85" width="5.2" height="1.2" fill="#c4c4c4" transform="rotate(-17.67,417.17,44.45)"/>
<rect x="438.79" y="41.29" width="5.2" height="1.2" fill="#c4c4c4" transform="rotate(5.6,441.39,41.89)"/>
<rect x="462.06" y="48.5" width="5.2" height="1.2" fill="#c4c4c4" transform="rotate(28.87,464.66,49.1)"/>
<path d="M370.36 67.95A73.5 73.5 0 0 1 477.13 41.43L475.09 44.39A69.9 69.9 0 0 0 373.55 69.62Z" fill="#fff" stroke="#4a4a4a" stroke-width="0.7"/>
<path d="M376.2 58.92A73.3 73.3 0 0 1 377.74 56.87L380.26 58.84A70.1 70.1 0 0 0 378.79 60.8Z" fill="#000"/>
<path d="M411.88 32.61A73.3 73.3 0 0 1 414.8 31.68L415.71 34.75A70.1 70.1 0 0 0 412.91 35.64Z" fill="#b3122e"/>
<path d="M446.08 29.47A73.3 73.3 0 0 1 448.86 29.93L448.27 33.07A70.1 70.1 0 0 0 445.62 32.63Z" fill="#000"/>
<path d="M456.93 31.9A73.3 73.3 0 0 1 459.85 32.86L458.78 35.88A70.1 70.1 0 0 0 456 34.96Z" fill="#000"/>
<path d="M468.78 36.69A73.3 73.3 0 0 1 469.91 37.28L468.41 40.11A70.1 70.1 0 0 0 467.32 39.54Z" fill="#555"/>
<path d="M425.3 29.41A73.3 73.3 0 0 1 426.57 29.25L426.96 32.42A70.1 70.1 0 0 0 425.74 32.58Z" fill="#777"/>
<path d="M425.22 56.75A46.4 46.4 0 0 1 427.6 56.28L427.98 58.44A44.2 44.2 0 0 0 425.71 58.9Z" fill="#e6e6e6" stroke="#777" stroke-width="0.6"/>
<text transform="translate(421.74,52.37) rotate(344.5)" text-anchor="middle" dominant-baseline="central" font-size="6.6" fill="#4a4a4a" textLength="18.07" lengthAdjust="spacingAndGlyphs" >EIF4A2</text>
<path d="M423.49 56.56A47 47 0 0 1 424.29 56.36L425.1 59.66A43.6 43.6 0 0 0 424.36 59.85Z" fill="#111"/>
<path d="M438.45 55.09A47 47 0 0 1 439.76 55.19L439.45 58.58A43.6 43.6 0 0 0 438.24 58.49Z" fill="#111"/>
<text transform="translate(439.99,50.7) rotate(5)" text-anchor="middle" dominant-baseline="central" font-size="6.6" fill="#4a4a4a" textLength="13.55" lengthAdjust="spacingAndGlyphs" >BCL6</text>
<path d="M446.73 56.98A46.4 46.4 0 0 1 458 61.42L456.93 63.34A44.2 44.2 0 0 0 446.19 59.11Z" fill="#e6e6e6" stroke="#777" stroke-width="0.6"/>
<text transform="translate(453.96,53.92) rotate(21)" text-anchor="middle" dominant-baseline="central" font-size="6.6" fill="#4a4a4a" textLength="10.24" lengthAdjust="spacingAndGlyphs" >LPP</text>
<path d="M462.53 71.44A40.8 40.8 0 0 1 473.72 116.29" fill="none" stroke="#9c9c9c" stroke-width="2.4"/>
<path d="M472.81 59.83A56.3 56.3 0 0 1 488.23 121.72" fill="none" stroke="#808080" stroke-width="2.4" stroke-dasharray="0.5 0.3"/>
<path d="M473.47 59.08A57.3 57.3 0 0 1 489.17 122.07" fill="none" stroke="#707070" stroke-width="0.6"/>
<line x1="454.85" y1="80.13" x2="473.47" y2="59.08" stroke="#7a7a7a" stroke-width="0.7"/>
<line x1="462.85" y1="112.23" x2="489.17" y2="122.07" stroke="#7a7a7a" stroke-width="0.7"/>
<rect x="480.71" y="64.49" width="5.2" height="1.2" fill="#c4c4c4" transform="rotate(52.33,483.31,65.09)"/>
<rect x="491.51" y="86.79" width="5.2" height="1.2" fill="#c4c4c4" transform="rotate(76,494.11,87.39)"/>
<rect x="492.44" y="111.54" width="5.2" height="1.2" fill="#c4c4c4" transform="rotate(-80.33,495.04,112.14)"/>
<path d="M480.58 52.98A66.6 66.6 0 0 1 497.88 125.32L494.7 124.13A63.2 63.2 0 0 0 478.28 55.48Z" fill="#d6006f"/>
<path d="M482.55 45.53A73.5 73.5 0 0 1 506.69 120.28L503.2 119.38A69.9 69.9 0 0 0 480.24 48.3Z" fill="#fff" stroke="#4a4a4a" stroke-width="0.7"/>
<path d="M488.23 51.08A73.3 73.3 0 0 1 490.14 53.14L487.76 55.28A70.1 70.1 0 0 0 485.93 53.3Z" fill="#000"/>
<path d="M498.33 64.25A73.3 73.3 0 0 1 499.61 66.46L496.81 68.01A70.1 70.1 0 0 0 495.59 65.9Z" fill="#b3122e"/>
<path d="M505.6 80.57A73.3 73.3 0 0 1 506.3 83.03L503.21 83.86A70.1 70.1 0 0 0 502.54 81.5Z" fill="#000"/>
<path d="M507.25 87.01A73.3 73.3 0 0 1 507.69 89.27L504.54 89.83A70.1 70.1 0 0 0 504.12 87.66Z" fill="#000"/>
<path d="M508.76 99.44A73.3 73.3 0 0 1 508.8 102.64L505.6 102.61A70.1 70.1 0 0 0 505.56 99.55Z" fill="#000"/>
<path d="M472.46 71.53A47.9 47.9 0 0 1 477.39 78.78L473.72 80.81A43.7 43.7 0 0 0 469.22 74.2Z" fill="#d6006f" stroke="#333" stroke-opacity="0.45" stroke-width="0.5"/>
<text transform="translate(478.45,73.58) rotate(56.5)" text-anchor="middle" dominant-baseline="central" font-size="6.6" fill="#4a4a4a" textLength="18.07" lengthAdjust="spacingAndGlyphs" >CASC8</text>
<path d="M481.35 91.67A47 47 0 0 1 481.57 92.71L478.24 93.38A43.6 43.6 0 0 0 478.03 92.41Z" fill="#111"/>
<text transform="translate(485.68,90.42) rotate(77)" text-anchor="middle" dominant-baseline="central" font-size="6.6" fill="#4a4a4a" textLength="12.04" lengthAdjust="spacingAndGlyphs" >MYC</text>
<path d="M483.14 96.99A47.9 47.9 0 0 1 482.52 111.14L478.4 110.34A43.7 43.7 0 0 0 478.96 97.43Z" fill="#d6006f" stroke="#333" stroke-opacity="0.45" stroke-width="0.5"/>
<path d="M473.19 117.61A40.8 40.8 0 0 1 458.9 135.42" fill="none" stroke="#9c9c9c" stroke-width="2.4"/>
<path d="M487.51 123.55A56.3 56.3 0 0 1 467.79 148.12" fill="none" stroke="#808080" stroke-width="2.4" stroke-dasharray="0.5 0.3"/>
<path d="M488.44 123.93A57.3 57.3 0 0 1 468.37 148.94" fill="none" stroke="#707070" stroke-width="0.6"/>
<line x1="462.48" y1="113.17" x2="488.44" y2="123.93" stroke="#7a7a7a" stroke-width="0.7"/>
<line x1="452.25" y1="125.92" x2="468.37" y2="148.94" stroke="#7a7a7a" stroke-width="0.7"/>
<rect x="486.6" y="129.06" width="5.2" height="1.2" fill="#c4c4c4" transform="rotate(-62.75,489.2,129.66)"/>
<rect x="480.01" y="139.21" width="5.2" height="1.2" fill="#c4c4c4" transform="rotate(-51.25,482.61,139.81)"/>
<rect x="471.52" y="147.84" width="5.2" height="1.2" fill="#c4c4c4" transform="rotate(-39.75,474.12,148.44)"/>
<path d="M496.29 129.19A66.6 66.6 0 0 1 471.68 157.92L469.83 155.06A63.2 63.2 0 0 0 493.19 127.81Z" fill="#eea3c3"/>
<path d="M504.57 127.14A73.5 73.5 0 0 1 479.63 160.78L477.47 157.9A69.9 69.9 0 0 0 501.18 125.91Z" fill="#fff" stroke="#4a4a4a" stroke-width="0.7"/>
<path d="M503.17 130.17A73.3 73.3 0 0 1 502.15 132.51L499.24 131.18A70.1 70.1 0 0 0 500.22 128.94Z" fill="#000"/>
<path d="M501.21 134.48A73.3 73.3 0 0 1 500.22 136.41L497.39 134.91A70.1 70.1 0 0 0 498.34 133.06Z" fill="#000"/>
<path d="M487.33 153.83A73.3 73.3 0 0 1 485.68 155.43L483.49 153.1A70.1 70.1 0 0 0 485.07 151.57Z" fill="#000"/>
<path d="M476.28 124.14A46.4 46.4 0 0 1 473.27 128.94L471.48 127.67A44.2 44.2 0 0 0 474.34 123.09Z" fill="#eea3c3" stroke="#777" stroke-width="0.6"/>
<text transform="translate(478.69,130.05) rotate(-57)" text-anchor="middle" dominant-baseline="central" font-size="6.6" fill="#4a4a4a" textLength="13.45" lengthAdjust="spacingAndGlyphs" >PAX5</text>
<path d="M469.98 133.05A46.4 46.4 0 0 1 465.33 137.54L463.91 135.86A44.2 44.2 0 0 0 468.35 131.58Z" fill="#eea3c3" stroke="#777" stroke-width="0.6"/>
<path d="M457.72 136.22A40.8 40.8 0 0 1 432.3 142.67" fill="none" stroke="#9c9c9c" stroke-width="2.4"/>
<path d="M466.16 149.22A56.3 56.3 0 0 1 431.08 158.13" fill="none" stroke="#808080" stroke-width="2.4" stroke-dasharray="0.5 0.3"/>
<path d="M466.71 150.06A57.3 57.3 0 0 1 431 159.12" fill="none" stroke="#707070" stroke-width="0.6"/>
<line x1="451.4" y1="126.49" x2="466.71" y2="150.06" stroke="#7a7a7a" stroke-width="0.7"/>
<line x1="433.21" y1="131.11" x2="431" y2="159.12" stroke="#7a7a7a" stroke-width="0.7"/>
<rect x="460.71" y="155.02" width="5.2" height="1.2" fill="#c4c4c4" transform="rotate(-27.42,463.31,155.62)"/>
<rect x="447.77" y="159.94" width="5.2" height="1.2" fill="#c4c4c4" transform="rotate(-14.25,450.37,160.54)"/>
<rect x="434.04" y="161.79" width="5.2" height="1.2" fill="#c4c4c4" transform="rotate(-1.08,436.64,162.39)"/>
<path d="M468.3 159.97A66.6 66.6 0 0 1 430.97 168.45L431.2 165.05A63.2 63.2 0 0 0 466.62 157.01Z" fill="#3aa935"/>
<path d="M474.99 163.99A73.5 73.5 0 0 1 434.47 175.49L434.52 171.89A69.9 69.9 0 0 0 473.06 160.95Z" fill="#fff" stroke="#4a4a4a" stroke-width="0.7"/>
<path d="M465.9 168.7A73.3 73.3 0 0 1 463.9 169.57L462.66 166.62A70.1 70.1 0 0 0 464.57 165.79Z" fill="#000"/>
<path d="M461.77 170.43A73.3 73.3 0 0 1 459.85 171.14L458.78 168.12A70.1 70.1 0 0 0 460.62 167.44Z" fill="#000"/>
<path d="M458.88 171.47A73.3 73.3 0 0 1 456.93 172.1L456 169.04A70.1 70.1 0 0 0 457.86 168.44Z" fill="#000"/>
<path d="M445.7 174.59A73.3 73.3 0 0 1 443.16 174.9L442.83 171.72A70.1 70.1 0 0 0 445.26 171.42Z" fill="#000"/>
<path d="M457.99 144.29A47.9 47.9 0 0 1 433.83 149.87L433.97 145.67A43.7 43.7 0 0 0 456.02 140.58Z" fill="#3aa935" stroke="#333" stroke-opacity="0.45" stroke-width="0.5"/>
<text transform="translate(443.56,152.87) rotate(-9)" text-anchor="middle" dominant-baseline="central" font-size="6.6" fill="#4a4a4a" textLength="9.63" lengthAdjust="spacingAndGlyphs" >IGH</text>
<path d="M430.88 142.54A40.8 40.8 0 0 1 407.94 132.08" fill="none" stroke="#9c9c9c" stroke-width="2.4"/>
<path d="M429.13 157.94A56.3 56.3 0 0 1 397.46 143.51" fill="none" stroke="#808080" stroke-width="2.4" stroke-dasharray="0.5 0.3"/>
<path d="M429.01 158.93A57.3 57.3 0 0 1 396.79 144.25" fill="none" stroke="#707070" stroke-width="0.6"/>
<line x1="432.19" y1="131.01" x2="429.01" y2="158.93" stroke="#7a7a7a" stroke-width="0.7"/>
<line x1="415.77" y1="123.53" x2="396.79" y2="144.25" stroke="#7a7a7a" stroke-width="0.7"/>
<rect x="420.51" y="160.52" width="5.2" height="1.2" fill="#c4c4c4" transform="rotate(11.83,423.11,161.12)"/>
<rect x="407.85" y="156.36" width="5.2" height="1.2" fill="#c4c4c4" transform="rotate(24.5,410.45,156.96)"/>
<rect x="396.41" y="149.53" width="5.2" height="1.2" fill="#c4c4c4" transform="rotate(37.17,399.01,150.13)"/>
<path d="M427.15 168.07A66.6 66.6 0 0 1 391.89 152.34L394.12 149.77A63.2 63.2 0 0 0 427.58 164.7Z" fill="#0d6b48"/>
<path d="M429.22 175.23A73.5 73.5 0 0 1 389.85 159.6L392.08 156.78A69.9 69.9 0 0 0 429.53 171.64Z" fill="#fff" stroke="#4a4a4a" stroke-width="0.7"/>
<path d="M413.7 171.98A73.3 73.3 0 0 1 411.27 171.18L412.33 168.16A70.1 70.1 0 0 0 414.65 168.93Z" fill="#b3122e"/>
<path d="M402.91 167.66A73.3 73.3 0 0 1 400.41 166.36L401.94 163.55A70.1 70.1 0 0 0 404.33 164.79Z" fill="#000"/>
<path d="M419.12 147.01A47.9 47.9 0 0 1 413.01 144.29L414.98 140.58A43.7 43.7 0 0 0 420.55 143.06Z" fill="#0d6b48" stroke="#333" stroke-opacity="0.45" stroke-width="0.5"/>
<text transform="translate(414.55,149.05) rotate(24)" text-anchor="middle" dominant-baseline="central" font-size="6.6" fill="#4a4a4a" textLength="13.44" lengthAdjust="spacingAndGlyphs" >CIITA</text>
<path d="M406.9 131.1A40.8 40.8 0 0 1 395.53 110.2" fill="none" stroke="#9c9c9c" stroke-width="2.4"/>
<path d="M396.04 142.16A56.3 56.3 0 0 1 380.35 113.32" fill="none" stroke="#808080" stroke-width="2.4" stroke-dasharray="0.5 0.3"/>
<path d="M395.34 142.87A57.3 57.3 0 0 1 379.37 113.52" fill="none" stroke="#707070" stroke-width="0.6"/>
<line x1="415.03" y1="122.83" x2="395.34" y2="142.87" stroke="#7a7a7a" stroke-width="0.7"/>
<line x1="406.9" y1="107.87" x2="379.37" y2="113.52" stroke="#7a7a7a" stroke-width="0.7"/>
<rect x="386.98" y="140.64" width="5.2" height="1.2" fill="#c4c4c4" transform="rotate(49.48,389.58,141.24)"/>
<rect x="379.84" y="130.27" width="5.2" height="1.2" fill="#c4c4c4" transform="rotate(61.45,382.44,130.87)"/>
<rect x="375.01" y="118.64" width="5.2" height="1.2" fill="#c4c4c4" transform="rotate(73.42,377.61,119.24)"/>
<path d="M389.74 150.39A66.6 66.6 0 0 1 370.53 116.64L373.85 115.89A63.2 63.2 0 0 0 392.08 147.92Z" fill="#f39a1e"/>
<path d="M385.37 155.75A73.5 73.5 0 0 1 364.54 121.15L368.01 120.21A69.9 69.9 0 0 0 387.83 153.12Z" fill="#fff" stroke="#4a4a4a" stroke-width="0.7"/>
<path d="M384.12 154.28A73.3 73.3 0 0 1 381.89 151.99L384.23 149.81A70.1 70.1 0 0 0 386.37 152Z" fill="#6fc3ea"/>
<path d="M378.13 147.63A73.3 73.3 0 0 1 376.2 145.08L378.79 143.2A70.1 70.1 0 0 0 380.64 145.64Z" fill="#b3122e"/>
<path d="M400.47 134.67A47.9 47.9 0 0 1 389.23 114.4L393.29 113.31A43.7 43.7 0 0 0 403.54 131.8Z" fill="#f39a1e" stroke="#333" stroke-opacity="0.45" stroke-width="0.5"/>
<text transform="translate(390.03,126.18) rotate(62)" text-anchor="middle" dominant-baseline="central" font-size="6.6" fill="#4a4a4a" textLength="8.73" lengthAdjust="spacingAndGlyphs" >IGL</text>
<path d="M395.27 108.8A40.8 40.8 0 0 1 397.81 86.39" fill="none" stroke="#9c9c9c" stroke-width="2.4"/>
<path d="M379.99 111.39A56.3 56.3 0 0 1 383.49 80.45" fill="none" stroke="#808080" stroke-width="2.4" stroke-dasharray="0.5 0.3"/>
<path d="M379 111.56A57.3 57.3 0 0 1 382.56 80.07" fill="none" stroke="#707070" stroke-width="0.6"/>
<line x1="406.71" y1="106.87" x2="379" y2="111.56" stroke="#7a7a7a" stroke-width="0.7"/>
<line x1="408.52" y1="90.83" x2="382.56" y2="80.07" stroke="#7a7a7a" stroke-width="0.7"/>
<rect x="372.72" y="106.58" width="5.2" height="1.2" fill="#c4c4c4" transform="rotate(85.08,375.32,107.18)"/>
<rect x="372.88" y="94.61" width="5.2" height="1.2" fill="#c4c4c4" transform="rotate(276.45,375.48,95.21)"/>
<rect x="375.4" y="82.92" width="5.2" height="1.2" fill="#c4c4c4" transform="rotate(287.82,378,83.52)"/>
<path d="M369.72 112.42A66.6 66.6 0 0 1 374.06 76.3L377.2 77.61A63.2 63.2 0 0 0 373.08 111.89Z" fill="#2aa6dc"/>
<path d="M363.03 114.26A73.5 73.5 0 0 1 367.3 74.59L370.64 75.93A69.9 69.9 0 0 0 366.58 113.66Z" fill="#fff" stroke="#4a4a4a" stroke-width="0.7"/>
<path d="M362.75 110.93A73.3 73.3 0 0 1 362.6 109.66L365.78 109.33A70.1 70.1 0 0 0 365.92 110.54Z" fill="#000"/>
<path d="M362.45 108.01A73.3 73.3 0 0 1 362.33 106.35L365.52 106.16A70.1 70.1 0 0 0 365.64 107.74Z" fill="#000"/>
<path d="M362.21 103.28A73.3 73.3 0 0 1 362.2 101.74L365.4 101.76A70.1 70.1 0 0 0 365.41 103.22Z" fill="#000"/>
<path d="M362.67 93.7A73.3 73.3 0 0 1 362.91 91.8L366.08 92.24A70.1 70.1 0 0 0 365.85 94.06Z" fill="#000"/>
<path d="M364.08 85.51A73.3 73.3 0 0 1 364.38 84.27L367.48 85.04A70.1 70.1 0 0 0 367.2 86.23Z" fill="#555"/>
<path d="M366.62 76.93A73.3 73.3 0 0 1 367.07 75.73L370.06 76.88A70.1 70.1 0 0 0 369.63 78.02Z" fill="#000"/>
<path d="M387.63 103.67A47.9 47.9 0 0 1 389.69 88L393.71 89.22A43.7 43.7 0 0 0 391.83 103.53Z" fill="#2aa6dc" stroke="#333" stroke-opacity="0.45" stroke-width="0.5"/>
<text transform="translate(384.28,96.62) rotate(276)" text-anchor="middle" dominant-baseline="central" font-size="6.6" fill="#4a4a4a" textLength="9.33" lengthAdjust="spacingAndGlyphs" >IGK</text>
<path d="M398.37 85.08A40.8 40.8 0 0 1 414.92 66.77" fill="none" stroke="#9c9c9c" stroke-width="2.4"/>
<path d="M384.27 78.65A56.3 56.3 0 0 1 407.1 53.39" fill="none" stroke="#808080" stroke-width="2.4" stroke-dasharray="0.5 0.3"/>
<path d="M383.36 78.24A57.3 57.3 0 0 1 406.59 52.53" fill="none" stroke="#707070" stroke-width="0.6"/>
<line x1="408.93" y1="89.89" x2="383.36" y2="78.24" stroke="#7a7a7a" stroke-width="0.7"/>
<line x1="420.77" y1="76.79" x2="406.59" y2="52.53" stroke="#7a7a7a" stroke-width="0.7"/>
<rect x="380.43" y="71.47" width="5.2" height="1.2" fill="#c4c4c4" transform="rotate(299.7,383.03,72.07)"/>
<rect x="388.08" y="60.91" width="5.2" height="1.2" fill="#c4c4c4" transform="rotate(312.1,390.68,61.51)"/>
<rect x="397.83" y="52.23" width="5.2" height="1.2" fill="#c4c4c4" transform="rotate(324.5,400.43,52.83)"/>
<path d="M375.64 72.8A66.6 66.6 0 0 1 403.21 43.75L404.86 46.72A63.2 63.2 0 0 0 378.7 74.29Z" fill="#5a2a6e"/>
<path d="M395.56 75.56A47.9 47.9 0 0 1 406.34 64L408.9 67.33A43.7 43.7 0 0 0 399.06 77.88Z" fill="#5a2a6e" stroke="#333" stroke-opacity="0.45" stroke-width="0.5"/>
<text transform="translate(396.63,68.21) rotate(311)" text-anchor="middle" dominant-baseline="central" font-size="6.6" fill="#4a4a4a" textLength="18.07" lengthAdjust="spacingAndGlyphs" >MBNL1</text>
<circle cx="435.5" cy="102" r="29.2" fill="none" stroke="#7a7a7a" stroke-width="0.8"/>
<path d="M439.97 73.75Q440 97.42 463.67 97.03" fill="none" stroke="#e4409a" stroke-width="0.8" stroke-opacity="0.6"/>
<path d="M439.97 73.75Q440.12 97.54 463.89 98.51" fill="none" stroke="#e4409a" stroke-width="0.8" stroke-opacity="0.6"/>
<path d="M439.97 73.75Q440.24 97.66 464.03 100" fill="none" stroke="#e4409a" stroke-width="0.8" stroke-opacity="0.6"/>
<path d="M439.97 73.75Q440.35 97.79 464.1 101.5" fill="none" stroke="#e4409a" stroke-width="0.8" stroke-opacity="0.6"/>
<path d="M439.97 73.75Q440.46 97.91 464.08 103" fill="none" stroke="#e4409a" stroke-width="0.8" stroke-opacity="0.6"/>
<path d="M439.97 73.75Q440.56 98.04 463.99 104.49" fill="none" stroke="#e4409a" stroke-width="0.8" stroke-opacity="0.6"/>
<path d="M439.97 73.75Q440.7 98.22 463.75 106.47" fill="none" stroke="#e4409a" stroke-width="0.8" stroke-opacity="0.6"/>
<path d="M437.99 73.51Q431 97.42 406.97 104" fill="none" stroke="#8fd6e0" stroke-width="0.8" stroke-opacity="0.9"/>
<path d="M438.49 73.56Q430.44 98.04 408.62 111.78" fill="none" stroke="#f7c8a0" stroke-width="0.8" stroke-opacity="0.9"/>
<path d="M437.99 73.51Q441.9 101.44 442.9 129.63" fill="none" stroke="#5cb86c" stroke-width="0.8" stroke-opacity="0.9"/>
<path d="M439.48 73.68Q438.4 90.38 445.28 75.12" fill="none" stroke="#c8a0d8" stroke-width="0.6" stroke-opacity="0.8"/>
<path d="M439.48 73.68Q438.69 91.22 447.59 76.08" fill="none" stroke="#c8a0d8" stroke-width="0.6" stroke-opacity="0.8"/>
<path d="M439.48 73.68Q438.92 92.06 449.8 77.23" fill="none" stroke="#c8a0d8" stroke-width="0.6" stroke-opacity="0.8"/>
<text transform="translate(416.67,27.03) rotate(345.9)" text-anchor="middle" dominant-baseline="central" font-size="7" fill="#333" >3</text>
<text transform="translate(508.85,77.6) rotate(71.6)" text-anchor="middle" dominant-baseline="central" font-size="7" fill="#333" >8</text>
<text transform="translate(498.12,147.33) rotate(-54.1)" text-anchor="middle" dominant-baseline="central" font-size="7" fill="#333" >9</text>
<text transform="translate(455.38,176.7) rotate(-14.9)" text-anchor="middle" dominant-baseline="central" font-size="7" fill="#333" >14</text>
<text transform="translate(407.04,173.87) rotate(21.6)" text-anchor="middle" dominant-baseline="central" font-size="7" fill="#333" >16</text>
<text transform="translate(369.8,142.73) rotate(58.2)" text-anchor="middle" dominant-baseline="central" font-size="7" fill="#333" >22</text>
<text transform="translate(358.6,94.19) rotate(275.8)" text-anchor="middle" dominant-baseline="central" font-size="7" fill="#333" >2</text>
<path d="M403.31 43.93A66.4 66.4 0 0 1 449.31 37.05" fill="none" stroke="#111" stroke-width="1"/>
<path d="M428.58 36.16L429.74 36.22L430.91 36.29L432.06 36.39L433.21 36.51L434.36 36.64L435.5 36.8L436.63 36.98L437.76 37.17L438.89 37.39L440 37.62L441.11 37.88L442.21 38.15L443.3 38.44L444.39 38.75L445.46 39.08L446.53 39.43L447.59 39.8L448.64 40.18L449.72 40.42L450.79 40.68L451.86 40.95L452.92 41.25L453.98 41.56L455.03 41.89L456.08 42.24L457.12 42.61L458.15 43L459.18 43.4L460.19 43.82L461.21 44.26L462.21 44.72L463.21 45.2L464.19 45.69L465.17 46.2L466.14 46.72L467.1 47.27L468.05 47.83L468.99 48.4L469.92 49L470.84 49.6L471.75 50.23L472.65 50.87L473.53 51.53L474.41 52.2L475.27 52.88L476.12 53.59L478.31 50.98L477.41 50.24L476.5 49.52L475.58 48.81L474.65 48.12L473.7 47.44L472.74 46.79L471.77 46.14L470.79 45.52L469.8 44.91L468.8 44.32L467.79 43.75L466.77 43.2L465.74 42.66L464.7 42.14L463.65 41.64L462.59 41.16L461.52 40.69L460.45 40.25L459.37 39.82L458.28 39.42L457.18 39.03L456.08 38.66L454.97 38.31L453.86 37.98L452.74 37.67L451.61 37.38L450.48 37.11L449.35 36.86L448.21 36.62L447.06 36.41L445.92 36.22L444.77 36.05L443.62 35.9L442.46 35.76L441.3 35.65L440.15 35.56L438.99 35.49L437.82 35.44L436.66 35.41L435.5 35.4L434.34 35.41L433.18 35.44L432.01 35.49L430.85 35.56L429.7 35.65L428.54 35.76Z" fill="#bdbdbd"/>
<line x1="58.8" y1="187.5" x2="58.8" y2="250.8" stroke="#222" stroke-width="1.1"/>
<line x1="58.3" y1="250.3" x2="138.35" y2="250.3" stroke="#222" stroke-width="1.1"/>
<line x1="56.2" y1="247.6" x2="58.8" y2="247.6" stroke="#222" stroke-width="0.8"/>
<text x="52.9" y="249.9" text-anchor="end" font-size="6.4" fill="#444">0</text>
<line x1="56.2" y1="233.9" x2="58.8" y2="233.9" stroke="#222" stroke-width="0.8"/>
<text x="52.9" y="236.2" text-anchor="end" font-size="6.4" fill="#444">20</text>
<line x1="56.2" y1="220.2" x2="58.8" y2="220.2" stroke="#222" stroke-width="0.8"/>
<text x="52.9" y="222.5" text-anchor="end" font-size="6.4" fill="#444">40</text>
<line x1="56.2" y1="206.5" x2="58.8" y2="206.5" stroke="#222" stroke-width="0.8"/>
<text x="52.9" y="208.8" text-anchor="end" font-size="6.4" fill="#444">60</text>
<line x1="56.2" y1="192.8" x2="58.8" y2="192.8" stroke="#222" stroke-width="0.8"/>
<text x="52.9" y="195.1" text-anchor="end" font-size="6.4" fill="#444">80</text>
<rect x="61.6" y="230" width="13.8" height="17.6" fill="#3cae36"/>
<line x1="68.5" y1="250.3" x2="68.5" y2="252.3" stroke="#222" stroke-width="0.8"/>
<text transform="translate(71.1,260.5) rotate(-45)" text-anchor="end" font-size="7.4" fill="#333" textLength="10.55" lengthAdjust="spacingAndGlyphs">IGH</text>
<line x1="83.85" y1="250.3" x2="83.85" y2="252.3" stroke="#222" stroke-width="0.8"/>
<text transform="translate(86.45,260.5) rotate(-45)" text-anchor="end" font-size="7.4" fill="#333" textLength="10.22" lengthAdjust="spacingAndGlyphs">IGK</text>
<rect x="92.3" y="241.02" width="13.8" height="6.58" fill="#f6921e"/>
<line x1="99.2" y1="250.3" x2="99.2" y2="252.3" stroke="#222" stroke-width="0.8"/>
<text transform="translate(101.8,260.5) rotate(-45)" text-anchor="end" font-size="7.4" fill="#333" textLength="9.56" lengthAdjust="spacingAndGlyphs">IGL</text>
<line x1="114.55" y1="250.3" x2="114.55" y2="252.3" stroke="#222" stroke-width="0.8"/>
<text transform="translate(117.15,260.5) rotate(-45)" text-anchor="end" font-size="7.4" fill="#333" textLength="13.19" lengthAdjust="spacingAndGlyphs">MYC</text>
<rect x="123" y="203.76" width="13.8" height="43.84" fill="#c6c6c6"/>
<line x1="129.9" y1="250.3" x2="129.9" y2="252.3" stroke="#222" stroke-width="0.8"/>
<text transform="translate(132.5,260.5) rotate(-45)" text-anchor="end" font-size="7.4" fill="#333" textLength="14.84" lengthAdjust="spacingAndGlyphs">Other</text>
<text transform="translate(138.1,266.1) rotate(-45)" text-anchor="end" font-size="7.4" fill="#333" textLength="19.46" lengthAdjust="spacingAndGlyphs">non–IG</text>
<text transform="translate(39.4,219.1) rotate(-90)" text-anchor="middle" font-size="8.2" fill="#333" textLength="21" lengthAdjust="spacingAndGlyphs">Percent</text>
<line x1="232.8" y1="187.5" x2="232.8" y2="250.8" stroke="#222" stroke-width="1.1"/>
<line x1="232.3" y1="250.3" x2="312.35" y2="250.3" stroke="#222" stroke-width="1.1"/>
<line x1="230.2" y1="247.6" x2="232.8" y2="247.6" stroke="#222" stroke-width="0.8"/>
<text x="226.9" y="249.9" text-anchor="end" font-size="6.4" fill="#444">0</text>
<line x1="230.2" y1="233.9" x2="232.8" y2="233.9" stroke="#222" stroke-width="0.8"/>
<text x="226.9" y="236.2" text-anchor="end" font-size="6.4" fill="#444">20</text>
<line x1="230.2" y1="220.2" x2="232.8" y2="220.2" stroke="#222" stroke-width="0.8"/>
<text x="226.9" y="222.5" text-anchor="end" font-size="6.4" fill="#444">40</text>
<line x1="230.2" y1="206.5" x2="232.8" y2="206.5" stroke="#222" stroke-width="0.8"/>
<text x="226.9" y="208.8" text-anchor="end" font-size="6.4" fill="#444">60</text>
<line x1="230.2" y1="192.8" x2="232.8" y2="192.8" stroke="#222" stroke-width="0.8"/>
<text x="226.9" y="195.1" text-anchor="end" font-size="6.4" fill="#444">80</text>
<rect x="235.6" y="238.01" width="13.8" height="9.59" fill="#3cae36"/>
<line x1="242.5" y1="250.3" x2="242.5" y2="252.3" stroke="#222" stroke-width="0.8"/>
<text transform="translate(245.1,260.5) rotate(-45)" text-anchor="end" font-size="7.4" fill="#333" textLength="10.55" lengthAdjust="spacingAndGlyphs">IGH</text>
<rect x="250.95" y="246.2" width="13.8" height="1.4" fill="#2aa6dd"/>
<line x1="257.85" y1="250.3" x2="257.85" y2="252.3" stroke="#222" stroke-width="0.8"/>
<text transform="translate(260.45,260.5) rotate(-45)" text-anchor="end" font-size="7.4" fill="#333" textLength="10.22" lengthAdjust="spacingAndGlyphs">IGK</text>
<rect x="266.3" y="244.17" width="13.8" height="3.42" fill="#f6921e"/>
<line x1="273.2" y1="250.3" x2="273.2" y2="252.3" stroke="#222" stroke-width="0.8"/>
<text transform="translate(275.8,260.5) rotate(-45)" text-anchor="end" font-size="7.4" fill="#333" textLength="9.56" lengthAdjust="spacingAndGlyphs">IGL</text>
<rect x="281.65" y="217.46" width="13.8" height="30.14" fill="#e5007d"/>
<line x1="288.55" y1="250.3" x2="288.55" y2="252.3" stroke="#222" stroke-width="0.8"/>
<text transform="translate(291.15,260.5) rotate(-45)" text-anchor="end" font-size="7.4" fill="#333" textLength="13.19" lengthAdjust="spacingAndGlyphs">MYC</text>
<rect x="297" y="223.62" width="13.8" height="23.97" fill="#c6c6c6"/>
<line x1="303.9" y1="250.3" x2="303.9" y2="252.3" stroke="#222" stroke-width="0.8"/>
<text transform="translate(306.5,260.5) rotate(-45)" text-anchor="end" font-size="7.4" fill="#333" textLength="14.84" lengthAdjust="spacingAndGlyphs">Other</text>
<text transform="translate(312.1,266.1) rotate(-45)" text-anchor="end" font-size="7.4" fill="#333" textLength="19.46" lengthAdjust="spacingAndGlyphs">non–IG</text>
<text transform="translate(213.2,219.1) rotate(-90)" text-anchor="middle" font-size="8.2" fill="#333" textLength="21" lengthAdjust="spacingAndGlyphs">Percent</text>
<line x1="406.7" y1="187.5" x2="406.7" y2="250.8" stroke="#222" stroke-width="1.1"/>
<line x1="406.2" y1="250.3" x2="486.25" y2="250.3" stroke="#222" stroke-width="1.1"/>
<line x1="404.1" y1="247.6" x2="406.7" y2="247.6" stroke="#222" stroke-width="0.8"/>
<text x="400.8" y="249.9" text-anchor="end" font-size="6.4" fill="#444">0</text>
<line x1="404.1" y1="233.9" x2="406.7" y2="233.9" stroke="#222" stroke-width="0.8"/>
<text x="400.8" y="236.2" text-anchor="end" font-size="6.4" fill="#444">20</text>
<line x1="404.1" y1="220.2" x2="406.7" y2="220.2" stroke="#222" stroke-width="0.8"/>
<text x="400.8" y="222.5" text-anchor="end" font-size="6.4" fill="#444">40</text>
<line x1="404.1" y1="206.5" x2="406.7" y2="206.5" stroke="#222" stroke-width="0.8"/>
<text x="400.8" y="208.8" text-anchor="end" font-size="6.4" fill="#444">60</text>
<line x1="404.1" y1="192.8" x2="406.7" y2="192.8" stroke="#222" stroke-width="0.8"/>
<text x="400.8" y="195.1" text-anchor="end" font-size="6.4" fill="#444">80</text>
<rect x="409.5" y="227.05" width="13.8" height="20.55" fill="#3cae36"/>
<line x1="416.4" y1="250.3" x2="416.4" y2="252.3" stroke="#222" stroke-width="0.8"/>
<text transform="translate(419,260.5) rotate(-45)" text-anchor="end" font-size="7.4" fill="#333" textLength="10.55" lengthAdjust="spacingAndGlyphs">IGH</text>
<rect x="424.85" y="245.54" width="13.8" height="2.05" fill="#2aa6dd"/>
<line x1="431.75" y1="250.3" x2="431.75" y2="252.3" stroke="#222" stroke-width="0.8"/>
<text transform="translate(434.35,260.5) rotate(-45)" text-anchor="end" font-size="7.4" fill="#333" textLength="10.22" lengthAdjust="spacingAndGlyphs">IGK</text>
<rect x="440.2" y="245.54" width="13.8" height="2.05" fill="#f6921e"/>
<line x1="447.1" y1="250.3" x2="447.1" y2="252.3" stroke="#222" stroke-width="0.8"/>
<text transform="translate(449.7,260.5) rotate(-45)" text-anchor="end" font-size="7.4" fill="#333" textLength="9.56" lengthAdjust="spacingAndGlyphs">IGL</text>
<rect x="455.55" y="233.9" width="13.8" height="13.7" fill="#e5007d"/>
<line x1="462.45" y1="250.3" x2="462.45" y2="252.3" stroke="#222" stroke-width="0.8"/>
<text transform="translate(465.05,260.5) rotate(-45)" text-anchor="end" font-size="7.4" fill="#333" textLength="13.19" lengthAdjust="spacingAndGlyphs">MYC</text>
<rect x="470.9" y="218.14" width="13.8" height="29.45" fill="#c6c6c6"/>
<line x1="477.8" y1="250.3" x2="477.8" y2="252.3" stroke="#222" stroke-width="0.8"/>
<text transform="translate(480.4,260.5) rotate(-45)" text-anchor="end" font-size="7.4" fill="#333" textLength="14.84" lengthAdjust="spacingAndGlyphs">Other</text>
<text transform="translate(486,266.1) rotate(-45)" text-anchor="end" font-size="7.4" fill="#333" textLength="19.46" lengthAdjust="spacingAndGlyphs">non–IG</text>
<text transform="translate(387.1,219.1) rotate(-90)" text-anchor="middle" font-size="8.2" fill="#333" textLength="21" lengthAdjust="spacingAndGlyphs">Percent</text>
<text x="100" y="292.2" text-anchor="middle" font-size="8.4" fill="#333" textLength="39.5" lengthAdjust="spacingAndGlyphs"><tspan font-style="italic">BCL6</tspan> partner</text>
<text x="272" y="292.2" text-anchor="middle" font-size="8.4" fill="#333" textLength="39.5" lengthAdjust="spacingAndGlyphs"><tspan font-style="italic">BCL6</tspan> partner</text>
<text x="449" y="292.2" text-anchor="middle" font-size="8.4" fill="#333" textLength="39.5" lengthAdjust="spacingAndGlyphs"><tspan font-style="italic">BCL6</tspan> partner</text>
<line x1="151.9" y1="318.5" x2="151.9" y2="443.05" stroke="#222" stroke-width="1.1"/>
<line x1="151.4" y1="442.5" x2="226" y2="442.5" stroke="#222" stroke-width="1.1"/>
<line x1="149.7" y1="323.5" x2="151.9" y2="323.5" stroke="#222" stroke-width="0.8"/>
<text x="146.3" y="325.8" text-anchor="end" font-size="6.6" fill="#444">15.0</text>
<line x1="149.7" y1="355" x2="151.9" y2="355" stroke="#222" stroke-width="0.8"/>
<text x="146.3" y="357.3" text-anchor="end" font-size="6.6" fill="#444">12.5</text>
<line x1="149.7" y1="386.5" x2="151.9" y2="386.5" stroke="#222" stroke-width="0.8"/>
<text x="146.3" y="388.8" text-anchor="end" font-size="6.6" fill="#444">10.0</text>
<line x1="149.7" y1="418" x2="151.9" y2="418" stroke="#222" stroke-width="0.8"/>
<text x="146.3" y="420.3" text-anchor="end" font-size="6.6" fill="#444">7.5</text>
<line x1="150.5" y1="339.25" x2="151.9" y2="339.25" stroke="#222" stroke-width="0.7"/>
<line x1="150.5" y1="370.75" x2="151.9" y2="370.75" stroke="#222" stroke-width="0.7"/>
<line x1="150.5" y1="402.25" x2="151.9" y2="402.25" stroke="#222" stroke-width="0.7"/>
<line x1="150.5" y1="433.75" x2="151.9" y2="433.75" stroke="#222" stroke-width="0.7"/>
<text x="189.9" y="313.7" text-anchor="middle" font-size="9.4" fill="#333" textLength="26.4" lengthAdjust="spacingAndGlyphs">DLBCL</text>
<line x1="162.5" y1="344.4" x2="162.5" y2="378.9" stroke="#3a7f3a" stroke-width="0.9"/>
<rect x="155.5" y="357.4" width="14" height="15.8" fill="#b9e3a4" stroke="#58b947" stroke-width="0.3"/>
<circle cx="168.39" cy="369.09" r="1.0" fill="#2e8b3a"/>
<circle cx="157.73" cy="372.57" r="1.0" fill="#2e8b3a"/>
<circle cx="161.2" cy="351.48" r="1.0" fill="#2e8b3a"/>
<circle cx="168.02" cy="364.02" r="1.0" fill="#2e8b3a"/>
<circle cx="165.8" cy="350.38" r="1.0" fill="#2e8b3a"/>
<circle cx="165.81" cy="347.84" r="1.0" fill="#2e8b3a"/>
<circle cx="159.34" cy="357.92" r="1.0" fill="#2e8b3a"/>
<circle cx="156.68" cy="365.02" r="1.0" fill="#2e8b3a"/>
<circle cx="159.06" cy="355.6" r="1.0" fill="#2e8b3a"/>
<circle cx="164.99" cy="359.63" r="1.0" fill="#2e8b3a"/>
<circle cx="167.16" cy="365.88" r="1.0" fill="#2e8b3a"/>
<circle cx="166.97" cy="364.01" r="1.0" fill="#2e8b3a"/>
<circle cx="167.51" cy="373.86" r="1.0" fill="#2e8b3a"/>
<circle cx="158.52" cy="369.85" r="1.0" fill="#2e8b3a"/>
<circle cx="160.6" cy="370.44" r="1.0" fill="#2e8b3a"/>
<circle cx="164.67" cy="372.42" r="1.0" fill="#2e8b3a"/>
<circle cx="157.97" cy="357.94" r="1.0" fill="#2e8b3a"/>
<circle cx="165.35" cy="376.34" r="1.0" fill="#2e8b3a"/>
<line x1="155.5" y1="362.5" x2="169.5" y2="362.5" stroke="#111" stroke-width="1.6"/>
<line x1="180.2" y1="341.7" x2="180.2" y2="401" stroke="#555" stroke-width="0.9"/>
<rect x="173.45" y="356" width="13.5" height="22" fill="#cbc5ee" stroke="#8d84c8" stroke-width="0.3"/>
<circle cx="182.86" cy="345.48" r="1.0" fill="#6f5fb5"/>
<circle cx="181.45" cy="348.68" r="1.0" fill="#6f5fb5"/>
<circle cx="180.79" cy="388.77" r="1.0" fill="#6f5fb5"/>
<circle cx="175.56" cy="395.75" r="1.0" fill="#6f5fb5"/>
<circle cx="182.3" cy="357.51" r="1.0" fill="#6f5fb5"/>
<circle cx="176.52" cy="368.47" r="1.0" fill="#6f5fb5"/>
<circle cx="184.26" cy="376.14" r="1.0" fill="#6f5fb5"/>
<circle cx="175.56" cy="344.19" r="1.0" fill="#6f5fb5"/>
<circle cx="175.53" cy="388.64" r="1.0" fill="#6f5fb5"/>
<circle cx="176.42" cy="374.59" r="1.0" fill="#6f5fb5"/>
<circle cx="177.68" cy="382.17" r="1.0" fill="#6f5fb5"/>
<circle cx="178.77" cy="351.22" r="1.0" fill="#6f5fb5"/>
<circle cx="184.7" cy="373.69" r="1.0" fill="#6f5fb5"/>
<circle cx="182.47" cy="389.07" r="1.0" fill="#6f5fb5"/>
<circle cx="185.59" cy="343.79" r="1.0" fill="#6f5fb5"/>
<circle cx="178.31" cy="351.6" r="1.0" fill="#6f5fb5"/>
<circle cx="180.22" cy="392.76" r="1.0" fill="#6f5fb5"/>
<circle cx="183.81" cy="345.02" r="1.0" fill="#6f5fb5"/>
<circle cx="176.39" cy="389.64" r="1.0" fill="#6f5fb5"/>
<circle cx="182.35" cy="365.38" r="1.0" fill="#6f5fb5"/>
<circle cx="179.91" cy="352.02" r="1.0" fill="#6f5fb5"/>
<circle cx="184.34" cy="365.42" r="1.0" fill="#6f5fb5"/>
<circle cx="184.68" cy="377.82" r="1.0" fill="#6f5fb5"/>
<circle cx="175.11" cy="361.77" r="1.0" fill="#6f5fb5"/>
<circle cx="176.8" cy="393.96" r="1.0" fill="#6f5fb5"/>
<circle cx="181.27" cy="345.49" r="1.0" fill="#6f5fb5"/>
<circle cx="176.24" cy="363.58" r="1.0" fill="#6f5fb5"/>
<circle cx="179.81" cy="375.89" r="1.0" fill="#6f5fb5"/>
<circle cx="178.85" cy="363.16" r="1.0" fill="#6f5fb5"/>
<circle cx="174.27" cy="376.01" r="1.0" fill="#6f5fb5"/>
<line x1="173.45" y1="368.1" x2="186.95" y2="368.1" stroke="#111" stroke-width="1.6"/>
<line x1="197.7" y1="364.6" x2="197.7" y2="382" stroke="#2f4f42" stroke-width="0.9"/>
<rect x="191.2" y="366.8" width="13" height="5.4" fill="#3f8b6c" stroke="#1f5f45" stroke-width="0.3"/>
<circle cx="196.04" cy="365.31" r="1.0" fill="#1b5e43"/>
<circle cx="197.29" cy="379.8" r="1.0" fill="#1b5e43"/>
<circle cx="193.15" cy="367.19" r="1.0" fill="#1b5e43"/>
<circle cx="199.41" cy="369.09" r="1.0" fill="#1b5e43"/>
<circle cx="195.43" cy="372.5" r="1.0" fill="#1b5e43"/>
<circle cx="195.32" cy="373.53" r="1.0" fill="#1b5e43"/>
<circle cx="200.7" cy="345.2" r="1.0" fill="#1b5e43"/>
<line x1="191.2" y1="370" x2="204.2" y2="370" stroke="#111" stroke-width="1.6"/>
<path d="M215.2 333.5L214.8 342L211.3 345L208.8 349L208.6 365L209.8 373L212 384L214.2 390L214.9 416L216.7 416L217.4 390L219.6 384L221.8 373L223 365L222.8 349L220.3 345L216.8 342L216.4 333.5Z" fill="#c9c9c9"/>
<circle cx="216.37" cy="353.39" r="0.95" fill="#dcdcdc" stroke="#a0a0a0" stroke-width="0.35"/>
<circle cx="217.17" cy="364.15" r="0.95" fill="#dcdcdc" stroke="#a0a0a0" stroke-width="0.35"/>
<circle cx="213.34" cy="385" r="0.95" fill="#dcdcdc" stroke="#a0a0a0" stroke-width="0.35"/>
<circle cx="215.85" cy="335.07" r="0.95" fill="#dcdcdc" stroke="#a0a0a0" stroke-width="0.35"/>
<circle cx="212.36" cy="355.14" r="0.95" fill="#dcdcdc" stroke="#a0a0a0" stroke-width="0.35"/>
<circle cx="215.78" cy="415.15" r="0.95" fill="#dcdcdc" stroke="#a0a0a0" stroke-width="0.35"/>
<circle cx="215.77" cy="402.17" r="0.95" fill="#dcdcdc" stroke="#a0a0a0" stroke-width="0.35"/>
<circle cx="214.1" cy="386.08" r="0.95" fill="#dcdcdc" stroke="#a0a0a0" stroke-width="0.35"/>
<circle cx="217.69" cy="385.74" r="0.95" fill="#dcdcdc" stroke="#a0a0a0" stroke-width="0.35"/>
<circle cx="218.05" cy="376.64" r="0.95" fill="#dcdcdc" stroke="#a0a0a0" stroke-width="0.35"/>
<circle cx="214.52" cy="388.72" r="0.95" fill="#dcdcdc" stroke="#a0a0a0" stroke-width="0.35"/>
<circle cx="215.95" cy="395.8" r="0.95" fill="#dcdcdc" stroke="#a0a0a0" stroke-width="0.35"/>
<circle cx="209.68" cy="358.55" r="0.95" fill="#dcdcdc" stroke="#a0a0a0" stroke-width="0.35"/>
<circle cx="215.77" cy="404.54" r="0.95" fill="#dcdcdc" stroke="#a0a0a0" stroke-width="0.35"/>
<circle cx="216.5" cy="392.58" r="0.95" fill="#dcdcdc" stroke="#a0a0a0" stroke-width="0.35"/>
<circle cx="216.59" cy="392.2" r="0.95" fill="#dcdcdc" stroke="#a0a0a0" stroke-width="0.35"/>
<circle cx="219.66" cy="366.19" r="0.95" fill="#dcdcdc" stroke="#a0a0a0" stroke-width="0.35"/>
<circle cx="220.87" cy="370.24" r="0.95" fill="#dcdcdc" stroke="#a0a0a0" stroke-width="0.35"/>
<circle cx="215.33" cy="405.63" r="0.95" fill="#dcdcdc" stroke="#a0a0a0" stroke-width="0.35"/>
<circle cx="213.56" cy="345.08" r="0.95" fill="#dcdcdc" stroke="#a0a0a0" stroke-width="0.35"/>
<circle cx="215.75" cy="412.69" r="0.95" fill="#dcdcdc" stroke="#a0a0a0" stroke-width="0.35"/>
<circle cx="214.68" cy="385.07" r="0.95" fill="#dcdcdc" stroke="#a0a0a0" stroke-width="0.35"/>
<circle cx="214.67" cy="375.34" r="0.95" fill="#dcdcdc" stroke="#a0a0a0" stroke-width="0.35"/>
<circle cx="216.92" cy="362.6" r="0.95" fill="#dcdcdc" stroke="#a0a0a0" stroke-width="0.35"/>
<circle cx="218.77" cy="381.62" r="0.95" fill="#dcdcdc" stroke="#a0a0a0" stroke-width="0.35"/>
<circle cx="216.79" cy="389.58" r="0.95" fill="#dcdcdc" stroke="#a0a0a0" stroke-width="0.35"/>
<circle cx="216.42" cy="403.8" r="0.95" fill="#dcdcdc" stroke="#a0a0a0" stroke-width="0.35"/>
<circle cx="214.81" cy="388.71" r="0.95" fill="#dcdcdc" stroke="#a0a0a0" stroke-width="0.35"/>
<circle cx="216.38" cy="404.14" r="0.95" fill="#dcdcdc" stroke="#a0a0a0" stroke-width="0.35"/>
<circle cx="215.87" cy="407.73" r="0.95" fill="#dcdcdc" stroke="#a0a0a0" stroke-width="0.35"/>
<circle cx="215.26" cy="392.18" r="0.95" fill="#dcdcdc" stroke="#a0a0a0" stroke-width="0.35"/>
<circle cx="215.9" cy="401.78" r="0.95" fill="#dcdcdc" stroke="#a0a0a0" stroke-width="0.35"/>
<circle cx="210.12" cy="357.22" r="0.95" fill="#dcdcdc" stroke="#a0a0a0" stroke-width="0.35"/>
<circle cx="216.42" cy="403.6" r="0.95" fill="#dcdcdc" stroke="#a0a0a0" stroke-width="0.35"/>
<circle cx="216.02" cy="341.21" r="0.95" fill="#dcdcdc" stroke="#a0a0a0" stroke-width="0.35"/>
<circle cx="211.45" cy="367.45" r="0.95" fill="#dcdcdc" stroke="#a0a0a0" stroke-width="0.35"/>
<circle cx="219.3" cy="357.95" r="0.95" fill="#dcdcdc" stroke="#a0a0a0" stroke-width="0.35"/>
<circle cx="215.26" cy="405.13" r="0.95" fill="#dcdcdc" stroke="#a0a0a0" stroke-width="0.35"/>
<circle cx="212.92" cy="384.08" r="0.95" fill="#dcdcdc" stroke="#a0a0a0" stroke-width="0.35"/>
<circle cx="215.49" cy="392.55" r="0.95" fill="#dcdcdc" stroke="#a0a0a0" stroke-width="0.35"/>
<circle cx="216.35" cy="405.79" r="0.95" fill="#dcdcdc" stroke="#a0a0a0" stroke-width="0.35"/>
<circle cx="220.75" cy="375.19" r="0.95" fill="#dcdcdc" stroke="#a0a0a0" stroke-width="0.35"/>
<circle cx="210.28" cy="359.24" r="0.95" fill="#dcdcdc" stroke="#a0a0a0" stroke-width="0.35"/>
<circle cx="212.59" cy="382.88" r="0.95" fill="#dcdcdc" stroke="#a0a0a0" stroke-width="0.35"/>
<circle cx="214.62" cy="350.09" r="0.95" fill="#dcdcdc" stroke="#a0a0a0" stroke-width="0.35"/>
<circle cx="213.57" cy="383.75" r="0.95" fill="#dcdcdc" stroke="#a0a0a0" stroke-width="0.35"/>
<circle cx="215.94" cy="337.46" r="0.95" fill="#dcdcdc" stroke="#a0a0a0" stroke-width="0.35"/>
<circle cx="221.79" cy="359.58" r="0.95" fill="#dcdcdc" stroke="#a0a0a0" stroke-width="0.35"/>
<circle cx="215.67" cy="407.08" r="0.95" fill="#dcdcdc" stroke="#a0a0a0" stroke-width="0.35"/>
<circle cx="216.03" cy="371.52" r="0.95" fill="#dcdcdc" stroke="#a0a0a0" stroke-width="0.35"/>
<circle cx="216.24" cy="386.48" r="0.95" fill="#dcdcdc" stroke="#a0a0a0" stroke-width="0.35"/>
<circle cx="216.78" cy="379.58" r="0.95" fill="#dcdcdc" stroke="#a0a0a0" stroke-width="0.35"/>
<circle cx="215.81" cy="410.66" r="0.95" fill="#dcdcdc" stroke="#a0a0a0" stroke-width="0.35"/>
<circle cx="218.43" cy="369.14" r="0.95" fill="#dcdcdc" stroke="#a0a0a0" stroke-width="0.35"/>
<circle cx="213.23" cy="353.37" r="0.95" fill="#dcdcdc" stroke="#a0a0a0" stroke-width="0.35"/>
<circle cx="215.82" cy="413.69" r="0.95" fill="#dcdcdc" stroke="#a0a0a0" stroke-width="0.35"/>
<circle cx="211.64" cy="378.7" r="0.95" fill="#dcdcdc" stroke="#a0a0a0" stroke-width="0.35"/>
<circle cx="216.79" cy="367.84" r="0.95" fill="#dcdcdc" stroke="#a0a0a0" stroke-width="0.35"/>
<circle cx="215.82" cy="335.63" r="0.95" fill="#dcdcdc" stroke="#a0a0a0" stroke-width="0.35"/>
<circle cx="213.48" cy="385.52" r="0.95" fill="#dcdcdc" stroke="#a0a0a0" stroke-width="0.35"/>
<circle cx="215.61" cy="385.13" r="0.95" fill="#dcdcdc" stroke="#a0a0a0" stroke-width="0.35"/>
<circle cx="215.44" cy="389.36" r="0.95" fill="#dcdcdc" stroke="#a0a0a0" stroke-width="0.35"/>
<circle cx="216.26" cy="391.62" r="0.95" fill="#dcdcdc" stroke="#a0a0a0" stroke-width="0.35"/>
<circle cx="215.7" cy="335.81" r="0.95" fill="#dcdcdc" stroke="#a0a0a0" stroke-width="0.35"/>
<circle cx="217.03" cy="389.1" r="0.95" fill="#dcdcdc" stroke="#a0a0a0" stroke-width="0.35"/>
<circle cx="215.23" cy="354.47" r="0.95" fill="#dcdcdc" stroke="#a0a0a0" stroke-width="0.35"/>
<circle cx="214.53" cy="382.3" r="0.95" fill="#dcdcdc" stroke="#a0a0a0" stroke-width="0.35"/>
<circle cx="213.33" cy="363.66" r="0.95" fill="#dcdcdc" stroke="#a0a0a0" stroke-width="0.35"/>
<circle cx="217.06" cy="364.09" r="0.95" fill="#dcdcdc" stroke="#a0a0a0" stroke-width="0.35"/>
<circle cx="214.2" cy="358.48" r="0.95" fill="#dcdcdc" stroke="#a0a0a0" stroke-width="0.35"/>
<circle cx="209.9" cy="362.5" r="1" fill="#111"/><circle cx="221.4" cy="362.5" r="1" fill="#111"/>
<text x="162.5" y="330.5" text-anchor="middle" font-size="6.8" fill="#4a4a4a" textLength="5.89" lengthAdjust="spacingAndGlyphs">ns</text>
<text x="180.2" y="330.5" text-anchor="middle" font-size="6.8" fill="#4a4a4a" textLength="5.89" lengthAdjust="spacingAndGlyphs">ns</text>
<text x="197.7" y="330.5" text-anchor="middle" font-size="6.8" fill="#4a4a4a" textLength="5.89" lengthAdjust="spacingAndGlyphs">ns</text>
<text x="215.8" y="330.5" text-anchor="middle" font-size="6.8" fill="#4a4a4a" textLength="10.7" lengthAdjust="spacingAndGlyphs">REF</text>
<line x1="162.5" y1="442.5" x2="162.5" y2="445.7" stroke="#222" stroke-width="0.8"/>
<text transform="translate(165.4,452.7) rotate(-45)" text-anchor="end" font-size="7.49" fill="#333" textLength="6.5" lengthAdjust="spacingAndGlyphs">IG</text>
<line x1="180.2" y1="442.5" x2="180.2" y2="445.7" stroke="#222" stroke-width="0.8"/>
<text transform="translate(183.1,452.7) rotate(-45)" text-anchor="end" font-size="7.49" fill="#333" textLength="37.32" lengthAdjust="spacingAndGlyphs">Other non–IG</text>
<line x1="197.7" y1="442.5" x2="197.7" y2="445.7" stroke="#222" stroke-width="0.8"/>
<text transform="translate(200.6,452.7) rotate(-45)" text-anchor="end" font-size="7.49" fill="#333" textLength="40.06" lengthAdjust="spacingAndGlyphs">False negative</text>
<line x1="215.8" y1="442.5" x2="215.8" y2="445.7" stroke="#222" stroke-width="0.8"/>
<text transform="translate(218.7,452.7) rotate(-45)" text-anchor="end" font-size="7.49" fill="#333" textLength="14.73" lengthAdjust="spacingAndGlyphs">None</text>
<text transform="translate(128.2,380.7) rotate(-90)" text-anchor="middle" font-size="8.6" fill="#333" textLength="87.4" lengthAdjust="spacingAndGlyphs">Normalized <tspan font-style="italic">BCL6</tspan> expression</text>
<line x1="235.9" y1="318.5" x2="235.9" y2="443.05" stroke="#222" stroke-width="1.1"/>
<line x1="235.4" y1="442.5" x2="328.2" y2="442.5" stroke="#222" stroke-width="1.1"/>
<line x1="233.7" y1="323.5" x2="235.9" y2="323.5" stroke="#222" stroke-width="0.8"/>
<line x1="233.7" y1="355" x2="235.9" y2="355" stroke="#222" stroke-width="0.8"/>
<line x1="233.7" y1="386.5" x2="235.9" y2="386.5" stroke="#222" stroke-width="0.8"/>
<line x1="233.7" y1="418" x2="235.9" y2="418" stroke="#222" stroke-width="0.8"/>
<line x1="234.5" y1="339.25" x2="235.9" y2="339.25" stroke="#222" stroke-width="0.7"/>
<line x1="234.5" y1="370.75" x2="235.9" y2="370.75" stroke="#222" stroke-width="0.7"/>
<line x1="234.5" y1="402.25" x2="235.9" y2="402.25" stroke="#222" stroke-width="0.7"/>
<line x1="234.5" y1="433.75" x2="235.9" y2="433.75" stroke="#222" stroke-width="0.7"/>
<text x="281.5" y="313.6" text-anchor="middle" font-size="9.4" fill="#333" textLength="72.7" lengthAdjust="spacingAndGlyphs">HGBCL–DH–<tspan font-style="italic">BCL2</tspan></text>
<line x1="246.4" y1="343.2" x2="246.4" y2="375" stroke="#3a7f3a" stroke-width="0.9"/>
<rect x="240.15" y="353" width="12.5" height="12.8" fill="#b9e3a4" stroke="#58b947" stroke-width="0.3"/>
<circle cx="246.68" cy="372.75" r="1.0" fill="#2e8b3a"/>
<circle cx="251.32" cy="345.99" r="1.0" fill="#2e8b3a"/>
<circle cx="247.01" cy="367.36" r="1.0" fill="#2e8b3a"/>
<circle cx="250.12" cy="367.45" r="1.0" fill="#2e8b3a"/>
<circle cx="247.73" cy="363.4" r="1.0" fill="#2e8b3a"/>
<circle cx="245.03" cy="353.17" r="1.0" fill="#2e8b3a"/>
<circle cx="249.35" cy="370.31" r="1.0" fill="#2e8b3a"/>
<circle cx="250.79" cy="364.76" r="1.0" fill="#2e8b3a"/>
<line x1="240.15" y1="359.3" x2="252.65" y2="359.3" stroke="#111" stroke-width="1.6"/>
<line x1="264.1" y1="345" x2="264.1" y2="388.9" stroke="#555" stroke-width="0.9"/>
<rect x="257.5" y="349.6" width="13.2" height="17.8" fill="#f6a9cb" stroke="#e0197d" stroke-width="0.3"/>
<circle cx="261.75" cy="363.56" r="1.0" fill="#e0197d"/>
<circle cx="266.97" cy="357.7" r="1.0" fill="#e0197d"/>
<circle cx="265.72" cy="354.06" r="1.0" fill="#e0197d"/>
<circle cx="264.71" cy="355.34" r="1.0" fill="#e0197d"/>
<circle cx="258.83" cy="353.76" r="1.0" fill="#e0197d"/>
<circle cx="261.98" cy="368.73" r="1.0" fill="#e0197d"/>
<circle cx="263.88" cy="354.45" r="1.0" fill="#e0197d"/>
<circle cx="261.02" cy="351.4" r="1.0" fill="#e0197d"/>
<circle cx="262.29" cy="349.12" r="1.0" fill="#e0197d"/>
<circle cx="258.19" cy="366.03" r="1.0" fill="#e0197d"/>
<circle cx="263.54" cy="356.25" r="1.0" fill="#e0197d"/>
<circle cx="264.92" cy="352.96" r="1.0" fill="#e0197d"/>
<circle cx="260.13" cy="347.53" r="1.0" fill="#e0197d"/>
<circle cx="261.72" cy="353.1" r="1.0" fill="#e0197d"/>
<circle cx="266.82" cy="358.68" r="1.0" fill="#e0197d"/>
<circle cx="269.35" cy="353.83" r="1.0" fill="#e0197d"/>
<circle cx="269.15" cy="359.42" r="1.0" fill="#e0197d"/>
<circle cx="259.06" cy="350.11" r="1.0" fill="#e0197d"/>
<circle cx="265.07" cy="368.71" r="1.0" fill="#e0197d"/>
<circle cx="262.38" cy="363.81" r="1.0" fill="#e0197d"/>
<circle cx="263.24" cy="365.97" r="1.0" fill="#e0197d"/>
<circle cx="258.91" cy="357.14" r="1.0" fill="#e0197d"/>
<circle cx="264.9" cy="375.97" r="1.0" fill="#e0197d"/>
<circle cx="263.62" cy="371.42" r="1.0" fill="#e0197d"/>
<circle cx="263.43" cy="375.82" r="1.0" fill="#e0197d"/>
<circle cx="264.51" cy="374.93" r="1.0" fill="#e0197d"/>
<circle cx="264.1" cy="403.9" r="1.0" fill="#e0197d"/>
<line x1="257.5" y1="356.5" x2="270.7" y2="356.5" stroke="#111" stroke-width="1.6"/>
<line x1="281.8" y1="349.2" x2="281.8" y2="406.2" stroke="#555" stroke-width="0.9"/>
<rect x="275.2" y="364.6" width="13.2" height="23.6" fill="#cbc5ee" stroke="#8d84c8" stroke-width="0.3"/>
<circle cx="280.8" cy="362.62" r="1.0" fill="#6f5fb5"/>
<circle cx="282.83" cy="397.8" r="1.0" fill="#6f5fb5"/>
<circle cx="283.28" cy="362.43" r="1.0" fill="#6f5fb5"/>
<circle cx="284.14" cy="403.05" r="1.0" fill="#6f5fb5"/>
<circle cx="282.81" cy="356.2" r="1.0" fill="#6f5fb5"/>
<circle cx="284.89" cy="398.4" r="1.0" fill="#6f5fb5"/>
<circle cx="280.21" cy="359.24" r="1.0" fill="#6f5fb5"/>
<line x1="275.2" y1="373.9" x2="288.4" y2="373.9" stroke="#111" stroke-width="1.6"/>
<line x1="299.4" y1="358.2" x2="299.4" y2="408.5" stroke="#3a3a3a" stroke-width="0.9"/>
<rect x="292.8" y="367.4" width="13.2" height="30.6" fill="#8eab9b" stroke="#3b6e58" stroke-width="0.3"/>
<circle cx="296.28" cy="385.77" r="1.0" fill="#1b5e43"/>
<circle cx="303.15" cy="390.71" r="1.0" fill="#1b5e43"/>
<circle cx="303.63" cy="370.19" r="1.0" fill="#1b5e43"/>
<circle cx="297.67" cy="395.97" r="1.0" fill="#1b5e43"/>
<circle cx="300.89" cy="379.46" r="1.0" fill="#1b5e43"/>
<line x1="292.8" y1="375.5" x2="306" y2="375.5" stroke="#111" stroke-width="1.6"/>
<line x1="317.3" y1="378" x2="317.3" y2="401" stroke="#333" stroke-width="0.9"/>
<path d="M316.5 339.7L315.3 344L312.3 347L310.8 351L310.8 372L313.8 377L316.1 380L317.29 381L317.31 381L318.5 380L320.8 377L323.8 372L323.8 351L322.3 347L319.3 344L318.1 339.7Z" fill="#c9c9c9"/>
<circle cx="313" cy="349.71" r="0.95" fill="#dcdcdc" stroke="#a0a0a0" stroke-width="0.35"/>
<circle cx="313.23" cy="356.16" r="0.95" fill="#dcdcdc" stroke="#a0a0a0" stroke-width="0.35"/>
<circle cx="317.09" cy="342.88" r="0.95" fill="#dcdcdc" stroke="#a0a0a0" stroke-width="0.35"/>
<circle cx="318.95" cy="377.19" r="0.95" fill="#dcdcdc" stroke="#a0a0a0" stroke-width="0.35"/>
<circle cx="314.02" cy="371.04" r="0.95" fill="#dcdcdc" stroke="#a0a0a0" stroke-width="0.35"/>
<circle cx="314.66" cy="361.83" r="0.95" fill="#dcdcdc" stroke="#a0a0a0" stroke-width="0.35"/>
<circle cx="313.79" cy="347.16" r="0.95" fill="#dcdcdc" stroke="#a0a0a0" stroke-width="0.35"/>
<circle cx="321.65" cy="348.84" r="0.95" fill="#dcdcdc" stroke="#a0a0a0" stroke-width="0.35"/>
<circle cx="320.33" cy="373.61" r="0.95" fill="#dcdcdc" stroke="#a0a0a0" stroke-width="0.35"/>
<circle cx="313.85" cy="372.46" r="0.95" fill="#dcdcdc" stroke="#a0a0a0" stroke-width="0.35"/>
<circle cx="318.8" cy="352.69" r="0.95" fill="#dcdcdc" stroke="#a0a0a0" stroke-width="0.35"/>
<circle cx="321.48" cy="369.7" r="0.95" fill="#dcdcdc" stroke="#a0a0a0" stroke-width="0.35"/>
<circle cx="314.24" cy="375.67" r="0.95" fill="#dcdcdc" stroke="#a0a0a0" stroke-width="0.35"/>
<circle cx="319.33" cy="364.62" r="0.95" fill="#dcdcdc" stroke="#a0a0a0" stroke-width="0.35"/>
<circle cx="313.5" cy="360.59" r="0.95" fill="#dcdcdc" stroke="#a0a0a0" stroke-width="0.35"/>
<circle cx="312.45" cy="359.29" r="0.95" fill="#dcdcdc" stroke="#a0a0a0" stroke-width="0.35"/>
<circle cx="318.94" cy="377.86" r="0.95" fill="#dcdcdc" stroke="#a0a0a0" stroke-width="0.35"/>
<circle cx="314.94" cy="362.27" r="0.95" fill="#dcdcdc" stroke="#a0a0a0" stroke-width="0.35"/>
<circle cx="317.73" cy="376.83" r="0.95" fill="#dcdcdc" stroke="#a0a0a0" stroke-width="0.35"/>
<circle cx="319.84" cy="375.76" r="0.95" fill="#dcdcdc" stroke="#a0a0a0" stroke-width="0.35"/>
<circle cx="316.28" cy="360.69" r="0.95" fill="#dcdcdc" stroke="#a0a0a0" stroke-width="0.35"/>
<circle cx="316.49" cy="364.34" r="0.95" fill="#dcdcdc" stroke="#a0a0a0" stroke-width="0.35"/>
<circle cx="315.7" cy="346.7" r="0.95" fill="#dcdcdc" stroke="#a0a0a0" stroke-width="0.35"/>
<circle cx="312.43" cy="372.95" r="0.95" fill="#dcdcdc" stroke="#a0a0a0" stroke-width="0.35"/>
<circle cx="317.52" cy="342.07" r="0.95" fill="#dcdcdc" stroke="#a0a0a0" stroke-width="0.35"/>
<circle cx="317.71" cy="351.5" r="0.95" fill="#dcdcdc" stroke="#a0a0a0" stroke-width="0.35"/>
<circle cx="315.45" cy="359.19" r="0.95" fill="#dcdcdc" stroke="#a0a0a0" stroke-width="0.35"/>
<circle cx="317.22" cy="380.39" r="0.95" fill="#dcdcdc" stroke="#a0a0a0" stroke-width="0.35"/>
<circle cx="313.79" cy="356.84" r="0.95" fill="#dcdcdc" stroke="#a0a0a0" stroke-width="0.35"/>
<circle cx="314.66" cy="365.7" r="0.95" fill="#dcdcdc" stroke="#a0a0a0" stroke-width="0.35"/>
<circle cx="320.21" cy="354.54" r="0.95" fill="#dcdcdc" stroke="#a0a0a0" stroke-width="0.35"/>
<circle cx="317.99" cy="353.12" r="0.95" fill="#dcdcdc" stroke="#a0a0a0" stroke-width="0.35"/>
<circle cx="314.82" cy="376.64" r="0.95" fill="#dcdcdc" stroke="#a0a0a0" stroke-width="0.35"/>
<circle cx="316.74" cy="342.68" r="0.95" fill="#dcdcdc" stroke="#a0a0a0" stroke-width="0.35"/>
<circle cx="318.66" cy="371.04" r="0.95" fill="#dcdcdc" stroke="#a0a0a0" stroke-width="0.35"/>
<circle cx="315.46" cy="349.77" r="0.95" fill="#dcdcdc" stroke="#a0a0a0" stroke-width="0.35"/>
<circle cx="316.93" cy="347.35" r="0.95" fill="#dcdcdc" stroke="#a0a0a0" stroke-width="0.35"/>
<circle cx="317.62" cy="341.93" r="0.95" fill="#dcdcdc" stroke="#a0a0a0" stroke-width="0.35"/>
<circle cx="320.32" cy="376.31" r="0.95" fill="#dcdcdc" stroke="#a0a0a0" stroke-width="0.35"/>
<circle cx="322.73" cy="369.82" r="0.95" fill="#dcdcdc" stroke="#a0a0a0" stroke-width="0.35"/>
<circle cx="317.07" cy="340.93" r="0.95" fill="#dcdcdc" stroke="#a0a0a0" stroke-width="0.35"/>
<circle cx="318" cy="379.13" r="0.95" fill="#dcdcdc" stroke="#a0a0a0" stroke-width="0.35"/>
<circle cx="322.53" cy="356.74" r="0.95" fill="#dcdcdc" stroke="#a0a0a0" stroke-width="0.35"/>
<circle cx="321.05" cy="365.21" r="0.95" fill="#dcdcdc" stroke="#a0a0a0" stroke-width="0.35"/>
<circle cx="313.66" cy="352.02" r="0.95" fill="#dcdcdc" stroke="#a0a0a0" stroke-width="0.35"/>
<circle cx="313.01" cy="358.1" r="0.95" fill="#dcdcdc" stroke="#a0a0a0" stroke-width="0.35"/>
<circle cx="322.75" cy="355.58" r="0.95" fill="#dcdcdc" stroke="#a0a0a0" stroke-width="0.35"/>
<circle cx="311.51" cy="353.55" r="0.95" fill="#dcdcdc" stroke="#a0a0a0" stroke-width="0.35"/>
<circle cx="316.74" cy="342.01" r="0.95" fill="#dcdcdc" stroke="#a0a0a0" stroke-width="0.35"/>
<circle cx="315.68" cy="371.78" r="0.95" fill="#dcdcdc" stroke="#a0a0a0" stroke-width="0.35"/>
<circle cx="312.55" cy="351.9" r="0.95" fill="#dcdcdc" stroke="#a0a0a0" stroke-width="0.35"/>
<circle cx="317.18" cy="379.76" r="0.95" fill="#dcdcdc" stroke="#a0a0a0" stroke-width="0.35"/>
<circle cx="312.9" cy="348.58" r="0.95" fill="#dcdcdc" stroke="#a0a0a0" stroke-width="0.35"/>
<circle cx="316.66" cy="342.43" r="0.95" fill="#dcdcdc" stroke="#a0a0a0" stroke-width="0.35"/>
<circle cx="313.17" cy="367.48" r="0.95" fill="#dcdcdc" stroke="#a0a0a0" stroke-width="0.35"/>
<circle cx="317.51" cy="389" r="0.95" fill="#ececec" stroke="#a9a9a9" stroke-width="0.3"/>
<circle cx="317.11" cy="394" r="0.95" fill="#ececec" stroke="#a9a9a9" stroke-width="0.3"/>
<circle cx="316.77" cy="401" r="0.95" fill="#ececec" stroke="#a9a9a9" stroke-width="0.3"/>
<circle cx="317.2" cy="405" r="0.95" fill="#ececec" stroke="#a9a9a9" stroke-width="0.3"/>
<circle cx="316.75" cy="409" r="0.95" fill="#ececec" stroke="#a9a9a9" stroke-width="0.3"/>
<circle cx="317.45" cy="414" r="0.95" fill="#ececec" stroke="#a9a9a9" stroke-width="0.3"/>
<circle cx="317.1" cy="419" r="0.95" fill="#ececec" stroke="#a9a9a9" stroke-width="0.3"/>
<line x1="311.4" y1="365.4" x2="323.2" y2="365.4" stroke="#111" stroke-width="0.8" stroke-dasharray="1 1.2"/>
<circle cx="311.4" cy="365.4" r="1" fill="#111"/><circle cx="323.2" cy="365.4" r="1" fill="#111"/>
<text x="246.4" y="330.5" text-anchor="middle" font-size="6.8" fill="#4a4a4a" textLength="5.89" lengthAdjust="spacingAndGlyphs">ns</text>
<text x="264.1" y="330.5" text-anchor="middle" font-size="6.8" fill="#4a4a4a" textLength="5.89" lengthAdjust="spacingAndGlyphs">ns</text>
<text x="281.8" y="330.5" text-anchor="middle" font-size="6.8" fill="#4a4a4a" textLength="5.89" lengthAdjust="spacingAndGlyphs">ns</text>
<text x="299.4" y="330.5" text-anchor="middle" font-size="6.8" fill="#4a4a4a" textLength="5.89" lengthAdjust="spacingAndGlyphs">ns</text>
<text x="317.3" y="330.5" text-anchor="middle" font-size="6.8" fill="#4a4a4a" textLength="5.89" lengthAdjust="spacingAndGlyphs">ns</text>
<line x1="246.4" y1="442.5" x2="246.4" y2="445.7" stroke="#222" stroke-width="0.8"/>
<text transform="translate(246.6,452.3) rotate(-45)" text-anchor="end" font-size="7.49" fill="#333" textLength="6.5" lengthAdjust="spacingAndGlyphs">IG</text>
<line x1="264.1" y1="442.5" x2="264.1" y2="445.7" stroke="#222" stroke-width="0.8"/>
<text transform="translate(264.3,452.3) rotate(-45)" text-anchor="end" font-size="7.49" fill="#333" textLength="13.69" lengthAdjust="spacingAndGlyphs">MYC</text>
<line x1="281.8" y1="442.5" x2="281.8" y2="445.7" stroke="#222" stroke-width="0.8"/>
<text transform="translate(282,452.3) rotate(-45)" text-anchor="end" font-size="7.49" fill="#333" textLength="37.32" lengthAdjust="spacingAndGlyphs">Other non–IG</text>
<line x1="299.4" y1="442.5" x2="299.4" y2="445.7" stroke="#222" stroke-width="0.8"/>
<text transform="translate(299.6,452.3) rotate(-45)" text-anchor="end" font-size="7.49" fill="#333" textLength="40.06" lengthAdjust="spacingAndGlyphs">False negative</text>
<line x1="317.3" y1="442.5" x2="317.3" y2="445.7" stroke="#222" stroke-width="0.8"/>
<text transform="translate(317.5,452.3) rotate(-45)" text-anchor="end" font-size="7.49" fill="#333" textLength="14.73" lengthAdjust="spacingAndGlyphs">None</text>
<line x1="337.7" y1="318.5" x2="337.7" y2="443.05" stroke="#222" stroke-width="1.1"/>
<line x1="337.2" y1="442.5" x2="411.7" y2="442.5" stroke="#222" stroke-width="1.1"/>
<line x1="335.5" y1="323.5" x2="337.7" y2="323.5" stroke="#222" stroke-width="0.8"/>
<line x1="335.5" y1="355" x2="337.7" y2="355" stroke="#222" stroke-width="0.8"/>
<line x1="335.5" y1="386.5" x2="337.7" y2="386.5" stroke="#222" stroke-width="0.8"/>
<line x1="335.5" y1="418" x2="337.7" y2="418" stroke="#222" stroke-width="0.8"/>
<line x1="336.3" y1="339.25" x2="337.7" y2="339.25" stroke="#222" stroke-width="0.7"/>
<line x1="336.3" y1="370.75" x2="337.7" y2="370.75" stroke="#222" stroke-width="0.7"/>
<line x1="336.3" y1="402.25" x2="337.7" y2="402.25" stroke="#222" stroke-width="0.7"/>
<line x1="336.3" y1="433.75" x2="337.7" y2="433.75" stroke="#222" stroke-width="0.7"/>
<text x="374.6" y="313.6" text-anchor="middle" font-size="9.4" fill="#333" textLength="72.4" lengthAdjust="spacingAndGlyphs">HGBCL–DH–<tspan font-style="italic">BCL6</tspan></text>
<line x1="348.8" y1="349" x2="348.8" y2="368" stroke="#3a7f3a" stroke-width="0.9"/>
<rect x="342.55" y="355.4" width="12.5" height="12.6" fill="#b9e3a4" stroke="#58b947" stroke-width="0.3"/>
<circle cx="348.74" cy="361.57" r="1.0" fill="#2e8b3a"/>
<circle cx="346.37" cy="359.41" r="1.0" fill="#2e8b3a"/>
<circle cx="343.94" cy="366.8" r="1.0" fill="#2e8b3a"/>
<circle cx="349.44" cy="367.8" r="1.0" fill="#2e8b3a"/>
<circle cx="344.36" cy="361.82" r="1.0" fill="#2e8b3a"/>
<line x1="342.55" y1="358.8" x2="355.05" y2="358.8" stroke="#111" stroke-width="1.6"/>
<line x1="366" y1="356.5" x2="366" y2="368" stroke="#555" stroke-width="0.9"/>
<rect x="359.4" y="356.5" width="13.2" height="11.5" fill="#f6a9cb" stroke="#e0197d" stroke-width="0.3"/>
<circle cx="368.24" cy="360.62" r="1.0" fill="#e0197d"/>
<circle cx="361.93" cy="358.72" r="1.0" fill="#e0197d"/>
<circle cx="362.43" cy="365.44" r="1.0" fill="#e0197d"/>
<circle cx="361.9" cy="365.95" r="1.0" fill="#e0197d"/>
<circle cx="365.23" cy="362.93" r="1.0" fill="#e0197d"/>
<circle cx="366.88" cy="363.1" r="1.0" fill="#e0197d"/>
<line x1="359.4" y1="362.3" x2="372.6" y2="362.3" stroke="#111" stroke-width="1.6"/>
<line x1="383.6" y1="361" x2="383.6" y2="387.7" stroke="#555" stroke-width="0.9"/>
<rect x="377" y="365.8" width="13.2" height="13.8" fill="#cbc5ee" stroke="#8d84c8" stroke-width="0.3"/>
<circle cx="385.17" cy="376.84" r="1.0" fill="#6f5fb5"/>
<circle cx="381.91" cy="380.04" r="1.0" fill="#6f5fb5"/>
<circle cx="381.18" cy="379.36" r="1.0" fill="#6f5fb5"/>
<circle cx="386.23" cy="380.85" r="1.0" fill="#6f5fb5"/>
<circle cx="385.5" cy="342.7" r="1.0" fill="#6f5fb5"/>
<line x1="377" y1="372.2" x2="390.2" y2="372.2" stroke="#111" stroke-width="1.6"/>
<line x1="401.4" y1="373.4" x2="401.4" y2="378.5" stroke="#2f4f42" stroke-width="0.9"/>
<rect x="395.15" y="373.4" width="12.5" height="5.1" fill="#3f8b6c" stroke="#1f5f45" stroke-width="0.3"/>
<circle cx="399.49" cy="377.41" r="1.0" fill="#1b5e43"/>
<circle cx="406.17" cy="375.17" r="1.0" fill="#1b5e43"/>
<circle cx="399.18" cy="375.66" r="1.0" fill="#1b5e43"/>
<circle cx="405.81" cy="372.92" r="1.0" fill="#1b5e43"/>
<circle cx="400.5" cy="349.6" r="1.0" fill="#1b5e43"/>
<line x1="395.15" y1="375.5" x2="407.65" y2="375.5" stroke="#111" stroke-width="1.6"/>
<text x="348.8" y="330.5" text-anchor="middle" font-size="6.8" fill="#4a4a4a" textLength="5.89" lengthAdjust="spacingAndGlyphs">ns</text>
<text x="366" y="330.5" text-anchor="middle" font-size="6.8" fill="#4a4a4a" textLength="5.89" lengthAdjust="spacingAndGlyphs">ns</text>
<text x="383.6" y="330.5" text-anchor="middle" font-size="6.8" fill="#4a4a4a" textLength="5.89" lengthAdjust="spacingAndGlyphs">ns</text>
<text x="401.4" y="330.5" text-anchor="middle" font-size="6.8" fill="#4a4a4a" textLength="5.89" lengthAdjust="spacingAndGlyphs">ns</text>
<line x1="348.8" y1="442.5" x2="348.8" y2="445.7" stroke="#222" stroke-width="0.8"/>
<text transform="translate(351.3,452.5) rotate(-45)" text-anchor="end" font-size="7.49" fill="#333" textLength="6.5" lengthAdjust="spacingAndGlyphs">IG</text>
<line x1="366" y1="442.5" x2="366" y2="445.7" stroke="#222" stroke-width="0.8"/>
<text transform="translate(368.5,452.5) rotate(-45)" text-anchor="end" font-size="7.49" fill="#333" textLength="13.69" lengthAdjust="spacingAndGlyphs">MYC</text>
<line x1="383.6" y1="442.5" x2="383.6" y2="445.7" stroke="#222" stroke-width="0.8"/>
<text transform="translate(386.1,452.5) rotate(-45)" text-anchor="end" font-size="7.49" fill="#333" textLength="37.32" lengthAdjust="spacingAndGlyphs">Other non–IG</text>
<line x1="401.4" y1="442.5" x2="401.4" y2="445.7" stroke="#222" stroke-width="0.8"/>
<text transform="translate(403.9,452.5) rotate(-45)" text-anchor="end" font-size="7.49" fill="#333" textLength="40.06" lengthAdjust="spacingAndGlyphs">False negative</text>
<text x="281.3" y="495.6" text-anchor="middle" font-size="8.8" fill="#333" textLength="87.5" lengthAdjust="spacingAndGlyphs"><tspan font-style="italic">BCL6</tspan> rearrangement partner</text>
<path d="M70.71 557.71A40.17 40.17 0 0 1 117.68 562.65L111.75 569.23A31.31 31.31 0 0 0 75.14 565.38Z" fill="#f8edf0"/>
<line x1="72.87" y1="560.61" x2="72.2" y2="559.43" stroke="#6e3440" stroke-width="0.67" stroke-opacity="0.3"/>
<line x1="101.27" y1="558.66" x2="101.9" y2="556.61" stroke="#6e3440" stroke-width="0.67" stroke-opacity="0.3"/>
<line x1="82.83" y1="559.48" x2="82.41" y2="557.74" stroke="#6e3440" stroke-width="0.67" stroke-opacity="0.3"/>
<line x1="76.46" y1="559.55" x2="76.17" y2="558.9" stroke="#6e3440" stroke-width="0.67" stroke-opacity="0.3"/>
<line x1="94.58" y1="557.35" x2="94.73" y2="555.88" stroke="#6e3440" stroke-width="0.67" stroke-opacity="0.3"/>
<line x1="80.21" y1="557.66" x2="79.96" y2="556.85" stroke="#6e3440" stroke-width="0.67" stroke-opacity="0.3"/>
<line x1="80.51" y1="559.3" x2="79.99" y2="557.63" stroke="#6e3440" stroke-width="0.67" stroke-opacity="0.3"/>
<line x1="111.78" y1="563.99" x2="112.86" y2="562.52" stroke="#6e3440" stroke-width="0.67" stroke-opacity="0.3"/>
<line x1="83.1" y1="557.84" x2="82.63" y2="555.76" stroke="#6e3440" stroke-width="0.67" stroke-opacity="0.3"/>
<line x1="94.35" y1="558.26" x2="94.54" y2="556.42" stroke="#6e3440" stroke-width="0.67" stroke-opacity="0.3"/>
<line x1="92.67" y1="558.25" x2="92.73" y2="557.14" stroke="#6e3440" stroke-width="0.67" stroke-opacity="0.3"/>
<line x1="112.01" y1="562.27" x2="112.42" y2="561.69" stroke="#6e3440" stroke-width="0.67" stroke-opacity="0.3"/>
<line x1="101.18" y1="557.41" x2="101.53" y2="556.22" stroke="#6e3440" stroke-width="0.67" stroke-opacity="0.3"/>
<line x1="110.43" y1="561.34" x2="111.1" y2="560.28" stroke="#6e3440" stroke-width="0.67" stroke-opacity="0.3"/>
<line x1="111.97" y1="563.55" x2="113.19" y2="561.88" stroke="#6e3440" stroke-width="0.67" stroke-opacity="0.3"/>
<line x1="100.05" y1="558.34" x2="100.32" y2="557.35" stroke="#6e3440" stroke-width="0.67" stroke-opacity="0.3"/>
<line x1="91.58" y1="556.28" x2="91.6" y2="555.3" stroke="#6e3440" stroke-width="0.67" stroke-opacity="0.3"/>
<line x1="81.43" y1="558.43" x2="81.15" y2="557.39" stroke="#6e3440" stroke-width="0.67" stroke-opacity="0.3"/>
<line x1="112.91" y1="567.59" x2="113.54" y2="566.88" stroke="#6e3440" stroke-width="0.67" stroke-opacity="0.3"/>
<line x1="97.81" y1="556.47" x2="98.18" y2="554.55" stroke="#6e3440" stroke-width="0.67" stroke-opacity="0.3"/>
<line x1="83.81" y1="555.71" x2="83.48" y2="553.96" stroke="#6e3440" stroke-width="0.67" stroke-opacity="0.3"/>
<line x1="107.89" y1="561.98" x2="108.56" y2="560.78" stroke="#6e3440" stroke-width="0.67" stroke-opacity="0.3"/>
<line x1="111.23" y1="562.37" x2="111.72" y2="561.66" stroke="#6e3440" stroke-width="0.67" stroke-opacity="0.3"/>
<line x1="101.97" y1="560.36" x2="102.46" y2="558.93" stroke="#6e3440" stroke-width="0.67" stroke-opacity="0.3"/>
<line x1="109.81" y1="563.85" x2="110.33" y2="563.07" stroke="#6e3440" stroke-width="0.67" stroke-opacity="0.3"/>
<line x1="109.48" y1="564.41" x2="110.56" y2="562.78" stroke="#6e3440" stroke-width="0.67" stroke-opacity="0.3"/>
<line x1="80.05" y1="557.08" x2="79.49" y2="555.21" stroke="#6e3440" stroke-width="0.67" stroke-opacity="0.3"/>
<line x1="114.14" y1="566.23" x2="114.67" y2="565.64" stroke="#6e3440" stroke-width="0.67" stroke-opacity="0.3"/>
<line x1="113.7" y1="565.36" x2="114.11" y2="564.87" stroke="#6e3440" stroke-width="0.67" stroke-opacity="0.3"/>
<line x1="112.07" y1="562.83" x2="112.51" y2="562.21" stroke="#6e3440" stroke-width="0.67" stroke-opacity="0.3"/>
<line x1="79.46" y1="557.28" x2="78.95" y2="555.69" stroke="#6e3440" stroke-width="0.67" stroke-opacity="0.3"/>
<line x1="77.39" y1="561.66" x2="76.7" y2="560.08" stroke="#6e3440" stroke-width="0.67" stroke-opacity="0.3"/>
<line x1="111.64" y1="561.01" x2="112.82" y2="559.23" stroke="#6e3440" stroke-width="0.67" stroke-opacity="0.3"/>
<line x1="74.36" y1="561.09" x2="73.58" y2="559.6" stroke="#6e3440" stroke-width="0.67" stroke-opacity="0.3"/>
<line x1="73.58" y1="559.09" x2="72.94" y2="557.85" stroke="#6e3440" stroke-width="0.67" stroke-opacity="0.3"/>
<line x1="82.81" y1="558.78" x2="82.66" y2="558.15" stroke="#6e3440" stroke-width="0.67" stroke-opacity="0.3"/>
<line x1="114.24" y1="565.85" x2="114.97" y2="565.02" stroke="#6e3440" stroke-width="0.67" stroke-opacity="0.3"/>
<line x1="110.73" y1="562.1" x2="111.19" y2="561.41" stroke="#6e3440" stroke-width="0.67" stroke-opacity="0.3"/>
<line x1="91.34" y1="556.22" x2="91.35" y2="555.32" stroke="#6e3440" stroke-width="0.67" stroke-opacity="0.3"/>
<line x1="102.91" y1="558.03" x2="103.37" y2="556.71" stroke="#6e3440" stroke-width="0.67" stroke-opacity="0.3"/>
<line x1="77" y1="558.19" x2="76.57" y2="557.11" stroke="#6e3440" stroke-width="0.67" stroke-opacity="0.3"/>
<line x1="94.43" y1="556.37" x2="94.52" y2="555.43" stroke="#6e3440" stroke-width="0.67" stroke-opacity="0.3"/>
<line x1="112.89" y1="565.85" x2="114.16" y2="564.32" stroke="#6e3440" stroke-width="0.67" stroke-opacity="0.3"/>
<line x1="104.33" y1="560.1" x2="104.72" y2="559.16" stroke="#6e3440" stroke-width="0.67" stroke-opacity="0.3"/>
<line x1="75.54" y1="559.83" x2="75.25" y2="559.21" stroke="#6e3440" stroke-width="0.67" stroke-opacity="0.3"/>
<line x1="94.7" y1="558.93" x2="94.84" y2="557.76" stroke="#6e3440" stroke-width="0.67" stroke-opacity="0.3"/>
<line x1="73.14" y1="560.95" x2="72.32" y2="559.48" stroke="#6e3440" stroke-width="0.67" stroke-opacity="0.3"/>
<line x1="100.64" y1="560.37" x2="101.13" y2="558.76" stroke="#6e3440" stroke-width="0.67" stroke-opacity="0.3"/>
<line x1="113.48" y1="566.16" x2="114.77" y2="564.66" stroke="#6e3440" stroke-width="0.67" stroke-opacity="0.3"/>
<line x1="103.46" y1="560.64" x2="103.93" y2="559.47" stroke="#6e3440" stroke-width="0.67" stroke-opacity="0.3"/>
<line x1="113.91" y1="565.01" x2="114.7" y2="564.07" stroke="#6e3440" stroke-width="0.67" stroke-opacity="0.3"/>
<line x1="89.44" y1="557.93" x2="89.36" y2="555.77" stroke="#6e3440" stroke-width="0.67" stroke-opacity="0.3"/>
<line x1="73.19" y1="561.53" x2="72.42" y2="560.18" stroke="#6e3440" stroke-width="0.67" stroke-opacity="0.3"/>
<line x1="111.82" y1="564.3" x2="112.53" y2="563.33" stroke="#6e3440" stroke-width="0.67" stroke-opacity="0.3"/>
<line x1="82.67" y1="556.34" x2="82.47" y2="555.43" stroke="#6e3440" stroke-width="0.67" stroke-opacity="0.3"/>
<line x1="77.33" y1="558.55" x2="76.59" y2="556.67" stroke="#6e3440" stroke-width="0.67" stroke-opacity="0.3"/>
<line x1="75.99" y1="562.71" x2="75.24" y2="561.19" stroke="#6e3440" stroke-width="0.67" stroke-opacity="0.3"/>
<line x1="86.84" y1="558.53" x2="86.71" y2="557.43" stroke="#6e3440" stroke-width="0.67" stroke-opacity="0.3"/>
<line x1="112.56" y1="566.53" x2="112.96" y2="566.05" stroke="#6e3440" stroke-width="0.67" stroke-opacity="0.3"/>
<line x1="105.36" y1="559.37" x2="105.98" y2="557.96" stroke="#6e3440" stroke-width="0.67" stroke-opacity="0.3"/>
<line x1="113.35" y1="567.12" x2="114" y2="566.39" stroke="#6e3440" stroke-width="0.67" stroke-opacity="0.3"/>
<line x1="100.1" y1="558.58" x2="100.55" y2="556.92" stroke="#6e3440" stroke-width="0.67" stroke-opacity="0.3"/>
<line x1="89.81" y1="558.59" x2="89.77" y2="557.16" stroke="#6e3440" stroke-width="0.67" stroke-opacity="0.3"/>
<line x1="99.27" y1="558.84" x2="99.66" y2="557.3" stroke="#6e3440" stroke-width="0.67" stroke-opacity="0.3"/>
<line x1="96.2" y1="558.76" x2="96.36" y2="557.81" stroke="#6e3440" stroke-width="0.67" stroke-opacity="0.3"/>
<line x1="99.32" y1="558.6" x2="99.64" y2="557.29" stroke="#6e3440" stroke-width="0.67" stroke-opacity="0.3"/>
<line x1="105.06" y1="557.12" x2="105.59" y2="555.8" stroke="#6e3440" stroke-width="0.67" stroke-opacity="0.3"/>
<line x1="93.46" y1="557.24" x2="93.62" y2="555.2" stroke="#6e3440" stroke-width="0.67" stroke-opacity="0.3"/>
<line x1="95.85" y1="556.9" x2="96.05" y2="555.49" stroke="#6e3440" stroke-width="0.67" stroke-opacity="0.3"/>
<line x1="95.74" y1="557.24" x2="95.87" y2="556.36" stroke="#6e3440" stroke-width="0.67" stroke-opacity="0.3"/>
<line x1="107.53" y1="562.54" x2="108.18" y2="561.38" stroke="#6e3440" stroke-width="0.67" stroke-opacity="0.3"/>
<line x1="100.95" y1="557.38" x2="101.49" y2="555.5" stroke="#6e3440" stroke-width="0.67" stroke-opacity="0.3"/>
<line x1="76" y1="563.32" x2="75.46" y2="562.24" stroke="#6e3440" stroke-width="0.67" stroke-opacity="0.3"/>
<line x1="108.51" y1="561.72" x2="108.93" y2="560.98" stroke="#6e3440" stroke-width="0.67" stroke-opacity="0.3"/>
<line x1="83.67" y1="558.64" x2="83.51" y2="557.88" stroke="#6e3440" stroke-width="0.67" stroke-opacity="0.3"/>
<line x1="88.11" y1="556.84" x2="88.01" y2="555.53" stroke="#6e3440" stroke-width="0.67" stroke-opacity="0.3"/>
<line x1="77.28" y1="561.64" x2="76.78" y2="560.52" stroke="#6e3440" stroke-width="0.67" stroke-opacity="0.3"/>
<line x1="113.94" y1="566.6" x2="114.84" y2="565.59" stroke="#6e3440" stroke-width="0.67" stroke-opacity="0.3"/>
<line x1="106.42" y1="562.47" x2="107.24" y2="560.88" stroke="#6e3440" stroke-width="0.67" stroke-opacity="0.3"/>
<line x1="79.39" y1="559.75" x2="78.92" y2="558.41" stroke="#6e3440" stroke-width="0.67" stroke-opacity="0.3"/>
<line x1="83.2" y1="559.29" x2="82.93" y2="558.13" stroke="#6e3440" stroke-width="0.67" stroke-opacity="0.3"/>
<line x1="87.43" y1="557.62" x2="87.34" y2="556.7" stroke="#6e3440" stroke-width="0.67" stroke-opacity="0.3"/>
<line x1="97.6" y1="557.76" x2="97.74" y2="557.07" stroke="#6e3440" stroke-width="0.67" stroke-opacity="0.3"/>
<line x1="80.47" y1="559.04" x2="80.14" y2="557.98" stroke="#6e3440" stroke-width="0.67" stroke-opacity="0.3"/>
<line x1="83.35" y1="559.15" x2="82.94" y2="557.29" stroke="#6e3440" stroke-width="0.67" stroke-opacity="0.3"/>
<line x1="77.49" y1="561.77" x2="77.12" y2="560.92" stroke="#6e3440" stroke-width="0.67" stroke-opacity="0.3"/>
<line x1="91.07" y1="559.28" x2="91.09" y2="557.43" stroke="#6e3440" stroke-width="0.67" stroke-opacity="0.3"/>
<line x1="99.54" y1="558.66" x2="99.87" y2="557.4" stroke="#6e3440" stroke-width="0.67" stroke-opacity="0.3"/>
<line x1="88.59" y1="557.05" x2="88.49" y2="555.34" stroke="#6e3440" stroke-width="0.67" stroke-opacity="0.3"/>
<line x1="85.69" y1="559.28" x2="85.41" y2="557.44" stroke="#6e3440" stroke-width="0.67" stroke-opacity="0.3"/>
<line x1="87.87" y1="556.33" x2="87.77" y2="555.12" stroke="#6e3440" stroke-width="0.67" stroke-opacity="0.3"/>
<line x1="98.08" y1="557.24" x2="98.51" y2="555.17" stroke="#6e3440" stroke-width="0.67" stroke-opacity="0.3"/>
<line x1="103.43" y1="560.04" x2="103.86" y2="558.93" stroke="#6e3440" stroke-width="0.67" stroke-opacity="0.3"/>
<path d="M121.41 566.81A39.96 39.96 0 0 1 130.38 586.94L121.6 588.17A31.11 31.11 0 0 0 114.63 572.51Z" fill="#faeef1"/>
<line x1="122.33" y1="581.83" x2="124" y2="581.26" stroke="#c0506a" stroke-width="0.82" stroke-opacity="0.38"/>
<line x1="123.03" y1="583.38" x2="126.08" y2="582.51" stroke="#c0506a" stroke-width="0.82" stroke-opacity="0.38"/>
<line x1="123.33" y1="577.94" x2="126.88" y2="576.35" stroke="#c0506a" stroke-width="0.82" stroke-opacity="0.38"/>
<line x1="117.44" y1="570.78" x2="119.75" y2="568.91" stroke="#c0506a" stroke-width="0.82" stroke-opacity="0.38"/>
<line x1="122.82" y1="577.43" x2="125.38" y2="576.22" stroke="#c0506a" stroke-width="0.82" stroke-opacity="0.38"/>
<line x1="123.1" y1="577.54" x2="125.74" y2="576.32" stroke="#c0506a" stroke-width="0.82" stroke-opacity="0.38"/>
<line x1="121.83" y1="578.5" x2="125.56" y2="576.82" stroke="#c0506a" stroke-width="0.82" stroke-opacity="0.38"/>
<line x1="123.96" y1="581.37" x2="126.61" y2="580.49" stroke="#c0506a" stroke-width="0.82" stroke-opacity="0.38"/>
<line x1="117.9" y1="570.78" x2="120.45" y2="568.75" stroke="#c0506a" stroke-width="0.82" stroke-opacity="0.38"/>
<line x1="124.64" y1="583.19" x2="126.49" y2="582.68" stroke="#c0506a" stroke-width="0.82" stroke-opacity="0.38"/>
<line x1="117.86" y1="574.97" x2="121.28" y2="572.75" stroke="#c0506a" stroke-width="0.82" stroke-opacity="0.38"/>
<line x1="116.68" y1="573.18" x2="119.78" y2="570.86" stroke="#c0506a" stroke-width="0.82" stroke-opacity="0.38"/>
<line x1="120.63" y1="580.49" x2="124.01" y2="579.12" stroke="#c0506a" stroke-width="0.82" stroke-opacity="0.38"/>
<line x1="123.19" y1="582.44" x2="124.83" y2="581.94" stroke="#c0506a" stroke-width="0.82" stroke-opacity="0.38"/>
<line x1="122.83" y1="582.16" x2="126.01" y2="581.14" stroke="#c0506a" stroke-width="0.82" stroke-opacity="0.38"/>
<line x1="125.75" y1="587.55" x2="129.94" y2="586.96" stroke="#c0506a" stroke-width="0.82" stroke-opacity="0.38"/>
<line x1="117.97" y1="573.23" x2="120.54" y2="571.41" stroke="#c0506a" stroke-width="0.82" stroke-opacity="0.38"/>
<line x1="118.46" y1="569.45" x2="120.3" y2="567.92" stroke="#c0506a" stroke-width="0.82" stroke-opacity="0.38"/>
<line x1="119.09" y1="575.09" x2="121.08" y2="573.87" stroke="#c0506a" stroke-width="0.82" stroke-opacity="0.38"/>
<line x1="124.21" y1="585.08" x2="127.26" y2="584.41" stroke="#c0506a" stroke-width="0.82" stroke-opacity="0.38"/>
<line x1="119.55" y1="578.13" x2="121.77" y2="577.02" stroke="#c0506a" stroke-width="0.82" stroke-opacity="0.38"/>
<line x1="125.23" y1="585.02" x2="129.33" y2="584.13" stroke="#c0506a" stroke-width="0.82" stroke-opacity="0.38"/>
<path d="M122.29 617.1A39.96 39.96 0 0 1 103.15 630.51L100.41 622.08A31.11 31.11 0 0 0 115.31 611.65Z" fill="#f7e3e7"/>
<line x1="112.9" y1="615.98" x2="114.1" y2="617.27" stroke="#b02545" stroke-width="1.27" stroke-opacity="0.6"/>
<line x1="111.9" y1="618.29" x2="114.16" y2="621.05" stroke="#b02545" stroke-width="1.32" stroke-opacity="0.6"/>
<line x1="112.91" y1="619.26" x2="114.42" y2="621.09" stroke="#b02545" stroke-width="1.67" stroke-opacity="0.6"/>
<line x1="108.07" y1="619" x2="109.62" y2="621.38" stroke="#b02545" stroke-width="1.27" stroke-opacity="0.6"/>
<line x1="111.62" y1="619.05" x2="113.39" y2="621.32" stroke="#b02545" stroke-width="1" stroke-opacity="0.6"/>
<line x1="104.55" y1="622.08" x2="106.44" y2="626.13" stroke="#b02545" stroke-width="1.55" stroke-opacity="0.6"/>
<line x1="108.38" y1="620.77" x2="111.22" y2="625.35" stroke="#b02545" stroke-width="1.18" stroke-opacity="0.6"/>
<line x1="102.73" y1="621.82" x2="103.99" y2="624.9" stroke="#b02545" stroke-width="1.38" stroke-opacity="0.6"/>
<line x1="117.72" y1="614.82" x2="119.14" y2="616" stroke="#b02545" stroke-width="1.34" stroke-opacity="0.6"/>
<line x1="116.08" y1="617.02" x2="118.85" y2="619.7" stroke="#b02545" stroke-width="1.55" stroke-opacity="0.6"/>
<line x1="110.44" y1="620.49" x2="112.93" y2="624.03" stroke="#b02545" stroke-width="1.02" stroke-opacity="0.6"/>
<line x1="115.38" y1="617.23" x2="116.89" y2="618.75" stroke="#b02545" stroke-width="1.67" stroke-opacity="0.6"/>
<line x1="113.29" y1="615.02" x2="114.66" y2="616.39" stroke="#b02545" stroke-width="1.53" stroke-opacity="0.6"/>
<line x1="101.95" y1="623.69" x2="103.38" y2="627.7" stroke="#b02545" stroke-width="0.99" stroke-opacity="0.6"/>
<line x1="103.18" y1="624.42" x2="103.97" y2="626.46" stroke="#b02545" stroke-width="0.78" stroke-opacity="0.6"/>
<line x1="105.8" y1="620.3" x2="108.17" y2="624.69" stroke="#b02545" stroke-width="1.02" stroke-opacity="0.6"/>
<line x1="114.33" y1="616.79" x2="116.32" y2="618.84" stroke="#b02545" stroke-width="1.3" stroke-opacity="0.6"/>
<line x1="116.42" y1="616.59" x2="118.52" y2="618.57" stroke="#b02545" stroke-width="1.59" stroke-opacity="0.6"/>
<line x1="116.12" y1="616.24" x2="119.8" y2="619.7" stroke="#b02545" stroke-width="1.12" stroke-opacity="0.6"/>
<line x1="116.39" y1="613.31" x2="119.63" y2="615.95" stroke="#b02545" stroke-width="0.95" stroke-opacity="0.6"/>
<line x1="108.33" y1="619.03" x2="110.23" y2="621.92" stroke="#b02545" stroke-width="1.47" stroke-opacity="0.6"/>
<line x1="111.57" y1="619.68" x2="112.8" y2="621.29" stroke="#b02545" stroke-width="1.57" stroke-opacity="0.6"/>
<line x1="116.91" y1="616.14" x2="120.28" y2="619.18" stroke="#b02545" stroke-width="1.69" stroke-opacity="0.6"/>
<line x1="109.09" y1="619.5" x2="110.76" y2="621.97" stroke="#b02545" stroke-width="1.49" stroke-opacity="0.6"/>
<line x1="111.08" y1="621.33" x2="112.18" y2="622.91" stroke="#b02545" stroke-width="1.22" stroke-opacity="0.6"/>
<line x1="103.83" y1="623.77" x2="105.28" y2="627.25" stroke="#b02545" stroke-width="0.81" stroke-opacity="0.6"/>
<line x1="114.69" y1="614.58" x2="118.53" y2="618.13" stroke="#b02545" stroke-width="1.59" stroke-opacity="0.6"/>
<line x1="115.39" y1="617.72" x2="116.56" y2="618.92" stroke="#b02545" stroke-width="1.34" stroke-opacity="0.6"/>
<line x1="101.55" y1="623.52" x2="103.33" y2="628.66" stroke="#b02545" stroke-width="1.4" stroke-opacity="0.6"/>
<line x1="116.03" y1="613.44" x2="118.64" y2="615.61" stroke="#b02545" stroke-width="0.98" stroke-opacity="0.6"/>
<path d="M97.74 631.86A39.96 39.96 0 0 1 77.13 630.05L80.16 621.73A31.11 31.11 0 0 0 96.2 623.13Z" fill="#f7e3e7"/>
<line x1="83.97" y1="623.92" x2="82.95" y2="628.6" stroke="#b02545" stroke-width="1.03" stroke-opacity="0.6"/>
<line x1="95.44" y1="625.9" x2="95.71" y2="627.82" stroke="#b02545" stroke-width="1.29" stroke-opacity="0.6"/>
<line x1="82.81" y1="625.41" x2="82" y2="628.76" stroke="#b02545" stroke-width="0.76" stroke-opacity="0.6"/>
<line x1="87.81" y1="624.17" x2="87.41" y2="628.37" stroke="#b02545" stroke-width="0.86" stroke-opacity="0.6"/>
<line x1="86.6" y1="625.1" x2="86.21" y2="628.16" stroke="#b02545" stroke-width="1.4" stroke-opacity="0.6"/>
<line x1="93.65" y1="624.49" x2="94.13" y2="629.89" stroke="#b02545" stroke-width="1.06" stroke-opacity="0.6"/>
<line x1="81.58" y1="626.28" x2="80.65" y2="629.68" stroke="#b02545" stroke-width="0.87" stroke-opacity="0.6"/>
<line x1="95.18" y1="627.26" x2="95.43" y2="629.27" stroke="#b02545" stroke-width="1.23" stroke-opacity="0.6"/>
<line x1="87.42" y1="624.22" x2="87.05" y2="627.67" stroke="#b02545" stroke-width="0.89" stroke-opacity="0.6"/>
<line x1="87.26" y1="625.82" x2="86.94" y2="628.86" stroke="#b02545" stroke-width="0.92" stroke-opacity="0.6"/>
<line x1="89.61" y1="624.73" x2="89.54" y2="626.8" stroke="#b02545" stroke-width="0.97" stroke-opacity="0.6"/>
<line x1="81.49" y1="624.66" x2="80.04" y2="629.67" stroke="#b02545" stroke-width="0.74" stroke-opacity="0.6"/>
<line x1="80.3" y1="624.24" x2="78.8" y2="628.8" stroke="#b02545" stroke-width="1.31" stroke-opacity="0.6"/>
<line x1="84.81" y1="624.3" x2="83.95" y2="628.86" stroke="#b02545" stroke-width="0.88" stroke-opacity="0.6"/>
<line x1="91.94" y1="624.02" x2="92.06" y2="627.18" stroke="#b02545" stroke-width="1.25" stroke-opacity="0.6"/>
<line x1="91.56" y1="627.58" x2="91.6" y2="629.47" stroke="#b02545" stroke-width="1.32" stroke-opacity="0.6"/>
<line x1="92.56" y1="626.32" x2="92.81" y2="631.09" stroke="#b02545" stroke-width="1.45" stroke-opacity="0.6"/>
<line x1="95.39" y1="624.6" x2="95.96" y2="628.57" stroke="#b02545" stroke-width="1.73" stroke-opacity="0.6"/>
<line x1="95.97" y1="626.07" x2="96.64" y2="630.41" stroke="#b02545" stroke-width="1.56" stroke-opacity="0.6"/>
<line x1="90.64" y1="627.25" x2="90.63" y2="630.7" stroke="#b02545" stroke-width="1.67" stroke-opacity="0.6"/>
<line x1="96.73" y1="627.29" x2="97.28" y2="630.48" stroke="#b02545" stroke-width="1.14" stroke-opacity="0.6"/>
<line x1="94.95" y1="624.66" x2="95.54" y2="629.19" stroke="#b02545" stroke-width="1.42" stroke-opacity="0.6"/>
<line x1="93.93" y1="625.18" x2="94.13" y2="627.3" stroke="#b02545" stroke-width="0.93" stroke-opacity="0.6"/>
<line x1="92.75" y1="625.22" x2="93.08" y2="630.78" stroke="#b02545" stroke-width="1.75" stroke-opacity="0.6"/>
<line x1="82.86" y1="624.93" x2="82.01" y2="628.43" stroke="#b02545" stroke-width="1.52" stroke-opacity="0.6"/>
<line x1="80.57" y1="625.46" x2="79.33" y2="629.44" stroke="#b02545" stroke-width="0.93" stroke-opacity="0.6"/>
<line x1="85.49" y1="626.99" x2="84.76" y2="631.72" stroke="#b02545" stroke-width="0.82" stroke-opacity="0.6"/>
<path d="M70.82 627.11A39.96 39.96 0 0 1 54.88 610.02L62.84 606.14A31.11 31.11 0 0 0 75.25 619.44Z" fill="#faeef1"/>
<line x1="63.67" y1="611.93" x2="62.01" y2="613.12" stroke="#c0506a" stroke-width="0.82" stroke-opacity="0.38"/>
<line x1="59.93" y1="608.34" x2="56.5" y2="610.1" stroke="#c0506a" stroke-width="0.82" stroke-opacity="0.38"/>
<line x1="70.74" y1="621.6" x2="68.23" y2="625.23" stroke="#c0506a" stroke-width="0.82" stroke-opacity="0.38"/>
<line x1="60.26" y1="609.59" x2="56.67" y2="611.61" stroke="#c0506a" stroke-width="0.82" stroke-opacity="0.38"/>
<line x1="61.89" y1="611.08" x2="59.46" y2="612.64" stroke="#c0506a" stroke-width="0.82" stroke-opacity="0.38"/>
<line x1="60.96" y1="611.1" x2="57.37" y2="613.34" stroke="#c0506a" stroke-width="0.82" stroke-opacity="0.38"/>
<line x1="67.65" y1="619.93" x2="65.6" y2="622.36" stroke="#c0506a" stroke-width="0.82" stroke-opacity="0.38"/>
<line x1="62.14" y1="607.63" x2="58.13" y2="609.75" stroke="#c0506a" stroke-width="0.82" stroke-opacity="0.38"/>
<line x1="63.22" y1="610.56" x2="59.76" y2="612.83" stroke="#c0506a" stroke-width="0.82" stroke-opacity="0.38"/>
<line x1="70.69" y1="618.34" x2="68.87" y2="620.68" stroke="#c0506a" stroke-width="0.82" stroke-opacity="0.38"/>
<line x1="69.87" y1="619.24" x2="67.19" y2="622.67" stroke="#c0506a" stroke-width="0.82" stroke-opacity="0.38"/>
<line x1="62.85" y1="613.33" x2="60.64" y2="614.98" stroke="#c0506a" stroke-width="0.82" stroke-opacity="0.38"/>
<line x1="61.4" y1="611.85" x2="58.34" y2="613.86" stroke="#c0506a" stroke-width="0.82" stroke-opacity="0.38"/>
<line x1="59.6" y1="609.08" x2="57.13" y2="610.39" stroke="#c0506a" stroke-width="0.82" stroke-opacity="0.38"/>
<line x1="71.97" y1="621.55" x2="69.72" y2="625.01" stroke="#c0506a" stroke-width="0.82" stroke-opacity="0.38"/>
<line x1="68" y1="618.23" x2="65.26" y2="621.32" stroke="#c0506a" stroke-width="0.82" stroke-opacity="0.38"/>
<line x1="64.02" y1="609.92" x2="61.46" y2="611.59" stroke="#c0506a" stroke-width="0.82" stroke-opacity="0.38"/>
<line x1="74.34" y1="620.39" x2="72.27" y2="623.88" stroke="#c0506a" stroke-width="0.82" stroke-opacity="0.38"/>
<line x1="66.79" y1="617.16" x2="64.72" y2="619.28" stroke="#c0506a" stroke-width="0.82" stroke-opacity="0.38"/>
<line x1="69.1" y1="617.11" x2="67.36" y2="619.09" stroke="#c0506a" stroke-width="0.82" stroke-opacity="0.38"/>
<line x1="61.33" y1="610.41" x2="59.24" y2="611.68" stroke="#c0506a" stroke-width="0.82" stroke-opacity="0.38"/>
<line x1="72.81" y1="620.22" x2="70.78" y2="623.33" stroke="#c0506a" stroke-width="0.82" stroke-opacity="0.38"/>
<line x1="66.28" y1="616.99" x2="63.43" y2="619.85" stroke="#c0506a" stroke-width="0.82" stroke-opacity="0.38"/>
<path d="M53.25 578.83A39.96 39.96 0 0 1 67.88 559.76L72.96 567.02A31.11 31.11 0 0 0 61.57 581.86Z" fill="#faeef1"/>
<line x1="59.12" y1="578.24" x2="57.59" y2="577.56" stroke="#c0506a" stroke-width="0.82" stroke-opacity="0.38"/>
<line x1="69.27" y1="567.9" x2="67.7" y2="566.11" stroke="#c0506a" stroke-width="0.82" stroke-opacity="0.38"/>
<line x1="70.93" y1="565.63" x2="69.6" y2="563.83" stroke="#c0506a" stroke-width="0.82" stroke-opacity="0.38"/>
<line x1="69.19" y1="565.68" x2="66.49" y2="562.32" stroke="#c0506a" stroke-width="0.82" stroke-opacity="0.38"/>
<line x1="62.56" y1="573.59" x2="58.82" y2="571.09" stroke="#c0506a" stroke-width="0.82" stroke-opacity="0.38"/>
<line x1="62.33" y1="570.47" x2="60.64" y2="569.16" stroke="#c0506a" stroke-width="0.82" stroke-opacity="0.38"/>
<line x1="69.44" y1="567.87" x2="67.37" y2="565.47" stroke="#c0506a" stroke-width="0.82" stroke-opacity="0.38"/>
<line x1="60.12" y1="581.33" x2="55.92" y2="579.8" stroke="#c0506a" stroke-width="0.82" stroke-opacity="0.38"/>
<line x1="62.24" y1="571.82" x2="60.36" y2="570.46" stroke="#c0506a" stroke-width="0.82" stroke-opacity="0.38"/>
<line x1="63.47" y1="575.2" x2="60.72" y2="573.46" stroke="#c0506a" stroke-width="0.82" stroke-opacity="0.38"/>
<line x1="69" y1="566.35" x2="67.26" y2="564.27" stroke="#c0506a" stroke-width="0.82" stroke-opacity="0.38"/>
<line x1="69.12" y1="564.25" x2="66.93" y2="561.39" stroke="#c0506a" stroke-width="0.82" stroke-opacity="0.38"/>
<line x1="58.96" y1="579.21" x2="56.27" y2="578.09" stroke="#c0506a" stroke-width="0.82" stroke-opacity="0.38"/>
<line x1="70.93" y1="565.63" x2="68.8" y2="562.74" stroke="#c0506a" stroke-width="0.82" stroke-opacity="0.38"/>
<line x1="65.97" y1="570.05" x2="63.62" y2="567.93" stroke="#c0506a" stroke-width="0.82" stroke-opacity="0.38"/>
<line x1="65" y1="567.87" x2="62.77" y2="565.74" stroke="#c0506a" stroke-width="0.82" stroke-opacity="0.38"/>
<line x1="60.56" y1="573.06" x2="59.11" y2="572.13" stroke="#c0506a" stroke-width="0.82" stroke-opacity="0.38"/>
<line x1="68.1" y1="566.19" x2="65.97" y2="563.72" stroke="#c0506a" stroke-width="0.82" stroke-opacity="0.38"/>
<line x1="62.35" y1="572.08" x2="58.85" y2="569.57" stroke="#c0506a" stroke-width="0.82" stroke-opacity="0.38"/>
<line x1="66.26" y1="567.52" x2="65.1" y2="566.34" stroke="#c0506a" stroke-width="0.82" stroke-opacity="0.38"/>
<line x1="63.06" y1="575.58" x2="59.23" y2="573.24" stroke="#c0506a" stroke-width="0.82" stroke-opacity="0.38"/>
<line x1="70.42" y1="567.15" x2="68.31" y2="564.53" stroke="#c0506a" stroke-width="0.82" stroke-opacity="0.38"/>
<line x1="66.26" y1="571.77" x2="64.15" y2="569.99" stroke="#c0506a" stroke-width="0.82" stroke-opacity="0.38"/>
<line x1="66.85" y1="567.56" x2="65.18" y2="565.82" stroke="#c0506a" stroke-width="0.82" stroke-opacity="0.38"/>
<path d="M68.97 556.59A42.02 42.02 0 0 1 119.73 562.02" fill="none" stroke="#9c9c9c" stroke-width="2.47"/>
<path d="M60.67 542.95A57.99 57.99 0 0 1 130.72 550.44" fill="none" stroke="#808080" stroke-width="2.47" stroke-dasharray="0.5 0.3"/>
<path d="M60.14 542.07A59.02 59.02 0 0 1 131.43 549.69" fill="none" stroke="#707070" stroke-width="0.62"/>
<line x1="75.17" y1="566.8" x2="60.14" y2="542.07" stroke="#7a7a7a" stroke-width="0.72"/>
<line x1="111.5" y1="570.68" x2="131.43" y2="549.69" stroke="#7a7a7a" stroke-width="0.72"/>
<rect x="67.36" y="533.24" width="5.36" height="1.24" fill="#c4c4c4" transform="rotate(-19.5,70.03,533.86)"/>
<rect x="94.73" y="530.02" width="5.36" height="1.24" fill="#c4c4c4" transform="rotate(6.1,97.41,530.64)"/>
<rect x="120.81" y="538.95" width="5.36" height="1.24" fill="#c4c4c4" transform="rotate(31.7,123.49,539.57)"/>
<path d="M54.25 534.45A68.6 68.6 0 0 1 134.89 539.95L132.64 542.63A65.1 65.1 0 0 0 56.11 537.42Z" fill="#bdbdbd"/>
<path d="M47.38 530.49A75.7 75.7 0 0 1 139.46 534.51L137.08 537.35A72 72 0 0 0 49.5 533.52Z" fill="#fff" stroke="#4a4a4a" stroke-width="0.72"/>
<path d="M61.3 523A75.5 75.5 0 0 1 63.74 522.02L64.92 525.09A72.2 72.2 0 0 0 62.59 526.04Z" fill="#000"/>
<path d="M77.69 518.15A75.5 75.5 0 0 1 80.29 517.74L80.75 521A72.2 72.2 0 0 0 78.26 521.39Z" fill="#000"/>
<path d="M101.31 517.74A75.5 75.5 0 0 1 103.91 518.15L103.34 521.39A72.2 72.2 0 0 0 100.85 521Z" fill="#000"/>
<path d="M116.62 521.55A75.5 75.5 0 0 1 119.08 522.5L117.85 525.55A72.2 72.2 0 0 0 115.49 524.65Z" fill="#000"/>
<path d="M55.36 525.84A75.5 75.5 0 0 1 56.52 525.23L58.02 528.17A72.2 72.2 0 0 0 56.9 528.75Z" fill="#b3122e"/>
<path d="M67.12 550.99A47.79 47.79 0 0 1 74.45 547.59L75.23 549.72A45.53 45.53 0 0 0 68.24 552.95Z" fill="#e6e6e6" stroke="#777" stroke-width="0.62"/>
<text transform="translate(67.96,544.62) rotate(334.5)" text-anchor="middle" dominant-baseline="central" font-size="6.8" fill="#4a4a4a" textLength="18.61" lengthAdjust="spacingAndGlyphs" >CASC8</text>
<path d="M91.64 544.1A48.41 48.41 0 0 1 92.83 544.13L92.68 547.63A44.91 44.91 0 0 0 91.58 547.6Z" fill="#111"/>
<text transform="translate(91.54,539.46) rotate(0.8)" text-anchor="middle" dominant-baseline="central" font-size="6.8" fill="#4a4a4a" textLength="12.4" lengthAdjust="spacingAndGlyphs" >MYC</text>
<path d="M94.55 544.86A47.79 47.79 0 0 1 113.24 550.3L112.17 552.3A45.53 45.53 0 0 0 94.37 547.11Z" fill="#e6e6e6" stroke="#777" stroke-width="0.62"/>
<text transform="translate(105.95,541.67) rotate(16.6)" text-anchor="middle" dominant-baseline="central" font-size="6.8" fill="#4a4a4a" textLength="13.96" lengthAdjust="spacingAndGlyphs" >PVT1</text>
<path d="M120.77 563.04A42.02 42.02 0 0 1 132.59 588.11" fill="none" stroke="#9c9c9c" stroke-width="2.47"/>
<path d="M132.16 551.85A57.99 57.99 0 0 1 148.47 586.44" fill="none" stroke="#808080" stroke-width="2.47" stroke-dasharray="0.5 0.3"/>
<path d="M132.9 551.13A59.02 59.02 0 0 1 149.5 586.33" fill="none" stroke="#707070" stroke-width="0.62"/>
<line x1="112.25" y1="571.42" x2="132.9" y2="551.13" stroke="#7a7a7a" stroke-width="0.72"/>
<line x1="120.71" y1="589.36" x2="149.5" y2="586.33" stroke="#7a7a7a" stroke-width="0.72"/>
<rect x="136.64" y="552.94" width="5.36" height="1.24" fill="#c4c4c4" transform="rotate(51.25,139.32,553.56)"/>
<rect x="144.39" y="565.34" width="5.36" height="1.24" fill="#c4c4c4" transform="rotate(64.75,147.07,565.96)"/>
<rect x="149.03" y="579.21" width="5.36" height="1.24" fill="#c4c4c4" transform="rotate(78.25,151.71,579.83)"/>
<path d="M140.15 544.85A68.6 68.6 0 0 1 158.78 583.31L155.31 583.78A65.1 65.1 0 0 0 137.63 547.28Z" fill="#eea3c3"/>
<path d="M142.43 537.13A75.7 75.7 0 0 1 164.96 577.28L161.33 578.02A72 72 0 0 0 139.9 539.84Z" fill="#fff" stroke="#4a4a4a" stroke-width="0.72"/>
<path d="M150.29 546.02A75.5 75.5 0 0 1 151.88 548.12L149.21 550.06A72.2 72.2 0 0 0 147.7 548.05Z" fill="#000"/>
<path d="M158.66 559.4A75.5 75.5 0 0 1 159.77 561.79L156.76 563.13A72.2 72.2 0 0 0 155.7 560.85Z" fill="#000"/>
<path d="M162.6 569.17A75.5 75.5 0 0 1 163 570.43L159.85 571.39A72.2 72.2 0 0 0 159.47 570.19Z" fill="#555"/>
<path d="M127.68 562.1A47.79 47.79 0 0 1 132.19 568.6L130.23 569.74A45.53 45.53 0 0 0 125.93 563.54Z" fill="#eea3c3" stroke="#777" stroke-width="0.62"/>
<text transform="translate(135.29,563.61) rotate(57)" text-anchor="middle" dominant-baseline="central" font-size="6.8" fill="#4a4a4a" textLength="13.86" lengthAdjust="spacingAndGlyphs" >PAX5</text>
<path d="M134.46 573.06A47.79 47.79 0 0 1 137.55 582.56L135.33 583.03A45.53 45.53 0 0 0 132.39 573.98Z" fill="#eea3c3" stroke="#777" stroke-width="0.62"/>
<text transform="translate(141.39,576.55) rotate(72.5)" text-anchor="middle" dominant-baseline="central" font-size="6.8" fill="#4a4a4a" textLength="22.63" lengthAdjust="spacingAndGlyphs" >ZCCHC7</text>
<path d="M132.72 589.57A42.02 42.02 0 0 1 125.84 615.69" fill="none" stroke="#9c9c9c" stroke-width="2.47"/>
<path d="M148.65 588.45A57.99 57.99 0 0 1 139.16 624.51" fill="none" stroke="#808080" stroke-width="2.47" stroke-dasharray="0.5 0.3"/>
<path d="M149.68 588.38A59.02 59.02 0 0 1 140.02 625.07" fill="none" stroke="#707070" stroke-width="0.62"/>
<line x1="120.8" y1="590.4" x2="149.68" y2="588.38" stroke="#7a7a7a" stroke-width="0.72"/>
<line x1="115.88" y1="609.1" x2="140.02" y2="625.07" stroke="#7a7a7a" stroke-width="0.72"/>
<rect x="150.31" y="593.6" width="5.36" height="1.24" fill="#c4c4c4" transform="rotate(-88.42,152.99,594.22)"/>
<rect x="148.28" y="607.72" width="5.36" height="1.24" fill="#c4c4c4" transform="rotate(-75.25,150.96,608.34)"/>
<rect x="143.09" y="621.01" width="5.36" height="1.24" fill="#c4c4c4" transform="rotate(-62.08,145.77,621.63)"/>
<path d="M159.28 588.55A68.6 68.6 0 0 1 148.07 630.26L145.15 628.33A65.1 65.1 0 0 0 155.79 588.75Z" fill="#0d6b48"/>
<path d="M166.05 584.19A75.7 75.7 0 0 1 156.56 630.01L153.34 628.17A72 72 0 0 0 162.36 584.6Z" fill="#fff" stroke="#4a4a4a" stroke-width="0.72"/>
<path d="M166.25 595.13A75.5 75.5 0 0 1 166.12 597.77L162.83 597.54A72.2 72.2 0 0 0 162.96 595.02Z" fill="#000"/>
<path d="M165.15 605.61A75.5 75.5 0 0 1 164.65 608.2L161.43 607.51A72.2 72.2 0 0 0 161.91 605.04Z" fill="#000"/>
<path d="M161.75 618.32A75.5 75.5 0 0 1 161.28 619.56L158.21 618.38A72.2 72.2 0 0 0 158.65 617.19Z" fill="#000"/>
<path d="M139.39 601.07A49.34 49.34 0 0 1 137.98 606.92L133.84 605.66A45.01 45.01 0 0 0 135.13 600.32Z" fill="#0d6b48" stroke="#333" stroke-opacity="0.45" stroke-width="0.52"/>
<text transform="translate(141.79,607.12) rotate(-74)" text-anchor="middle" dominant-baseline="central" font-size="6.8" fill="#4a4a4a" textLength="17.68" lengthAdjust="spacingAndGlyphs" >BCL7A</text>
<path d="M125.01 616.9A42.02 42.02 0 0 1 102.74 632.79" fill="none" stroke="#9c9c9c" stroke-width="2.47"/>
<path d="M138.01 626.17A57.99 57.99 0 0 1 107.27 648.1" fill="none" stroke="#808080" stroke-width="2.47" stroke-dasharray="0.5 0.3"/>
<path d="M138.85 626.77A59.02 59.02 0 0 1 107.56 649.09" fill="none" stroke="#707070" stroke-width="0.62"/>
<line x1="115.29" y1="609.97" x2="138.85" y2="626.77" stroke="#7a7a7a" stroke-width="0.72"/>
<line x1="99.34" y1="621.34" x2="107.56" y2="649.09" stroke="#7a7a7a" stroke-width="0.72"/>
<rect x="134.96" y="632.83" width="5.36" height="1.24" fill="#c4c4c4" transform="rotate(-48.83,137.63,633.45)"/>
<rect x="124.25" y="642.53" width="5.36" height="1.24" fill="#c4c4c4" transform="rotate(-35.5,126.93,643.15)"/>
<rect x="111.59" y="649.5" width="5.36" height="1.24" fill="#c4c4c4" transform="rotate(-22.17,114.27,650.11)"/>
<path d="M145.87 633.4A68.6 68.6 0 0 1 109.71 658.44L108.74 655.07A65.1 65.1 0 0 0 143.06 631.31Z" fill="#3aa935"/>
<path d="M152.81 635.92A75.7 75.7 0 0 1 115.7 663.99L114.48 660.49A72 72 0 0 0 149.78 633.8Z" fill="#fff" stroke="#4a4a4a" stroke-width="0.72"/>
<path d="M146.91 643.02A75.5 75.5 0 0 1 145.11 644.95L142.74 642.66A72.2 72.2 0 0 0 144.46 640.81Z" fill="#000"/>
<path d="M137.28 651.99A75.5 75.5 0 0 1 135.18 653.58L133.24 650.91A72.2 72.2 0 0 0 135.25 649.4Z" fill="#000"/>
<path d="M128.55 657.88A75.5 75.5 0 0 1 126.24 659.16L124.7 656.25A72.2 72.2 0 0 0 126.9 655.03Z" fill="#000"/>
<path d="M128.59 624.21A49.34 49.34 0 0 1 107.67 638.86L106.19 634.8A45.01 45.01 0 0 0 125.28 621.43Z" fill="#3aa935" stroke="#333" stroke-opacity="0.45" stroke-width="0.52"/>
<text transform="translate(116.52,638.89) rotate(-29)" text-anchor="middle" dominant-baseline="central" font-size="6.8" fill="#4a4a4a" textLength="13.64" lengthAdjust="spacingAndGlyphs" >IGHV</text>
<text transform="translate(128.96,629.35) rotate(-46)" text-anchor="middle" dominant-baseline="central" font-size="6.8" fill="#4a4a4a" textLength="12.71" lengthAdjust="spacingAndGlyphs" >IGHJ</text>
<path d="M101.32 633.19A42.02 42.02 0 0 1 73.71 630.89" fill="none" stroke="#9c9c9c" stroke-width="2.47"/>
<path d="M105.32 648.64A57.99 57.99 0 0 1 67.21 645.48" fill="none" stroke="#808080" stroke-width="2.47" stroke-dasharray="0.5 0.3"/>
<path d="M105.58 649.64A59.02 59.02 0 0 1 66.79 646.42" fill="none" stroke="#707070" stroke-width="0.62"/>
<line x1="98.33" y1="621.62" x2="105.58" y2="649.64" stroke="#7a7a7a" stroke-width="0.72"/>
<line x1="78.57" y1="619.98" x2="66.79" y2="646.42" stroke="#7a7a7a" stroke-width="0.72"/>
<rect x="97.59" y="653.37" width="5.36" height="1.24" fill="#c4c4c4" transform="rotate(-8.75,100.26,653.99)"/>
<rect x="82.97" y="653.88" width="5.36" height="1.24" fill="#c4c4c4" transform="rotate(4.75,85.65,654.5)"/>
<rect x="68.64" y="650.96" width="5.36" height="1.24" fill="#c4c4c4" transform="rotate(18.25,71.32,651.58)"/>
<path d="M105.06 659.6A68.6 68.6 0 0 1 63.34 655.36L64.74 652.15A65.1 65.1 0 0 0 104.33 656.17Z" fill="#f39a1e"/>
<path d="M106.54 666.55A75.7 75.7 0 0 1 60.01 661.66L61.52 658.27A72 72 0 0 0 105.77 662.92Z" fill="#fff" stroke="#4a4a4a" stroke-width="0.72"/>
<path d="M96.07 667.82A75.5 75.5 0 0 1 93.43 667.95L93.32 664.66A72.2 72.2 0 0 0 95.84 664.53Z" fill="#b3122e"/>
<path d="M77.69 666.85A75.5 75.5 0 0 1 75.1 666.35L75.79 663.13A72.2 72.2 0 0 0 78.26 663.61Z" fill="#000"/>
<path d="M97.67 641.36A49.34 49.34 0 0 1 75.55 639.42L76.89 635.31A45.01 45.01 0 0 0 97.06 637.07Z" fill="#f39a1e" stroke="#333" stroke-opacity="0.45" stroke-width="0.52"/>
<text transform="translate(87.1,645.42) rotate(4)" text-anchor="middle" dominant-baseline="central" font-size="6.8" fill="#4a4a4a" textLength="8.99" lengthAdjust="spacingAndGlyphs" >IGL</text>
<path d="M72.38 630.27A42.02 42.02 0 0 1 52.62 610.06" fill="none" stroke="#9c9c9c" stroke-width="2.47"/>
<path d="M65.38 644.62A57.99 57.99 0 0 1 38.12 616.73" fill="none" stroke="#808080" stroke-width="2.47" stroke-dasharray="0.5 0.3"/>
<path d="M64.93 645.55A59.02 59.02 0 0 1 37.18 617.16" fill="none" stroke="#707070" stroke-width="0.62"/>
<line x1="77.62" y1="619.53" x2="64.93" y2="645.55" stroke="#7a7a7a" stroke-width="0.72"/>
<line x1="63.48" y1="605.07" x2="37.18" y2="617.16" stroke="#7a7a7a" stroke-width="0.72"/>
<rect x="55.26" y="644.71" width="5.36" height="1.24" fill="#c4c4c4" transform="rotate(31.88,57.94,645.33)"/>
<rect x="43.64" y="635.37" width="5.36" height="1.24" fill="#c4c4c4" transform="rotate(45.65,46.31,635.99)"/>
<rect x="34.56" y="623.53" width="5.36" height="1.24" fill="#c4c4c4" transform="rotate(59.42,37.24,624.15)"/>
<path d="M59.44 653.51A68.6 68.6 0 0 1 29.36 623L32.49 621.44A65.1 65.1 0 0 0 61.04 650.4Z" fill="#2aa6dc"/>
<path d="M56.55 660.01A75.7 75.7 0 0 1 23.35 626.87L26.65 625.19A72 72 0 0 0 58.23 656.71Z" fill="#fff" stroke="#4a4a4a" stroke-width="0.72"/>
<path d="M48.58 655.09A75.5 75.5 0 0 1 46.42 653.58L48.36 650.91A72.2 72.2 0 0 0 50.42 652.36Z" fill="#000"/>
<path d="M38.35 646.81A75.5 75.5 0 0 1 36.49 644.95L38.86 642.66A72.2 72.2 0 0 0 40.64 644.44Z" fill="#000"/>
<path d="M28.21 634.72A75.5 75.5 0 0 1 26.77 632.51L29.57 630.76A72.2 72.2 0 0 0 30.94 632.88Z" fill="#555"/>
<path d="M61.8 632.41A49.34 49.34 0 0 1 49.9 620.09L53.48 617.67A45.01 45.01 0 0 0 64.34 628.91Z" fill="#2aa6dc" stroke="#333" stroke-opacity="0.45" stroke-width="0.52"/>
<text transform="translate(53.29,630.01) rotate(45)" text-anchor="middle" dominant-baseline="central" font-size="6.8" fill="#4a4a4a" textLength="9.61" lengthAdjust="spacingAndGlyphs" >IGK</text>
<path d="M52.03 608.72A42.02 42.02 0 0 1 50.36 581.06" fill="none" stroke="#9c9c9c" stroke-width="2.47"/>
<path d="M37.3 614.88A57.99 57.99 0 0 1 35 576.71" fill="none" stroke="#808080" stroke-width="2.47" stroke-dasharray="0.5 0.3"/>
<path d="M36.35 615.28A59.02 59.02 0 0 1 34.01 576.43" fill="none" stroke="#707070" stroke-width="0.62"/>
<line x1="63.05" y1="604.11" x2="36.35" y2="615.28" stroke="#7a7a7a" stroke-width="0.72"/>
<line x1="61.86" y1="584.31" x2="34.01" y2="576.43" stroke="#7a7a7a" stroke-width="0.72"/>
<rect x="28.61" y="610.02" width="5.36" height="1.24" fill="#c4c4c4" transform="rotate(73.05,31.29,610.64)"/>
<rect x="26.02" y="595.63" width="5.36" height="1.24" fill="#c4c4c4" transform="rotate(86.55,28.7,596.24)"/>
<rect x="26.86" y="581.03" width="5.36" height="1.24" fill="#c4c4c4" transform="rotate(280.05,29.54,581.64)"/>
<path d="M27.2 618.2A68.6 68.6 0 0 1 24.39 575.32L27.78 576.2A65.1 65.1 0 0 0 30.44 616.89Z" fill="#5a2a6e"/>
<path d="M20.12 619.63A75.7 75.7 0 0 1 42.44 534.25L44.81 537.11A72 72 0 0 0 23.59 618.3Z" fill="#fff" stroke="#4a4a4a" stroke-width="0.72"/>
<path d="M16.45 605.61A75.5 75.5 0 0 1 16.04 603.01L19.3 602.55A72.2 72.2 0 0 0 19.69 605.04Z" fill="#000"/>
<path d="M15.3 592.5A75.5 75.5 0 0 1 15.35 589.87L18.64 589.98A72.2 72.2 0 0 0 18.6 592.5Z" fill="#000"/>
<path d="M19.85 566.68A75.5 75.5 0 0 1 20.8 564.22L23.85 565.45A72.2 72.2 0 0 0 22.95 567.81Z" fill="#b3122e"/>
<path d="M25.42 554.75A75.5 75.5 0 0 1 26.77 552.49L29.57 554.24A72.2 72.2 0 0 0 28.27 556.4Z" fill="#000"/>
<path d="M32.96 543.97A75.5 75.5 0 0 1 34.69 541.98L37.14 544.19A72.2 72.2 0 0 0 35.49 546.09Z" fill="#000"/>
<path d="M41.94 599.37A49.34 49.34 0 0 1 41.49 590.78L45.82 590.93A45.01 45.01 0 0 0 46.23 598.76Z" fill="#5a2a6e" stroke="#333" stroke-opacity="0.45" stroke-width="0.52"/>
<text transform="translate(37.79,594.35) rotate(88)" text-anchor="middle" dominant-baseline="central" font-size="6.8" fill="#4a4a4a" textLength="13.96" lengthAdjust="spacingAndGlyphs" >BTLA</text>
<path d="M50.79 579.65A42.02 42.02 0 0 1 67.73 557.38" fill="none" stroke="#9c9c9c" stroke-width="2.47"/>
<path d="M35.59 574.77A57.99 57.99 0 0 1 58.96 544.03" fill="none" stroke="#808080" stroke-width="2.47" stroke-dasharray="0.5 0.3"/>
<path d="M34.61 574.46A59.02 59.02 0 0 1 58.4 543.17" fill="none" stroke="#707070" stroke-width="0.62"/>
<line x1="62.16" y1="583.31" x2="34.61" y2="574.46" stroke="#7a7a7a" stroke-width="0.72"/>
<line x1="74.29" y1="567.36" x2="58.4" y2="543.17" stroke="#7a7a7a" stroke-width="0.72"/>
<rect x="31.12" y="566.96" width="5.36" height="1.24" fill="#c4c4c4" transform="rotate(293.62,33.8,567.58)"/>
<rect x="38.6" y="554.23" width="5.36" height="1.24" fill="#c4c4c4" transform="rotate(307.25,41.28,554.84)"/>
<rect x="48.87" y="543.61" width="5.36" height="1.24" fill="#c4c4c4" transform="rotate(320.88,51.55,544.23)"/>
<path d="M25.63 571.07A68.6 68.6 0 0 1 50.58 536.93L52.63 539.77A65.1 65.1 0 0 0 28.96 572.17Z" fill="#d6006f"/>
<path d="M45.31 575.94A48.41 48.41 0 0 1 45.79 574.68L49.05 575.97A44.91 44.91 0 0 0 48.6 577.14Z" fill="#111"/>
<text transform="translate(42.15,571.35) rotate(293.5)" text-anchor="middle" dominant-baseline="central" font-size="6.8" fill="#4a4a4a" textLength="18.3" lengthAdjust="spacingAndGlyphs" >CLDN1</text>
<path d="M48.51 567.09A49.34 49.34 0 0 1 60.43 553.62L63.09 557.03A45.01 45.01 0 0 0 52.22 569.32Z" fill="#d6006f" stroke="#333" stroke-opacity="0.45" stroke-width="0.52"/>
<text transform="translate(51.38,557.01) rotate(312)" text-anchor="middle" dominant-baseline="central" font-size="6.8" fill="#4a4a4a" textLength="10.55" lengthAdjust="spacingAndGlyphs" >LPP</text>
<circle cx="90.8" cy="592.5" r="30.08" fill="none" stroke="#7a7a7a" stroke-width="0.82"/>
<path d="M88.74 563.1Q86.91 587.15 63.47 581.46" fill="none" stroke="#d8438f" stroke-width="0.7" stroke-opacity="0.75"/>
<path d="M90.8 563.02Q87.24 586.92 64.09 580.04" fill="none" stroke="#d8438f" stroke-width="0.7" stroke-opacity="0.75"/>
<path d="M92.34 563.06Q87.54 586.74 64.77 578.66" fill="none" stroke="#d8438f" stroke-width="0.7" stroke-opacity="0.75"/>
<path d="M93.88 563.19Q87.8 586.6 65.27 577.76" fill="none" stroke="#d8438f" stroke-width="0.7" stroke-opacity="0.75"/>
<path d="M91.83 563.04Q87.05 587.05 62.93 582.9" fill="none" stroke="#d8438f" stroke-width="0.7" stroke-opacity="0.75"/>
<path d="M94.9 563.31Q88.06 586.48 66.08 576.45" fill="none" stroke="#d8438f" stroke-width="0.7" stroke-opacity="0.75"/>
<path d="M89.77 563.04Q86.12 587.82 61.34 591.47" fill="none" stroke="#b070a0" stroke-width="0.6" stroke-opacity="0.7"/>
<path d="M92.86 563.1Q96.98 590.13 112 612.98" fill="none" stroke="#4cb843" stroke-width="0.7" stroke-opacity="0.8"/>
<path d="M93.88 563.19Q97.04 590.29 111.64 613.34" fill="none" stroke="#4cb843" stroke-width="0.7" stroke-opacity="0.8"/>
<path d="M94.9 563.31Q97.09 590.46 111.28 613.7" fill="none" stroke="#4cb843" stroke-width="0.7" stroke-opacity="0.8"/>
<path d="M95.92 563.47Q97.14 590.59 111.09 613.88" fill="none" stroke="#4cb843" stroke-width="0.7" stroke-opacity="0.8"/>
<path d="M96.93 563.67Q97.18 590.73 110.9 614.06" fill="none" stroke="#4cb843" stroke-width="0.7" stroke-opacity="0.8"/>
<path d="M97.93 563.9Q97.22 590.9 110.52 614.4" fill="none" stroke="#4cb843" stroke-width="0.7" stroke-opacity="0.8"/>
<path d="M98.92 564.17Q97.26 591.07 110.14 614.75" fill="none" stroke="#4cb843" stroke-width="0.7" stroke-opacity="0.8"/>
<path d="M99.91 564.47Q97.3 591.24 109.75 615.08" fill="none" stroke="#4cb843" stroke-width="0.7" stroke-opacity="0.8"/>
<path d="M103.26 565.79Q97.07 594.6 84.67 621.33" fill="none" stroke="#f2e08a" stroke-width="0.7" stroke-opacity="0.9"/>
<path d="M77.42 566.24Q84.73 595.14 100.88 620.2" fill="none" stroke="#7fd3c8" stroke-width="0.6" stroke-opacity="0.8"/>
<path d="M96.93 563.67Q94.78 587.22 116.83 578.66" fill="none" stroke="#f0b8d0" stroke-width="0.5" stroke-opacity="0.7"/>
<text transform="translate(92.21,511.51) rotate(1)" text-anchor="middle" dominant-baseline="central" font-size="7" fill="#333" >8</text>
<text transform="translate(160.95,552) rotate(60)" text-anchor="middle" dominant-baseline="central" font-size="7" fill="#333" >9</text>
<text transform="translate(170.37,607.68) rotate(-79.2)" text-anchor="middle" dominant-baseline="central" font-size="7" fill="#333" >12</text>
<text transform="translate(139.89,656.93) rotate(-37.3)" text-anchor="middle" dominant-baseline="central" font-size="7" fill="#333" >14</text>
<text transform="translate(85.29,673.31) rotate(3.9)" text-anchor="middle" dominant-baseline="central" font-size="7" fill="#333" >22</text>
<text transform="translate(33.13,649.37) rotate(45.4)" text-anchor="middle" dominant-baseline="central" font-size="7" fill="#333" >2</text>
<text transform="translate(12.21,572.9) rotate(284)" text-anchor="middle" dominant-baseline="central" font-size="7" fill="#333" >3</text>
<text x="256.9" y="545.6" text-anchor="middle" font-size="9.4" fill="#333" textLength="69.2" lengthAdjust="spacingAndGlyphs">HGBCL-DH-<tspan font-style="italic">BCL6</tspan></text>
<line x1="216.9" y1="551.3" x2="216.9" y2="615.3" stroke="#222" stroke-width="1.1"/>
<line x1="216.4" y1="614.8" x2="295.8" y2="614.8" stroke="#222" stroke-width="1.1"/>
<line x1="214.3" y1="611.8" x2="216.9" y2="611.8" stroke="#222" stroke-width="0.8"/>
<text x="211" y="614.1" text-anchor="end" font-size="6.4" fill="#444">0</text>
<line x1="214.3" y1="598.2" x2="216.9" y2="598.2" stroke="#222" stroke-width="0.8"/>
<text x="211" y="600.5" text-anchor="end" font-size="6.4" fill="#444">20</text>
<line x1="214.3" y1="584.6" x2="216.9" y2="584.6" stroke="#222" stroke-width="0.8"/>
<text x="211" y="586.9" text-anchor="end" font-size="6.4" fill="#444">40</text>
<line x1="214.3" y1="571" x2="216.9" y2="571" stroke="#222" stroke-width="0.8"/>
<text x="211" y="573.3" text-anchor="end" font-size="6.4" fill="#444">60</text>
<line x1="214.3" y1="557.4" x2="216.9" y2="557.4" stroke="#222" stroke-width="0.8"/>
<text x="211" y="559.7" text-anchor="end" font-size="6.4" fill="#444">80</text>
<rect x="219" y="567.19" width="13.6" height="44.61" fill="#3cae36"/>
<line x1="225.8" y1="614.8" x2="225.8" y2="616.8" stroke="#222" stroke-width="0.8"/>
<text transform="translate(228.4,625) rotate(-45)" text-anchor="end" font-size="7.4" fill="#333" textLength="10.55" lengthAdjust="spacingAndGlyphs">IGH</text>
<line x1="241.3" y1="614.8" x2="241.3" y2="616.8" stroke="#222" stroke-width="0.8"/>
<text transform="translate(243.9,625) rotate(-45)" text-anchor="end" font-size="7.4" fill="#333" textLength="10.22" lengthAdjust="spacingAndGlyphs">IGK</text>
<rect x="250" y="610.1" width="13.6" height="1.7" fill="#f6921e"/>
<line x1="256.8" y1="614.8" x2="256.8" y2="616.8" stroke="#222" stroke-width="0.8"/>
<text transform="translate(259.4,625) rotate(-45)" text-anchor="end" font-size="7.4" fill="#333" textLength="9.56" lengthAdjust="spacingAndGlyphs">IGL</text>
<rect x="265.5" y="599.56" width="13.6" height="12.24" fill="#e5007d"/>
<line x1="272.3" y1="614.8" x2="272.3" y2="616.8" stroke="#222" stroke-width="0.8"/>
<text transform="translate(274.9,625) rotate(-45)" text-anchor="end" font-size="7.4" fill="#333" textLength="14.84" lengthAdjust="spacingAndGlyphs"><tspan font-style="italic">BCL6</tspan></text>
<rect x="281" y="603.64" width="13.6" height="8.16" fill="#c6c6c6"/>
<line x1="287.8" y1="614.8" x2="287.8" y2="616.8" stroke="#222" stroke-width="0.8"/>
<text transform="translate(290.4,625) rotate(-45)" text-anchor="end" font-size="7.4" fill="#333" textLength="14.84" lengthAdjust="spacingAndGlyphs">Other</text>
<text transform="translate(296,630.6) rotate(-45)" text-anchor="end" font-size="7.4" fill="#333" textLength="20.45" lengthAdjust="spacingAndGlyphs">Non–IG</text>
<text transform="translate(195.8,583.3) rotate(-90)" text-anchor="middle" font-size="8.2" fill="#333" textLength="21" lengthAdjust="spacingAndGlyphs">Percent</text>
<text x="439.5" y="531" text-anchor="middle" font-size="9.4" fill="#333" textLength="69" lengthAdjust="spacingAndGlyphs">HGBCL-DH-<tspan font-style="italic">BCL6</tspan></text>
<line x1="366.2" y1="536.5" x2="366.2" y2="660.9" stroke="#222" stroke-width="1.1"/>
<line x1="365.7" y1="660.4" x2="513.3" y2="660.4" stroke="#222" stroke-width="1.1"/>
<line x1="364" y1="541.4" x2="366.2" y2="541.4" stroke="#222" stroke-width="0.8"/>
<text x="361" y="543.6" text-anchor="end" font-size="6.4" fill="#444">16</text>
<line x1="364" y1="566" x2="366.2" y2="566" stroke="#222" stroke-width="0.8"/>
<text x="361" y="568.2" text-anchor="end" font-size="6.4" fill="#444">14</text>
<line x1="364" y1="590.6" x2="366.2" y2="590.6" stroke="#222" stroke-width="0.8"/>
<text x="361" y="592.8" text-anchor="end" font-size="6.4" fill="#444">12</text>
<line x1="364" y1="615.2" x2="366.2" y2="615.2" stroke="#222" stroke-width="0.8"/>
<text x="361" y="617.4" text-anchor="end" font-size="6.4" fill="#444">10</text>
<line x1="364" y1="639.8" x2="366.2" y2="639.8" stroke="#222" stroke-width="0.8"/>
<text x="361" y="642" text-anchor="end" font-size="6.4" fill="#444">8</text>
<line x1="364.8" y1="553.7" x2="366.2" y2="553.7" stroke="#222" stroke-width="0.7"/>
<line x1="364.8" y1="578.3" x2="366.2" y2="578.3" stroke="#222" stroke-width="0.7"/>
<line x1="364.8" y1="602.9" x2="366.2" y2="602.9" stroke="#222" stroke-width="0.7"/>
<line x1="364.8" y1="627.5" x2="366.2" y2="627.5" stroke="#222" stroke-width="0.7"/>
<line x1="364.8" y1="652.1" x2="366.2" y2="652.1" stroke="#222" stroke-width="0.7"/>
<line x1="382.9" y1="551" x2="382.9" y2="614.6" stroke="#5fb04e" stroke-width="0.9"/>
<rect x="372.5" y="561.9" width="20.8" height="26.9" fill="#a9d38f" stroke="#5fb04e" stroke-width="0.3"/>
<circle cx="387.1" cy="570.18" r="1.0" fill="#3c9a3c"/>
<circle cx="383.61" cy="577.82" r="1.0" fill="#3c9a3c"/>
<circle cx="390.55" cy="591.28" r="1.0" fill="#3c9a3c"/>
<circle cx="387.78" cy="592.91" r="1.0" fill="#3c9a3c"/>
<circle cx="380.99" cy="609.82" r="1.0" fill="#3c9a3c"/>
<circle cx="386.26" cy="593.76" r="1.0" fill="#3c9a3c"/>
<circle cx="379.34" cy="562.55" r="1.0" fill="#3c9a3c"/>
<circle cx="384.1" cy="601.73" r="1.0" fill="#3c9a3c"/>
<circle cx="387.6" cy="573.49" r="1.0" fill="#3c9a3c"/>
<circle cx="377.14" cy="583.44" r="1.0" fill="#3c9a3c"/>
<line x1="372.5" y1="571.2" x2="393.3" y2="571.2" stroke="#2a9a3a" stroke-width="1.6"/>
<line x1="411.5" y1="593.5" x2="411.5" y2="607.9" stroke="#555" stroke-width="0.9"/>
<rect x="401.15" y="597.3" width="20.7" height="5.4" fill="#f7a6cb" stroke="#e0197d" stroke-width="0.3"/>
<circle cx="417.54" cy="596.11" r="1.0" fill="#d0106f"/>
<circle cx="415.31" cy="596.22" r="1.0" fill="#d0106f"/>
<circle cx="408.49" cy="594.7" r="1.0" fill="#d0106f"/>
<circle cx="408.26" cy="598.98" r="1.0" fill="#d0106f"/>
<circle cx="418.97" cy="606.51" r="1.0" fill="#d0106f"/>
<circle cx="406.49" cy="598.02" r="1.0" fill="#d0106f"/>
<line x1="401.15" y1="599.6" x2="421.85" y2="599.6" stroke="#c0006a" stroke-width="1.6"/>
<line x1="439.8" y1="592" x2="439.8" y2="609.8" stroke="#555" stroke-width="0.9"/>
<rect x="429.2" y="592" width="21.2" height="8.8" fill="#c6c0ec" stroke="#8d84c8" stroke-width="0.3"/>
<circle cx="446.9" cy="592.96" r="1.0" fill="#7a6bb8"/>
<circle cx="436.93" cy="596.57" r="1.0" fill="#7a6bb8"/>
<circle cx="433.53" cy="593.9" r="1.0" fill="#7a6bb8"/>
<line x1="429.2" y1="592.8" x2="450.4" y2="592.8" stroke="#8a7fd0" stroke-width="1.6"/>
<line x1="467.7" y1="586.7" x2="467.7" y2="622.3" stroke="#3a3a3a" stroke-width="0.9"/>
<rect x="457.1" y="591.5" width="21.2" height="21.2" fill="#80a995" stroke="#3b6e58" stroke-width="0.3"/>
<circle cx="466" cy="598.48" r="1.0" fill="#1b4e3a"/>
<circle cx="475.12" cy="595.87" r="1.0" fill="#1b4e3a"/>
<circle cx="462.96" cy="609.99" r="1.0" fill="#1b4e3a"/>
<circle cx="460.4" cy="585.8" r="1.0" fill="#1b4e3a"/>
<line x1="457.1" y1="601.2" x2="478.3" y2="601.2" stroke="#1d6b47" stroke-width="1.6"/>
<path d="M495.2 581L493.5 588L491.5 595L489 600L485.5 603L485.5 617L489.5 621L492 628L494 636L495.2 642L496.8 642L498 636L500 628L502.5 621L506.5 617L506.5 603L503 600L500.5 595L498.5 588L496.8 581Z" fill="#d8d8d8"/>
<circle cx="499.88" cy="618.87" r="0.95" fill="#dcdcdc" stroke="#a0a0a0" stroke-width="0.35"/>
<circle cx="498.74" cy="629.21" r="0.95" fill="#dcdcdc" stroke="#a0a0a0" stroke-width="0.35"/>
<circle cx="499.51" cy="625.89" r="0.95" fill="#dcdcdc" stroke="#a0a0a0" stroke-width="0.35"/>
<circle cx="495.95" cy="583.24" r="0.95" fill="#dcdcdc" stroke="#a0a0a0" stroke-width="0.35"/>
<circle cx="496.29" cy="638.1" r="0.95" fill="#dcdcdc" stroke="#a0a0a0" stroke-width="0.35"/>
<circle cx="494.83" cy="635.55" r="0.95" fill="#dcdcdc" stroke="#a0a0a0" stroke-width="0.35"/>
<circle cx="490.98" cy="609.64" r="0.95" fill="#dcdcdc" stroke="#a0a0a0" stroke-width="0.35"/>
<circle cx="497.46" cy="614.13" r="0.95" fill="#dcdcdc" stroke="#a0a0a0" stroke-width="0.35"/>
<circle cx="495.71" cy="582.29" r="0.95" fill="#dcdcdc" stroke="#a0a0a0" stroke-width="0.35"/>
<circle cx="500.61" cy="598.27" r="0.95" fill="#dcdcdc" stroke="#a0a0a0" stroke-width="0.35"/>
<circle cx="493.55" cy="627.44" r="0.95" fill="#dcdcdc" stroke="#a0a0a0" stroke-width="0.35"/>
<circle cx="493.78" cy="629.33" r="0.95" fill="#dcdcdc" stroke="#a0a0a0" stroke-width="0.35"/>
<circle cx="489.76" cy="618.55" r="0.95" fill="#dcdcdc" stroke="#a0a0a0" stroke-width="0.35"/>
<circle cx="496.26" cy="581.61" r="0.95" fill="#dcdcdc" stroke="#a0a0a0" stroke-width="0.35"/>
<circle cx="493.93" cy="594.07" r="0.95" fill="#dcdcdc" stroke="#a0a0a0" stroke-width="0.35"/>
<circle cx="496.38" cy="640.45" r="0.95" fill="#dcdcdc" stroke="#a0a0a0" stroke-width="0.35"/>
<circle cx="501.38" cy="598.86" r="0.95" fill="#dcdcdc" stroke="#a0a0a0" stroke-width="0.35"/>
<circle cx="499.52" cy="613.85" r="0.95" fill="#dcdcdc" stroke="#a0a0a0" stroke-width="0.35"/>
<circle cx="499.13" cy="593.79" r="0.95" fill="#dcdcdc" stroke="#a0a0a0" stroke-width="0.35"/>
<circle cx="500.86" cy="622.94" r="0.95" fill="#dcdcdc" stroke="#a0a0a0" stroke-width="0.35"/>
<circle cx="495.35" cy="635.12" r="0.95" fill="#dcdcdc" stroke="#a0a0a0" stroke-width="0.35"/>
<circle cx="489.39" cy="603.17" r="0.95" fill="#dcdcdc" stroke="#a0a0a0" stroke-width="0.35"/>
<circle cx="493.79" cy="590.24" r="0.95" fill="#dcdcdc" stroke="#a0a0a0" stroke-width="0.35"/>
<circle cx="497.28" cy="599.58" r="0.95" fill="#dcdcdc" stroke="#a0a0a0" stroke-width="0.35"/>
<circle cx="496.13" cy="581.7" r="0.95" fill="#dcdcdc" stroke="#a0a0a0" stroke-width="0.35"/>
<circle cx="492.78" cy="601.77" r="0.95" fill="#dcdcdc" stroke="#a0a0a0" stroke-width="0.35"/>
<circle cx="495.89" cy="630.61" r="0.95" fill="#dcdcdc" stroke="#a0a0a0" stroke-width="0.35"/>
<circle cx="495.74" cy="600.45" r="0.95" fill="#dcdcdc" stroke="#a0a0a0" stroke-width="0.35"/>
<circle cx="491.65" cy="623.78" r="0.95" fill="#dcdcdc" stroke="#a0a0a0" stroke-width="0.35"/>
<circle cx="495.43" cy="640.01" r="0.95" fill="#dcdcdc" stroke="#a0a0a0" stroke-width="0.35"/>
<circle cx="498.72" cy="626.49" r="0.95" fill="#dcdcdc" stroke="#a0a0a0" stroke-width="0.35"/>
<circle cx="496.34" cy="582.58" r="0.95" fill="#dcdcdc" stroke="#a0a0a0" stroke-width="0.35"/>
<circle cx="497.55" cy="603.47" r="0.95" fill="#dcdcdc" stroke="#a0a0a0" stroke-width="0.35"/>
<circle cx="495.59" cy="582.04" r="0.95" fill="#dcdcdc" stroke="#a0a0a0" stroke-width="0.35"/>
<circle cx="498.86" cy="592.36" r="0.95" fill="#dcdcdc" stroke="#a0a0a0" stroke-width="0.35"/>
<circle cx="497.75" cy="593.29" r="0.95" fill="#dcdcdc" stroke="#a0a0a0" stroke-width="0.35"/>
<circle cx="497.01" cy="637.28" r="0.95" fill="#dcdcdc" stroke="#a0a0a0" stroke-width="0.35"/>
<circle cx="493.41" cy="602.16" r="0.95" fill="#dcdcdc" stroke="#a0a0a0" stroke-width="0.35"/>
<circle cx="501.46" cy="612.98" r="0.95" fill="#dcdcdc" stroke="#a0a0a0" stroke-width="0.35"/>
<circle cx="496.94" cy="587.98" r="0.95" fill="#dcdcdc" stroke="#a0a0a0" stroke-width="0.35"/>
<circle cx="498.21" cy="629.33" r="0.95" fill="#dcdcdc" stroke="#a0a0a0" stroke-width="0.35"/>
<circle cx="496.76" cy="583.7" r="0.95" fill="#dcdcdc" stroke="#a0a0a0" stroke-width="0.35"/>
<circle cx="495.47" cy="586.97" r="0.95" fill="#dcdcdc" stroke="#a0a0a0" stroke-width="0.35"/>
<circle cx="503.32" cy="618.15" r="0.95" fill="#dcdcdc" stroke="#a0a0a0" stroke-width="0.35"/>
<circle cx="503.31" cy="601.9" r="0.95" fill="#dcdcdc" stroke="#a0a0a0" stroke-width="0.35"/>
<circle cx="492.29" cy="614.21" r="0.95" fill="#dcdcdc" stroke="#a0a0a0" stroke-width="0.35"/>
<circle cx="491.49" cy="600.51" r="0.95" fill="#dcdcdc" stroke="#a0a0a0" stroke-width="0.35"/>
<circle cx="494.97" cy="586.19" r="0.95" fill="#dcdcdc" stroke="#a0a0a0" stroke-width="0.35"/>
<circle cx="501.2" cy="622.85" r="0.95" fill="#dcdcdc" stroke="#a0a0a0" stroke-width="0.35"/>
<circle cx="493.46" cy="591.19" r="0.95" fill="#dcdcdc" stroke="#a0a0a0" stroke-width="0.35"/>
<circle cx="496.03" cy="640.7" r="0.95" fill="#dcdcdc" stroke="#a0a0a0" stroke-width="0.35"/>
<circle cx="490.8" cy="605.85" r="0.95" fill="#dcdcdc" stroke="#a0a0a0" stroke-width="0.35"/>
<circle cx="502.37" cy="617.14" r="0.95" fill="#dcdcdc" stroke="#a0a0a0" stroke-width="0.35"/>
<circle cx="494.45" cy="608.84" r="0.95" fill="#dcdcdc" stroke="#a0a0a0" stroke-width="0.35"/>
<circle cx="496.94" cy="584.84" r="0.95" fill="#dcdcdc" stroke="#a0a0a0" stroke-width="0.35"/>
<circle cx="495.99" cy="583.46" r="0.95" fill="#dcdcdc" stroke="#a0a0a0" stroke-width="0.35"/>
<circle cx="494.19" cy="631.81" r="0.95" fill="#dcdcdc" stroke="#a0a0a0" stroke-width="0.35"/>
<circle cx="499.89" cy="625.4" r="0.95" fill="#dcdcdc" stroke="#a0a0a0" stroke-width="0.35"/>
<circle cx="500.36" cy="619.32" r="0.95" fill="#dcdcdc" stroke="#a0a0a0" stroke-width="0.35"/>
<circle cx="495.75" cy="587.9" r="0.95" fill="#dcdcdc" stroke="#a0a0a0" stroke-width="0.35"/>
<circle cx="497.79" cy="590.45" r="0.95" fill="#dcdcdc" stroke="#a0a0a0" stroke-width="0.35"/>
<circle cx="495.44" cy="599.19" r="0.95" fill="#dcdcdc" stroke="#a0a0a0" stroke-width="0.35"/>
<circle cx="496.22" cy="641.46" r="0.95" fill="#dcdcdc" stroke="#a0a0a0" stroke-width="0.35"/>
<circle cx="495.95" cy="640.06" r="0.95" fill="#dcdcdc" stroke="#a0a0a0" stroke-width="0.35"/>
<circle cx="500.54" cy="610.79" r="0.95" fill="#dcdcdc" stroke="#a0a0a0" stroke-width="0.35"/>
<circle cx="491.86" cy="610.24" r="0.95" fill="#dcdcdc" stroke="#a0a0a0" stroke-width="0.35"/>
<circle cx="489" cy="605.73" r="0.95" fill="#dcdcdc" stroke="#a0a0a0" stroke-width="0.35"/>
<circle cx="505.67" cy="604.12" r="0.95" fill="#dcdcdc" stroke="#a0a0a0" stroke-width="0.35"/>
<circle cx="496.2" cy="639.09" r="0.95" fill="#dcdcdc" stroke="#a0a0a0" stroke-width="0.35"/>
<circle cx="492.8" cy="611.46" r="0.95" fill="#dcdcdc" stroke="#a0a0a0" stroke-width="0.35"/>
<circle cx="495.26" cy="586.85" r="0.95" fill="#dcdcdc" stroke="#a0a0a0" stroke-width="0.35"/>
<circle cx="498.42" cy="628.42" r="0.95" fill="#dcdcdc" stroke="#a0a0a0" stroke-width="0.35"/>
<circle cx="501.66" cy="603.18" r="0.95" fill="#dcdcdc" stroke="#a0a0a0" stroke-width="0.35"/>
<circle cx="497.32" cy="627.99" r="0.95" fill="#dcdcdc" stroke="#a0a0a0" stroke-width="0.35"/>
<circle cx="499" cy="621.34" r="0.95" fill="#dcdcdc" stroke="#a0a0a0" stroke-width="0.35"/>
<circle cx="500.05" cy="603.31" r="0.95" fill="#dcdcdc" stroke="#a0a0a0" stroke-width="0.35"/>
<circle cx="495.84" cy="598.35" r="0.95" fill="#dcdcdc" stroke="#a0a0a0" stroke-width="0.35"/>
<circle cx="497.34" cy="627.68" r="0.95" fill="#dcdcdc" stroke="#a0a0a0" stroke-width="0.35"/>
<circle cx="501.32" cy="599.13" r="0.95" fill="#dcdcdc" stroke="#a0a0a0" stroke-width="0.35"/>
<circle cx="497.04" cy="620.48" r="0.95" fill="#dcdcdc" stroke="#a0a0a0" stroke-width="0.35"/>
<circle cx="496.05" cy="582.19" r="0.95" fill="#dcdcdc" stroke="#a0a0a0" stroke-width="0.35"/>
<circle cx="497.6" cy="596.54" r="0.95" fill="#dcdcdc" stroke="#a0a0a0" stroke-width="0.35"/>
<circle cx="502.27" cy="609.28" r="0.95" fill="#dcdcdc" stroke="#a0a0a0" stroke-width="0.35"/>
<circle cx="499.9" cy="620.35" r="0.95" fill="#dcdcdc" stroke="#a0a0a0" stroke-width="0.35"/>
<circle cx="498.64" cy="602.37" r="0.95" fill="#dcdcdc" stroke="#a0a0a0" stroke-width="0.35"/>
<circle cx="498.75" cy="625.77" r="0.95" fill="#dcdcdc" stroke="#a0a0a0" stroke-width="0.35"/>
<circle cx="502.39" cy="602.5" r="0.95" fill="#dcdcdc" stroke="#a0a0a0" stroke-width="0.35"/>
<circle cx="496.74" cy="633.69" r="0.95" fill="#dcdcdc" stroke="#a0a0a0" stroke-width="0.35"/>
<circle cx="496.54" cy="640.07" r="0.95" fill="#dcdcdc" stroke="#a0a0a0" stroke-width="0.35"/>
<circle cx="496.58" cy="612.59" r="0.95" fill="#dcdcdc" stroke="#a0a0a0" stroke-width="0.35"/>
<circle cx="497.95" cy="591.47" r="0.95" fill="#dcdcdc" stroke="#a0a0a0" stroke-width="0.35"/>
<circle cx="495.95" cy="637.74" r="0.95" fill="#dcdcdc" stroke="#a0a0a0" stroke-width="0.35"/>
<circle cx="498.28" cy="622.99" r="0.95" fill="#dcdcdc" stroke="#a0a0a0" stroke-width="0.35"/>
<circle cx="493.14" cy="625.32" r="0.95" fill="#dcdcdc" stroke="#a0a0a0" stroke-width="0.35"/>
<circle cx="496.54" cy="628.32" r="0.95" fill="#dcdcdc" stroke="#a0a0a0" stroke-width="0.35"/>
<circle cx="495.09" cy="621.43" r="0.95" fill="#dcdcdc" stroke="#a0a0a0" stroke-width="0.35"/>
<circle cx="500.38" cy="618.92" r="0.95" fill="#dcdcdc" stroke="#a0a0a0" stroke-width="0.35"/>
<circle cx="499.17" cy="619.71" r="0.95" fill="#dcdcdc" stroke="#a0a0a0" stroke-width="0.35"/>
<circle cx="495.51" cy="583.16" r="0.95" fill="#dcdcdc" stroke="#a0a0a0" stroke-width="0.35"/>
<circle cx="498.97" cy="607.96" r="0.95" fill="#dcdcdc" stroke="#a0a0a0" stroke-width="0.35"/>
<circle cx="497.41" cy="594.64" r="0.95" fill="#dcdcdc" stroke="#a0a0a0" stroke-width="0.35"/>
<circle cx="489.08" cy="619.35" r="0.95" fill="#dcdcdc" stroke="#a0a0a0" stroke-width="0.35"/>
<circle cx="490.58" cy="609.8" r="0.95" fill="#dcdcdc" stroke="#a0a0a0" stroke-width="0.35"/>
<circle cx="495.19" cy="584.75" r="0.95" fill="#dcdcdc" stroke="#a0a0a0" stroke-width="0.35"/>
<circle cx="491.52" cy="600.54" r="0.95" fill="#dcdcdc" stroke="#a0a0a0" stroke-width="0.35"/>
<circle cx="492.88" cy="593.1" r="0.95" fill="#dcdcdc" stroke="#a0a0a0" stroke-width="0.35"/>
<circle cx="493.63" cy="609.42" r="0.95" fill="#dcdcdc" stroke="#a0a0a0" stroke-width="0.35"/>
<circle cx="497.57" cy="618.21" r="0.95" fill="#dcdcdc" stroke="#a0a0a0" stroke-width="0.35"/>
<circle cx="499.46" cy="595.77" r="0.95" fill="#dcdcdc" stroke="#a0a0a0" stroke-width="0.35"/>
<circle cx="495.94" cy="581.54" r="0.95" fill="#dcdcdc" stroke="#a0a0a0" stroke-width="0.35"/>
<circle cx="495.01" cy="598.21" r="0.95" fill="#dcdcdc" stroke="#a0a0a0" stroke-width="0.35"/>
<circle cx="497.34" cy="588.4" r="0.95" fill="#dcdcdc" stroke="#a0a0a0" stroke-width="0.35"/>
<circle cx="486.81" cy="603.93" r="0.95" fill="#dcdcdc" stroke="#a0a0a0" stroke-width="0.35"/>
<circle cx="489.04" cy="618.31" r="0.95" fill="#dcdcdc" stroke="#a0a0a0" stroke-width="0.35"/>
<circle cx="492.82" cy="614.21" r="0.95" fill="#dcdcdc" stroke="#a0a0a0" stroke-width="0.35"/>
<circle cx="505.07" cy="616.35" r="0.95" fill="#dcdcdc" stroke="#a0a0a0" stroke-width="0.35"/>
<circle cx="495.56" cy="630.61" r="0.95" fill="#dcdcdc" stroke="#a0a0a0" stroke-width="0.35"/>
<circle cx="496.81" cy="630.28" r="0.95" fill="#dcdcdc" stroke="#a0a0a0" stroke-width="0.35"/>
<circle cx="488.91" cy="603.67" r="0.95" fill="#dcdcdc" stroke="#a0a0a0" stroke-width="0.35"/>
<circle cx="497.23" cy="617.26" r="0.95" fill="#dcdcdc" stroke="#a0a0a0" stroke-width="0.35"/>
<circle cx="496.76" cy="638.93" r="0.95" fill="#dcdcdc" stroke="#a0a0a0" stroke-width="0.35"/>
<circle cx="493.35" cy="618.02" r="0.95" fill="#dcdcdc" stroke="#a0a0a0" stroke-width="0.35"/>
<circle cx="494.38" cy="635.11" r="0.95" fill="#dcdcdc" stroke="#a0a0a0" stroke-width="0.35"/>
<circle cx="496.25" cy="587.98" r="0.95" fill="#dcdcdc" stroke="#a0a0a0" stroke-width="0.35"/>
<circle cx="489.9" cy="618.41" r="0.95" fill="#dcdcdc" stroke="#a0a0a0" stroke-width="0.35"/>
<circle cx="501.97" cy="619.27" r="0.95" fill="#dcdcdc" stroke="#a0a0a0" stroke-width="0.35"/>
<circle cx="494.65" cy="604.05" r="0.95" fill="#dcdcdc" stroke="#a0a0a0" stroke-width="0.35"/>
<circle cx="494.36" cy="595.08" r="0.95" fill="#dcdcdc" stroke="#a0a0a0" stroke-width="0.35"/>
<circle cx="495.85" cy="639.85" r="0.95" fill="#dcdcdc" stroke="#a0a0a0" stroke-width="0.35"/>
<circle cx="496.63" cy="639.17" r="0.95" fill="#dcdcdc" stroke="#a0a0a0" stroke-width="0.35"/>
<circle cx="495.92" cy="648" r="0.95" fill="#ececec" stroke="#a9a9a9" stroke-width="0.3"/>
<circle cx="496.54" cy="651.5" r="0.95" fill="#ececec" stroke="#a9a9a9" stroke-width="0.3"/>
<circle cx="496.22" cy="655" r="0.95" fill="#ececec" stroke="#a9a9a9" stroke-width="0.3"/>
<text x="382.9" y="551.2" text-anchor="middle" font-size="8" fill="#333">****</text>
<path d="M399.6 554.8V551H452.3V554.8" fill="none" stroke="#333" stroke-width="0.9"/>
<text x="425.8" y="551.6" text-anchor="middle" font-size="8" fill="#333">*</text>
<text x="467.7" y="551.5" text-anchor="middle" font-size="6.8" fill="#4a4a4a" font-style="italic" textLength="5.89" lengthAdjust="spacingAndGlyphs">ns</text>
<text x="494.6" y="551.6" text-anchor="middle" font-size="6.8" fill="#4a4a4a" font-style="italic" textLength="10.5" lengthAdjust="spacingAndGlyphs">REF</text>
<line x1="382.9" y1="660.4" x2="382.9" y2="663.6" stroke="#222" stroke-width="0.8"/>
<text transform="translate(385.9,670.7) rotate(-45)" text-anchor="end" font-size="7.49" fill="#333" textLength="10.95" lengthAdjust="spacingAndGlyphs">IGH</text>
<line x1="411.5" y1="660.4" x2="411.5" y2="663.6" stroke="#222" stroke-width="0.8"/>
<text transform="translate(414.5,670.7) rotate(-45)" text-anchor="end" font-size="7.49" fill="#333" textLength="32.42" lengthAdjust="spacingAndGlyphs"><tspan font-style="italic">PAX5/BCL6</tspan></text>
<line x1="439.5" y1="660.4" x2="439.5" y2="663.6" stroke="#222" stroke-width="0.8"/>
<text transform="translate(442.5,670.7) rotate(-45)" text-anchor="end" font-size="7.49" fill="#333" textLength="37.32" lengthAdjust="spacingAndGlyphs">Other non–IG</text>
<line x1="467.7" y1="660.4" x2="467.7" y2="663.6" stroke="#222" stroke-width="0.8"/>
<text transform="translate(470.7,670.7) rotate(-45)" text-anchor="end" font-size="7.49" fill="#333" textLength="40.06" lengthAdjust="spacingAndGlyphs">False negative</text>
<line x1="496" y1="660.4" x2="496" y2="663.6" stroke="#222" stroke-width="0.8"/>
<text transform="translate(499,670.7) rotate(-45)" text-anchor="end" font-size="7.49" fill="#333" textLength="14.73" lengthAdjust="spacingAndGlyphs">None</text>
<text transform="translate(346.8,598.4) rotate(-90)" text-anchor="middle" font-size="8.6" fill="#333" textLength="85" lengthAdjust="spacingAndGlyphs">Normalized <tspan font-style="italic">MYC</tspan> expression</text>
<text x="440.8" y="713.2" text-anchor="middle" font-size="8.8" fill="#333" textLength="85" lengthAdjust="spacingAndGlyphs"><tspan font-style="italic">MYC</tspan> rearrangement partner</text>
</svg></body></html>
